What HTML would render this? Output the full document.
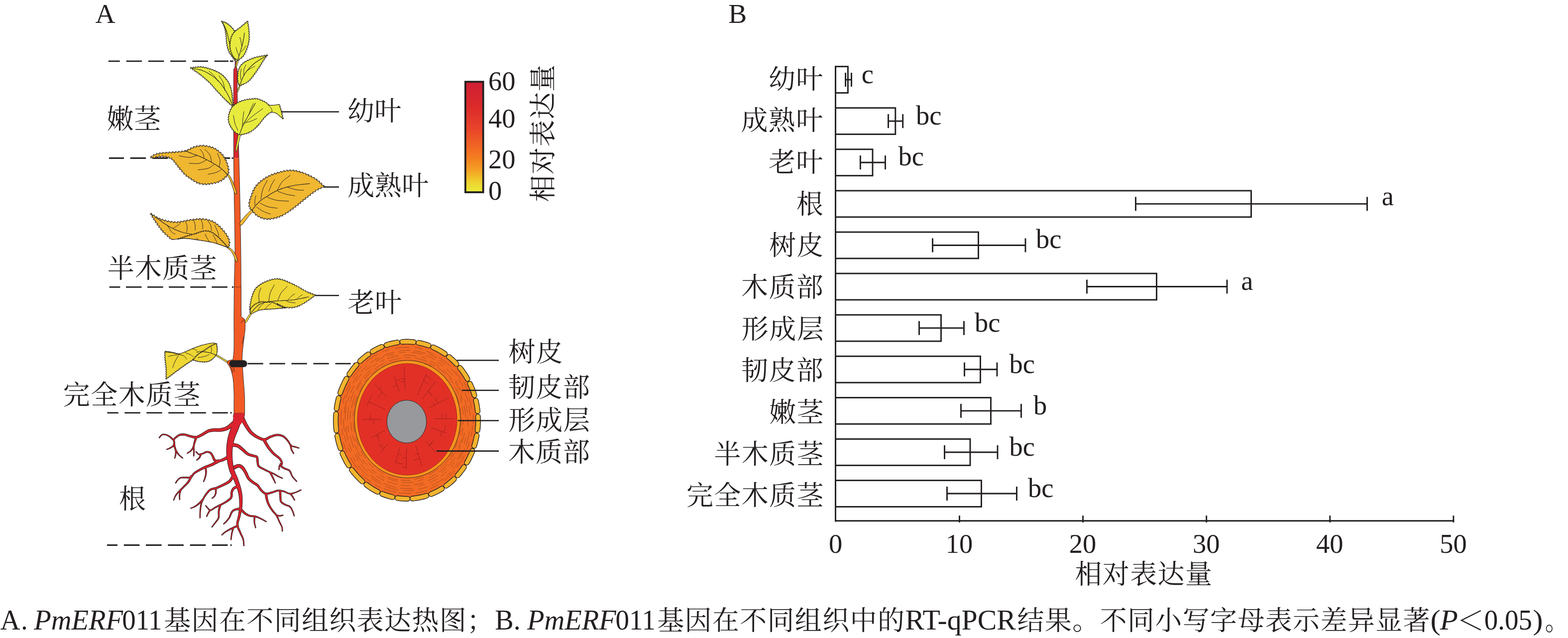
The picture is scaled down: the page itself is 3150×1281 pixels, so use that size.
<!DOCTYPE html>
<html lang="zh-CN">
<head>
<meta charset="utf-8">
<title>PmERF011 基因组织表达</title>
<style>
html,body{margin:0;padding:0;background:#fff;}
body{width:3150px;height:1281px;overflow:hidden;}
svg{display:block;}
svg text{font-family:"Liberation Serif","Noto Serif CJK SC",serif;fill:#231f20;}
</style>
</head>
<body>
<svg width="3150" height="1281" viewBox="0 0 3150 1281">
<rect width="3150" height="1281" fill="#fff"/>
<g id="chart">
<rect x="1678.5" y="133.60" width="24.9" height="52.9" fill="#fff" stroke="#231f20" stroke-width="2.9"/>
<line x1="1698.6" y1="160.05" x2="1710.5" y2="160.05" stroke="#231f20" stroke-width="2.9"/>
<line x1="1698.6" y1="146.05" x2="1698.6" y2="174.05" stroke="#231f20" stroke-width="2.9"/>
<line x1="1710.5" y1="146.05" x2="1710.5" y2="174.05" stroke="#231f20" stroke-width="2.9"/>
<text x="1730.82" y="167.4" font-size="54.5">c</text>
<text x="1543.88" y="177.7" font-size="54" letter-spacing="1.4">幼叶</text>
<rect x="1678.5" y="216.70" width="120.3" height="52.9" fill="#fff" stroke="#231f20" stroke-width="2.9"/>
<line x1="1784.5" y1="243.15" x2="1813.7" y2="243.15" stroke="#231f20" stroke-width="2.9"/>
<line x1="1784.5" y1="229.15" x2="1784.5" y2="257.15" stroke="#231f20" stroke-width="2.9"/>
<line x1="1813.7" y1="229.15" x2="1813.7" y2="257.15" stroke="#231f20" stroke-width="2.9"/>
<text x="1840.00" y="250" font-size="54.5">bc</text>
<text x="1488.48" y="261.4" font-size="54" letter-spacing="1.4">成熟叶</text>
<rect x="1678.5" y="299.80" width="74.5" height="52.9" fill="#fff" stroke="#231f20" stroke-width="2.9"/>
<line x1="1728.4" y1="326.25" x2="1778.5" y2="326.25" stroke="#231f20" stroke-width="2.9"/>
<line x1="1728.4" y1="312.25" x2="1728.4" y2="340.25" stroke="#231f20" stroke-width="2.9"/>
<line x1="1778.5" y1="312.25" x2="1778.5" y2="340.25" stroke="#231f20" stroke-width="2.9"/>
<text x="1804.50" y="332" font-size="54.5">bc</text>
<text x="1543.88" y="345.0" font-size="54" letter-spacing="1.4">老叶</text>
<rect x="1678.5" y="382.90" width="835.0" height="52.9" fill="#fff" stroke="#231f20" stroke-width="2.9"/>
<line x1="2281.5" y1="409.35" x2="2746.5" y2="409.35" stroke="#231f20" stroke-width="2.9"/>
<line x1="2281.5" y1="395.35" x2="2281.5" y2="423.35" stroke="#231f20" stroke-width="2.9"/>
<line x1="2746.5" y1="395.35" x2="2746.5" y2="423.35" stroke="#231f20" stroke-width="2.9"/>
<text x="2775.79" y="412" font-size="54.5">a</text>
<text x="1599.82" y="428.6" font-size="54" letter-spacing="1.4">根</text>
<rect x="1678.5" y="466.00" width="287.0" height="52.9" fill="#fff" stroke="#231f20" stroke-width="2.9"/>
<line x1="1873.5" y1="492.45" x2="2060.0" y2="492.45" stroke="#231f20" stroke-width="2.9"/>
<line x1="1873.5" y1="478.45" x2="1873.5" y2="506.45" stroke="#231f20" stroke-width="2.9"/>
<line x1="2060.0" y1="478.45" x2="2060.0" y2="506.45" stroke="#231f20" stroke-width="2.9"/>
<text x="2081.00" y="497.5" font-size="54.5">bc</text>
<text x="1544.96" y="512.3" font-size="54" letter-spacing="1.4">树皮</text>
<rect x="1678.5" y="549.10" width="645.0" height="52.9" fill="#fff" stroke="#231f20" stroke-width="2.9"/>
<line x1="2183.5" y1="575.55" x2="2465.0" y2="575.55" stroke="#231f20" stroke-width="2.9"/>
<line x1="2183.5" y1="561.55" x2="2183.5" y2="589.55" stroke="#231f20" stroke-width="2.9"/>
<line x1="2465.0" y1="561.55" x2="2465.0" y2="589.55" stroke="#231f20" stroke-width="2.9"/>
<text x="2493.29" y="582" font-size="54.5">a</text>
<text x="1489.02" y="596.0" font-size="54" letter-spacing="1.4">木质部</text>
<rect x="1678.5" y="632.20" width="212.0" height="52.9" fill="#fff" stroke="#231f20" stroke-width="2.9"/>
<line x1="1846.5" y1="658.65" x2="1936.5" y2="658.65" stroke="#231f20" stroke-width="2.9"/>
<line x1="1846.5" y1="644.65" x2="1846.5" y2="672.65" stroke="#231f20" stroke-width="2.9"/>
<line x1="1936.5" y1="644.65" x2="1936.5" y2="672.65" stroke="#231f20" stroke-width="2.9"/>
<text x="1958.00" y="666" font-size="54.5">bc</text>
<text x="1489.83" y="679.6" font-size="54" letter-spacing="1.4">形成层</text>
<rect x="1678.5" y="715.30" width="291.0" height="52.9" fill="#fff" stroke="#231f20" stroke-width="2.9"/>
<line x1="1937.5" y1="741.75" x2="2003.0" y2="741.75" stroke="#231f20" stroke-width="2.9"/>
<line x1="1937.5" y1="727.75" x2="1937.5" y2="755.75" stroke="#231f20" stroke-width="2.9"/>
<line x1="2003.0" y1="727.75" x2="2003.0" y2="755.75" stroke="#231f20" stroke-width="2.9"/>
<text x="2027.50" y="749" font-size="54.5">bc</text>
<text x="1489.02" y="763.2" font-size="54" letter-spacing="1.4">韧皮部</text>
<rect x="1678.5" y="798.40" width="312.0" height="52.9" fill="#fff" stroke="#231f20" stroke-width="2.9"/>
<line x1="1930.5" y1="824.85" x2="2051.5" y2="824.85" stroke="#231f20" stroke-width="2.9"/>
<line x1="1930.5" y1="810.85" x2="1930.5" y2="838.85" stroke="#231f20" stroke-width="2.9"/>
<line x1="2051.5" y1="810.85" x2="2051.5" y2="838.85" stroke="#231f20" stroke-width="2.9"/>
<text x="2076.00" y="832" font-size="54.5">b</text>
<text x="1545.23" y="846.9" font-size="54" letter-spacing="1.4">嫩茎</text>
<rect x="1678.5" y="881.50" width="270.5" height="52.9" fill="#fff" stroke="#231f20" stroke-width="2.9"/>
<line x1="1897.5" y1="907.95" x2="2004.0" y2="907.95" stroke="#231f20" stroke-width="2.9"/>
<line x1="1897.5" y1="893.95" x2="1897.5" y2="921.95" stroke="#231f20" stroke-width="2.9"/>
<line x1="2004.0" y1="893.95" x2="2004.0" y2="921.95" stroke="#231f20" stroke-width="2.9"/>
<text x="2027.50" y="914.5" font-size="54.5">bc</text>
<text x="1434.43" y="930.5" font-size="54" letter-spacing="1.4">半木质茎</text>
<rect x="1678.5" y="964.60" width="293.0" height="52.9" fill="#fff" stroke="#231f20" stroke-width="2.9"/>
<line x1="1902.5" y1="991.05" x2="2042.5" y2="991.05" stroke="#231f20" stroke-width="2.9"/>
<line x1="1902.5" y1="977.05" x2="1902.5" y2="1005.05" stroke="#231f20" stroke-width="2.9"/>
<line x1="2042.5" y1="977.05" x2="2042.5" y2="1005.05" stroke="#231f20" stroke-width="2.9"/>
<text x="2065.00" y="998" font-size="54.5">bc</text>
<text x="1379.03" y="1014.2" font-size="54" letter-spacing="1.4">完全木质茎</text>
<line x1="1678.5" y1="132.15" x2="1678.5" y2="1047.45" stroke="#231f20" stroke-width="2.9"/>
<line x1="1677.05" y1="1045.7" x2="2921.3" y2="1045.7" stroke="#231f20" stroke-width="2.9"/>
<text x="1678.5" y="1110" font-size="54.5" text-anchor="middle">0</text>
<line x1="1927.5" y1="1035.2" x2="1927.5" y2="1049.0" stroke="#231f20" stroke-width="2.9"/>
<text x="1927.0" y="1110" font-size="54.5" text-anchor="middle">10</text>
<line x1="2175.6" y1="1035.2" x2="2175.6" y2="1049.0" stroke="#231f20" stroke-width="2.9"/>
<text x="2175.1" y="1110" font-size="54.5" text-anchor="middle">20</text>
<line x1="2423.7000000000003" y1="1035.2" x2="2423.7000000000003" y2="1049.0" stroke="#231f20" stroke-width="2.9"/>
<text x="2423.2000000000003" y="1110" font-size="54.5" text-anchor="middle">30</text>
<line x1="2671.8" y1="1035.2" x2="2671.8" y2="1049.0" stroke="#231f20" stroke-width="2.9"/>
<text x="2671.3" y="1110" font-size="54.5" text-anchor="middle">40</text>
<line x1="2919.9" y1="1035.2" x2="2919.9" y2="1049.0" stroke="#231f20" stroke-width="2.9"/>
<text x="2919.4" y="1110" font-size="54.5" text-anchor="middle">50</text>
<text x="2159.38" y="1171.5" font-size="54" letter-spacing="1.4">相对表达量</text>
</g>
<text x="191.54" y="46" font-size="55.5">A</text>
<text x="1463.13" y="46" font-size="55.5">B</text>
<g id="caption">
<text transform="translate(0.38,1264) scale(0.9809,1.0000)" font-size="56.5">A</text>
<text transform="translate(42.33,1264) scale(0.9440,1.0000)" font-size="56.5">.</text>
<text transform="translate(68.28,1264) scale(0.9996,1.0000)" font-size="56.5" font-style="italic">PmERF</text>
<text transform="translate(245.21,1264) scale(0.9708,1.0000)" font-size="56.5">011</text>
<text x="329.24" y="1265" font-size="54" letter-spacing="1.35">基因在不同组织表达热图；</text>
<text transform="translate(994.21,1264) scale(0.9950,1.0000)" font-size="56.5">B.</text>
<text transform="translate(1059.08,1264) scale(0.9996,1.0000)" font-size="56.5" font-style="italic">PmERF</text>
<text transform="translate(1236.40,1264) scale(0.9748,1.0000)" font-size="56.5">011</text>
<text x="1320.14" y="1265" font-size="54" letter-spacing="1.35">基因在不同组织中的</text>
<text transform="translate(1818.47,1264) scale(1.0226,1.0000)" font-size="56.5">RT-qPCR</text>
<text x="2043.61" y="1265" font-size="54" letter-spacing="1.35">结果。不同小写字母表示差异显著</text>
<text transform="translate(2873.43,1264) scale(1.0897,1.0000)" font-size="56.5">(</text>
<text transform="translate(2892.80,1264) scale(1.0469,1.0000)" font-size="56.5" font-style="italic">P</text>
<text transform="translate(2926.68,1265) scale(1.0210,1.0000)" font-size="54">＜</text>
<text transform="translate(2981.70,1264) scale(0.9750,1.0000)" font-size="56.5">0.05</text>
<text transform="translate(3079.39,1264) scale(1.0688,1.0000)" font-size="56.5">)</text>
<text transform="translate(3103.72,1265) scale(0.8707,1.0000)" font-size="54">。</text>
</g>
<g id="panelA">
<text x="214.44" y="258" font-size="54" letter-spacing="0.8">嫩茎</text>
<text x="215.64" y="558" font-size="54" letter-spacing="1.3">半木质茎</text>
<text x="126.84" y="812" font-size="54" letter-spacing="1.4">完全木质茎</text>
<text x="239.11" y="1020.5" font-size="54">根</text>
<text x="698.04" y="242.4" font-size="54" letter-spacing="0.3">幼叶</text>
<text x="698.31" y="391.6" font-size="54" letter-spacing="0.5">成熟叶</text>
<text x="698.58" y="626.5" font-size="54" letter-spacing="0.3">老叶</text>
<text x="1021.48" y="726" font-size="54" letter-spacing="1.0">树皮</text>
<text x="1020.94" y="797" font-size="54" letter-spacing="1.0">韧皮部</text>
<text x="1021.21" y="863" font-size="54" letter-spacing="1.0">形成层</text>
<text x="1020.94" y="927" font-size="54" letter-spacing="1.0">木质部</text>
<path d="M217.8,122.9H240.8 M253.6,122.9H285.1 M297.9,122.9H329.4 M342.2,122.9H373.7 M386.5,122.9H418.0 M430.8,122.9H459.0" fill="none" stroke="#231f20" stroke-width="2.8"/>
<path d="M462,122.9H468.6" fill="none" stroke="#231f20" stroke-width="2.8"/>
<path d="M218.9,317.5H248.9 M261.7,317.5H293.2 M306.0,317.5H337.5 M350.3,317.5H381.8 M394.6,317.5H426.1 M438.9,317.5H462.5" fill="none" stroke="#231f20" stroke-width="2.8"/>
<path d="M465.5,317.5H468.8" fill="none" stroke="#231f20" stroke-width="2.8"/>
<path d="M219.6,576.4H241.4 M253.0,576.4H284.5 M296.1,576.4H327.6 M339.2,576.4H370.7 M382.3,576.4H413.8 M425.4,576.4H456.9" fill="none" stroke="#231f20" stroke-width="2.8"/>
<path d="M466,576.4H469.2" fill="none" stroke="#231f20" stroke-width="2.8"/>
<path d="M215.3,828.8H237.8 M250.3,828.8H281.8 M294.3,828.8H325.8 M338.3,828.8H369.8 M382.3,828.8H413.8 M426.3,828.8H457.8" fill="none" stroke="#231f20" stroke-width="2.8"/>
<path d="M462.5,828.8H465.6" fill="none" stroke="#231f20" stroke-width="2.8"/>
<path d="M215.0,1094.5H236.0 M248.8,1094.5H280.3 M293.1,1094.5H324.6 M337.4,1094.5H368.9 M381.7,1094.5H413.2 M426.0,1094.5H457.5" fill="none" stroke="#231f20" stroke-width="2.8"/>
<path d="M462.5,1094.5H465.6" fill="none" stroke="#231f20" stroke-width="2.8"/>
<path d="M497.5,730.2H528.7 M541.5,730.2H572.7 M585.5,730.2H616.7 M629.5,730.2H660.7 M673.5,730.2H704.7" fill="none" stroke="#231f20" stroke-width="2.8"/>
<path d="M710,730.2H713.5" fill="none" stroke="#231f20" stroke-width="2.8"/>
<line x1="566" y1="224.5" x2="681" y2="224.5" stroke="#231f20" stroke-width="2.6"/>
<line x1="651" y1="375.5" x2="681" y2="375.5" stroke="#231f20" stroke-width="2.6"/>
<line x1="634" y1="593.2" x2="681" y2="593.2" stroke="#231f20" stroke-width="2.6"/>
<defs><linearGradient id="cb" x1="0" y1="0" x2="0" y2="1"><stop offset="0" stop-color="#cf1f33"/><stop offset="0.22" stop-color="#dc2a2b"/><stop offset="0.42" stop-color="#e8432a"/><stop offset="0.55" stop-color="#ef5e25"/><stop offset="0.68" stop-color="#f47b20"/><stop offset="0.80" stop-color="#f4a124"/><stop offset="0.90" stop-color="#f0cf2e"/><stop offset="1" stop-color="#eaed3a"/></linearGradient></defs>
<rect x="934.9" y="164.2" width="35.8" height="221.8" fill="url(#cb)" stroke="#231f20" stroke-width="3.8"/>
<text x="981" y="181" font-size="54.5">60</text>
<text x="981" y="256" font-size="54.5">40</text>
<text x="981" y="337.5" font-size="54.5">20</text>
<text x="981" y="400.5" font-size="54.5">0</text>
<text transform="translate(1109.5,405.5) rotate(-90)" font-size="54" letter-spacing="1.4">相对表达量</text>
<path d="M488.9,831.3 488.3,832.7 487.8,834.1 487.3,835.5 486.8,836.9 486.3,838.4 485.8,839.8 485.3,841.2 484.8,842.6 484.3,844.1 483.8,845.5 483.3,847.0 482.8,848.4 482.3,849.8 481.9,851.3 481.3,852.7 480.8,854.1 480.3,855.6 479.8,857.0 479.2,858.5 478.7,860.1 478.1,861.5 477.5,862.9 477.0,864.3 476.4,865.7 475.8,867.1 475.2,868.5 474.6,869.9 474.0,871.3 473.5,872.6 472.9,874.0 472.4,875.3 471.9,876.7 471.4,878.0 471.0,879.2 470.5,880.7 470.1,882.0 469.7,883.3 469.3,884.8 469.0,886.1 468.6,887.5 468.3,888.9 468.0,890.3 467.7,891.6 467.4,893.1 467.2,894.5 466.9,895.9 466.7,897.2 466.5,898.7 466.4,900.1 466.2,901.5 466.1,903.0 466.0,904.4 465.9,905.8 465.8,907.2 465.8,908.7 465.8,910.1 465.8,911.5 465.8,913.0 465.8,914.4 465.9,915.8 465.9,917.3 466.0,918.8 466.1,920.2 466.2,921.7 466.3,923.2 466.5,924.6 466.6,926.1 466.7,927.5 466.9,929.0 467.1,930.4 467.3,931.9 467.5,933.3 467.7,934.7 468.0,936.2 468.3,937.5 468.6,938.9 468.9,940.2 469.2,941.7 469.6,943.0 470.0,944.3 470.5,945.7 471.0,947.0 471.5,948.3 472.1,949.7 472.6,951.0 473.2,952.4 473.8,953.7 474.5,955.1 475.1,956.5 475.7,957.9 476.3,959.4 476.8,960.8 477.4,962.3 477.9,963.8 478.4,965.2 478.9,966.6 479.4,968.0 479.8,969.5 480.3,970.9 480.8,972.3 481.3,973.8 481.7,975.2 482.2,976.7 482.6,978.2 483.0,979.7 483.4,981.2 483.8,982.7 484.1,984.2 484.4,985.7 484.8,987.2 485.0,988.7 485.3,990.3 485.5,991.9 485.6,993.3 485.8,994.9 485.9,996.4 486.0,998.0 486.1,999.5 486.2,1001.0 486.2,1002.6 486.2,1004.1 486.2,1005.6 486.2,1007.2 486.2,1008.7 486.2,1010.2 486.1,1011.7 486.0,1013.2 485.9,1014.8 485.8,1016.4 485.6,1017.9 485.5,1019.4 485.2,1020.9 485.0,1022.4 484.7,1023.9 484.5,1025.4 484.2,1026.9 483.9,1028.4 483.6,1029.9 483.2,1031.4 482.9,1032.8 482.6,1034.3 482.3,1035.8 482.0,1037.3 481.6,1038.8 481.1,1040.2 480.7,1041.7 480.2,1043.1 479.8,1044.6 479.3,1046.0 478.9,1047.4 478.6,1048.8 478.3,1050.1 478.1,1051.6 478.0,1053.0 478.1,1054.4 478.3,1055.8 478.6,1057.2 479.0,1058.5 479.4,1059.9 480.0,1061.3 480.6,1062.6 481.2,1064.0 481.8,1065.4 482.4,1066.8 483.0,1068.2 483.5,1069.6 484.1,1070.9 484.7,1072.3 485.4,1073.7 486.0,1075.0 486.6,1076.4 487.2,1077.8 487.8,1079.2 488.3,1080.6 488.8,1082.1 489.2,1083.5 489.4,1085.0 489.6,1086.6 489.7,1088.1 489.8,1089.6 489.9,1091.1 489.9,1092.6 490.0,1094.1 490.1,1095.6 489.9,1095.6 489.7,1094.1 489.6,1092.6 489.4,1091.1 489.3,1089.6 489.2,1088.1 489.0,1086.6 488.7,1085.2 488.4,1083.7 488.0,1082.3 487.5,1080.9 486.9,1079.6 486.3,1078.2 485.6,1076.9 484.9,1075.5 484.2,1074.2 483.5,1072.9 482.8,1071.5 482.2,1070.2 481.6,1068.8 480.9,1067.4 480.3,1066.1 479.6,1064.8 478.9,1063.4 478.3,1062.1 477.6,1060.7 477.1,1059.2 476.6,1057.7 476.1,1056.2 475.9,1054.6 475.7,1053.0 475.7,1051.4 475.9,1049.9 476.1,1048.3 476.4,1046.8 476.8,1045.3 477.2,1043.8 477.5,1042.3 477.9,1040.9 478.3,1039.5 478.6,1038.0 479.0,1036.6 479.2,1035.2 479.5,1033.7 479.7,1032.2 479.9,1030.7 480.2,1029.3 480.4,1027.8 480.6,1026.3 480.8,1024.8 481.0,1023.4 481.2,1021.9 481.4,1020.4 481.5,1019.0 481.6,1017.5 481.7,1016.0 481.8,1014.6 481.8,1013.1 481.8,1011.6 481.8,1010.2 481.7,1008.7 481.7,1007.2 481.6,1005.7 481.6,1004.3 481.5,1002.8 481.3,1001.3 481.2,999.8 481.1,998.4 480.9,997.0 480.7,995.5 480.5,994.1 480.2,992.6 480.0,991.2 479.7,989.8 479.3,988.4 479.0,987.0 478.6,985.5 478.2,984.2 477.8,982.7 477.3,981.4 476.9,980.0 476.4,978.6 475.9,977.2 475.4,975.8 474.9,974.4 474.3,973.1 473.8,971.7 473.2,970.3 472.7,968.9 472.1,967.5 471.6,966.1 471.0,964.8 470.5,963.5 469.8,962.1 469.2,960.8 468.6,959.5 467.9,958.2 467.2,956.9 466.5,955.5 465.9,954.2 465.2,952.8 464.5,951.4 463.9,950.0 463.2,948.5 462.6,947.1 462.0,945.5 461.5,944.0 461.0,942.5 460.6,941.0 460.2,939.4 459.8,937.9 459.4,936.4 459.1,934.8 458.7,933.3 458.5,931.8 458.2,930.3 457.9,928.7 457.7,927.2 457.4,925.7 457.2,924.2 457.0,922.7 456.8,921.1 456.6,919.6 456.4,918.0 456.3,916.5 456.1,915.0 456.0,913.4 455.9,911.9 455.8,910.3 455.7,908.7 455.7,907.2 455.7,905.6 455.7,904.0 455.7,902.4 455.7,900.9 455.8,899.3 455.9,897.7 456.0,896.2 456.1,894.6 456.3,893.0 456.5,891.4 456.7,889.9 456.9,888.3 457.1,886.7 457.4,885.2 457.7,883.6 458.0,882.0 458.3,880.6 458.6,879.0 459.0,877.4 459.4,875.9 459.8,874.3 460.3,872.7 460.7,871.3 461.2,869.7 461.6,868.3 462.1,866.8 462.6,865.4 463.1,864.0 463.6,862.5 464.1,861.1 464.5,859.7 465.0,858.3 465.4,857.0 465.8,855.5 466.2,854.2 466.6,852.9 467.0,851.4 467.4,850.0 467.8,848.6 468.1,847.1 468.5,845.7 468.8,844.3 469.2,842.8 469.5,841.4 469.9,839.9 470.2,838.5 470.6,837.0 470.9,835.5 471.2,834.1 471.6,832.6 471.9,831.1 472.2,829.7 472.6,828.2 472.8,826.7Z" fill="#231f20" stroke="#231f20" stroke-width="2.3" stroke-linejoin="round"/>
<path d="M488.5,835.1 489.0,836.5 489.6,837.9 490.2,839.3 490.8,840.7 491.4,842.1 492.0,843.4 492.6,844.8 493.2,846.1 493.8,847.4 494.5,848.7 495.1,850.0 495.8,851.3 496.5,852.6 497.3,853.9 498.0,855.2 498.7,856.4 499.4,857.7 500.2,858.9 501.0,860.2 501.8,861.4 502.5,862.6 503.4,863.7 504.3,864.9 505.2,866.0 506.1,867.0 507.1,868.0 508.1,868.9 509.1,869.9 510.3,870.8 511.4,871.7 512.6,872.5 513.7,873.4 515.0,874.2 516.2,874.9 517.4,875.7 518.7,876.4 520.0,877.1 521.3,877.8 522.5,878.4 523.8,879.0 525.1,879.6 526.5,880.0 527.8,880.4 529.1,880.7 530.4,880.8 531.7,880.8 533.0,880.6 534.2,880.2 535.4,879.6 536.6,878.9 537.9,878.2 539.3,877.4 540.7,876.7 542.1,876.0 543.6,875.5 545.0,875.0 546.4,874.6 547.8,874.1 549.3,873.7 550.8,873.2 552.3,872.9 553.8,872.6 555.3,872.4 556.9,872.2 558.4,872.3 560.0,872.4 561.6,872.6 563.1,872.9 564.6,873.3 566.0,873.8 567.5,874.4 568.9,875.1 570.2,875.9 571.5,876.8 572.7,877.8 573.8,878.9 574.8,880.0 575.8,881.1 576.8,882.3 577.7,883.5 578.6,884.6 579.5,885.8 580.4,887.1 581.2,888.4 581.9,889.8 582.6,891.1 583.3,892.3 584.1,893.5 585.1,894.5 586.3,895.3 587.7,895.8 589.1,896.1 590.5,896.4 592.0,896.7 593.4,897.2 594.9,897.6 596.3,898.1 597.7,898.5 599.1,899.0 600.6,899.4 600.5,899.7 599.1,899.3 597.6,898.9 596.2,898.5 594.7,898.1 593.3,897.7 591.9,897.3 590.4,897.0 589.0,896.7 587.5,896.4 586.0,896.0 584.6,895.1 583.5,894.1 582.6,892.8 581.7,891.5 581.0,890.2 580.2,889.0 579.5,887.7 578.6,886.5 577.7,885.4 576.7,884.3 575.8,883.1 574.8,882.0 573.8,881.0 572.7,879.9 571.7,879.0 570.5,878.1 569.3,877.3 568.1,876.6 566.8,876.0 565.5,875.5 564.1,875.1 562.7,874.8 561.2,874.5 559.8,874.4 558.4,874.3 557.0,874.3 555.6,874.5 554.2,874.7 552.8,875.1 551.4,875.5 550.0,875.9 548.6,876.4 547.2,876.9 545.8,877.4 544.4,878.0 543.1,878.5 541.9,879.1 540.6,879.8 539.4,880.6 538.1,881.4 536.8,882.2 535.3,883.0 533.8,883.5 532.1,883.9 530.4,884.0 528.7,883.9 527.1,883.7 525.6,883.3 524.0,882.8 522.6,882.3 521.1,881.7 519.7,881.0 518.3,880.4 517.0,879.7 515.6,879.0 514.2,878.3 512.9,877.5 511.6,876.7 510.3,875.9 509.0,875.0 507.7,874.1 506.5,873.2 505.3,872.2 504.1,871.2 502.9,870.1 501.8,869.0 500.7,867.8 499.7,866.7 498.7,865.4 497.8,864.2 496.9,862.9 496.0,861.7 495.2,860.4 494.3,859.1 493.5,857.8 492.7,856.6 491.9,855.3 491.1,854.0 490.3,852.7 489.5,851.4 488.8,850.0 488.0,848.7 487.3,847.4 486.6,846.0 485.9,844.7 485.2,843.3 484.5,842.0 483.8,840.7 483.1,839.4 482.4,838.1Z" fill="#231f20" stroke="#231f20" stroke-width="2.3" stroke-linejoin="round"/>
<path d="M584.6,893.0 584.8,894.5 584.9,896.1 585.1,897.6 585.3,899.2 585.6,900.6 586.0,902.1 586.5,903.6 587.1,905.0 587.8,906.3 588.5,907.7 589.3,909.1 590.0,910.5 589.7,910.6 589.0,909.3 588.1,907.9 587.3,906.6 586.5,905.3 585.8,903.9 585.1,902.4 584.6,900.9 584.2,899.4 583.9,897.8 583.6,896.3 583.2,894.8 582.9,893.3Z" fill="#231f20" stroke="#231f20" stroke-width="2.3" stroke-linejoin="round"/>
<path d="M531.7,880.7 532.3,882.1 533.0,883.4 533.7,884.7 534.4,886.1 535.0,887.4 535.7,888.7 536.4,890.0 537.1,891.3 537.8,892.6 538.5,893.9 539.3,895.2 540.0,896.4 540.8,897.6 541.7,898.8 542.5,900.0 543.4,901.2 544.3,902.3 545.2,903.5 546.1,904.6 547.0,905.7 548.0,906.8 549.0,907.9 550.0,909.0 551.0,910.0 552.0,911.0 553.1,912.0 554.3,912.9 555.4,913.8 556.6,914.7 557.8,915.6 559.0,916.5 560.1,917.5 561.3,918.6 562.4,919.7 563.4,920.9 564.3,922.2 565.1,923.6 565.8,924.9 566.4,926.4 566.8,927.9 567.2,929.4 567.2,931.2 566.5,932.9 565.8,934.1 565.4,935.2 565.8,935.9 566.8,936.9 568.0,937.7 569.2,938.5 570.5,939.2 571.8,939.9 573.1,940.6 574.4,941.2 575.8,941.6 577.2,942.0 578.7,942.5 580.0,943.2 581.4,944.1 582.4,945.3 583.3,946.6 584.0,947.9 584.6,949.3 585.1,950.7 585.6,952.1 586.2,953.5 586.8,954.9 587.4,956.2 588.2,957.4 589.1,958.6 590.0,959.8 590.9,960.9 592.0,962.0 593.0,963.1 594.0,964.1 595.0,965.2 596.0,966.3 595.9,966.5 594.8,965.4 593.8,964.4 592.7,963.3 591.7,962.3 590.6,961.2 589.6,960.1 588.6,959.0 587.7,957.8 586.9,956.5 586.2,955.2 585.5,953.8 584.9,952.4 584.4,951.0 583.8,949.7 583.2,948.4 582.5,947.1 581.7,945.9 580.7,944.9 579.6,944.2 578.2,943.6 576.9,943.2 575.4,942.8 574.0,942.4 572.5,941.8 571.1,941.1 569.8,940.5 568.5,939.8 567.2,939.0 565.8,938.1 564.7,937.0 563.8,935.2 564.2,933.4 565.0,932.1 565.4,930.9 565.4,929.8 565.0,928.4 564.6,927.1 564.0,925.8 563.3,924.6 562.5,923.4 561.7,922.3 560.8,921.2 559.8,920.2 558.7,919.3 557.5,918.4 556.4,917.5 555.1,916.7 553.9,915.8 552.7,914.9 551.5,914.0 550.3,913.0 549.1,912.0 548.0,911.0 546.9,909.9 545.9,908.8 544.8,907.7 543.8,906.6 542.8,905.4 541.8,904.3 540.9,903.1 539.9,901.9 539.0,900.7 538.1,899.5 537.2,898.3 536.3,897.0 535.5,895.8 534.7,894.5 533.9,893.2 533.1,891.9 532.3,890.6 531.6,889.3 530.8,888.0 530.1,886.7 529.3,885.5 528.5,884.2 527.7,882.9Z" fill="#231f20" stroke="#231f20" stroke-width="2.3" stroke-linejoin="round"/>
<path d="M564.6,931.7 563.7,933.0 562.9,934.3 562.1,935.6 561.5,936.9 561.2,938.3 561.0,939.8 560.8,941.4 560.7,942.9 560.4,942.9 560.4,941.4 560.5,939.8 560.5,938.3 560.8,936.7 561.3,935.2 561.9,933.7 562.6,932.3 563.2,930.9Z" fill="#231f20" stroke="#231f20" stroke-width="2.3" stroke-linejoin="round"/>
<path d="M470.7,853.1 469.5,853.9 468.3,854.8 467.2,855.6 466.0,856.6 464.8,857.5 463.5,858.4 462.2,859.4 460.9,860.3 459.5,861.1 458.0,861.9 456.5,862.6 454.9,863.2 453.4,863.7 451.8,864.1 450.2,864.5 448.6,864.8 447.1,865.1 445.6,865.3 444.1,865.5 442.5,865.7 440.9,865.8 439.3,865.9 437.7,865.9 436.1,865.8 434.6,865.7 433.1,865.7 431.7,865.6 430.2,865.6 428.9,865.7 427.4,865.8 425.9,866.0 424.5,866.1 423.1,866.3 421.8,866.6 420.4,867.0 419.1,867.4 417.9,867.9 416.6,868.6 415.4,869.2 414.1,870.0 412.8,870.8 411.5,871.5 410.2,872.3 408.9,873.1 407.5,873.8 406.1,874.5 404.8,875.2 403.5,875.9 402.1,876.5 400.7,877.2 399.3,877.9 397.8,878.4 396.2,878.9 394.6,879.2 393.0,879.4 391.4,879.3 389.7,879.1 388.1,878.8 386.6,878.4 385.2,878.0 383.7,877.6 382.3,877.2 380.8,876.8 379.3,876.4 377.9,875.9 376.5,875.4 375.1,874.9 373.7,874.4 372.3,874.0 370.9,873.7 369.5,873.6 368.0,873.5 366.6,873.4 365.1,873.5 363.7,873.6 362.3,873.8 361.0,874.2 359.7,874.7 358.4,875.4 357.2,876.2 356.0,877.1 354.8,878.0 353.6,878.9 352.5,879.8 351.5,880.8 350.5,882.0 349.0,883.0 347.0,882.8 345.7,881.8 344.6,880.7 343.6,879.6 342.5,878.6 341.4,877.7 340.2,876.8 339.0,876.0 337.7,875.3 336.4,874.5 335.1,873.9 333.7,873.3 332.3,872.9 330.9,872.7 329.4,872.6 327.9,872.7 326.5,873.0 325.1,873.5 323.9,874.3 322.9,875.4 321.9,876.5 321.0,877.7 320.0,878.9 319.8,878.7 320.8,877.5 321.7,876.3 322.6,875.1 323.6,874.0 324.9,873.1 326.3,872.5 327.8,872.2 329.4,872.0 330.9,872.1 332.4,872.3 333.9,872.6 335.4,873.2 336.8,873.8 338.1,874.5 339.4,875.2 340.7,876.0 342.0,876.8 343.3,877.8 344.4,878.9 345.4,879.9 346.5,880.9 347.7,881.7 348.6,881.8 349.5,881.1 350.4,879.9 351.5,878.8 352.7,877.7 353.9,876.8 355.0,875.9 356.3,874.9 357.5,874.0 358.9,873.2 360.3,872.5 361.9,872.0 363.4,871.7 365.0,871.5 366.5,871.4 368.1,871.4 369.6,871.5 371.2,871.6 372.8,871.9 374.3,872.3 375.8,872.7 377.2,873.2 378.6,873.6 380.0,874.0 381.4,874.4 382.9,874.7 384.4,875.1 385.8,875.5 387.3,875.8 388.7,876.1 390.1,876.4 391.4,876.5 392.8,876.5 394.1,876.3 395.5,876.0 396.8,875.5 398.1,875.0 399.3,874.4 400.6,873.7 401.9,873.0 403.3,872.2 404.6,871.5 405.9,870.8 407.1,870.1 408.4,869.3 409.6,868.5 410.9,867.7 412.1,866.8 413.4,866.0 414.8,865.2 416.1,864.5 417.7,863.7 419.2,863.2 420.7,862.7 422.3,862.3 423.9,862.0 425.5,861.7 427.0,861.5 428.5,861.4 430.1,861.2 431.7,861.1 433.2,861.1 434.8,861.1 436.2,861.1 437.7,861.1 439.1,861.1 440.5,861.0 441.9,860.8 443.3,860.6 444.8,860.3 446.2,860.0 447.6,859.7 449.0,859.3 450.3,859.0 451.6,858.5 452.9,858.1 454.1,857.5 455.3,856.9 456.4,856.2 457.5,855.5 458.7,854.6 459.8,853.7 460.9,852.8 462.0,851.8 463.1,850.8 464.2,849.7 465.4,848.7 466.6,847.7Z" fill="#231f20" stroke="#231f20" stroke-width="2.3" stroke-linejoin="round"/>
<path d="M349.6,881.6 349.8,883.1 350.1,884.6 350.4,886.1 350.7,887.6 350.8,889.2 350.7,890.9 350.4,892.4 349.7,893.9 348.7,895.2 347.6,896.4 346.3,897.3 345.0,898.2 343.7,898.9 342.4,899.6 341.0,900.3 339.5,900.9 338.1,901.4 336.7,901.9 335.2,902.4 335.1,902.2 336.6,901.6 338.0,901.0 339.4,900.5 340.7,899.8 342.1,899.1 343.4,898.3 344.6,897.5 345.8,896.6 346.9,895.7 347.9,894.6 348.7,893.4 349.2,892.1 349.5,890.7 349.5,889.3 349.2,887.9 348.9,886.4 348.5,885.0 348.0,883.5 347.6,882.0Z" fill="#231f20" stroke="#231f20" stroke-width="2.3" stroke-linejoin="round"/>
<path d="M350.5,891.3 350.8,892.8 351.1,894.3 351.4,895.7 351.7,897.1 352.1,898.6 352.4,900.0 352.9,901.3 353.4,902.7 354.0,904.0 354.7,905.3 355.4,906.6 356.1,907.9 356.9,909.1 357.7,910.3 358.5,911.5 359.4,912.7 360.4,913.8 361.4,914.8 362.5,915.8 363.7,916.7 364.8,917.7 365.9,918.6 367.0,919.6 366.9,919.8 365.7,918.9 364.6,917.9 363.4,917.0 362.2,916.1 361.1,915.2 360.0,914.2 358.9,913.1 357.9,912.0 357.0,910.8 356.1,909.6 355.3,908.4 354.5,907.1 353.7,905.8 353.0,904.5 352.3,903.2 351.7,901.8 351.1,900.4 350.6,899.0 350.2,897.5 349.8,896.1 349.4,894.7 349.0,893.3 348.6,891.9Z" fill="#231f20" stroke="#231f20" stroke-width="2.3" stroke-linejoin="round"/>
<path d="M353.9,903.8 353.8,905.3 353.7,906.8 353.6,908.2 353.5,909.7 353.4,911.2 353.2,912.6 352.9,914.1 352.5,915.5 352.1,916.9 351.6,918.3 351.2,919.7 350.9,919.7 351.3,918.2 351.7,916.8 352.0,915.4 352.3,914.0 352.5,912.5 352.7,911.1 352.7,909.7 352.7,908.2 352.6,906.7 352.6,905.3 352.5,903.8Z" fill="#231f20" stroke="#231f20" stroke-width="2.3" stroke-linejoin="round"/>
<path d="M395.7,878.0 395.1,879.4 394.6,880.7 394.1,882.1 393.5,883.5 393.0,884.9 392.5,886.3 392.0,887.7 391.5,889.0 391.1,890.4 390.7,891.8 390.4,893.3 390.0,894.7 389.6,896.2 389.0,897.6 388.3,899.0 387.6,900.3 386.7,901.5 385.8,902.8 384.9,903.9 383.9,905.0 382.8,906.1 381.6,907.0 380.3,907.8 379.0,908.5 377.7,909.3 376.5,910.0 376.3,909.8 377.6,909.0 378.8,908.2 380.1,907.4 381.3,906.6 382.4,905.6 383.4,904.6 384.3,903.4 385.2,902.3 386.0,901.0 386.7,899.8 387.3,898.5 387.9,897.2 388.4,895.8 388.7,894.4 389.0,893.0 389.2,891.5 389.5,890.0 389.9,888.6 390.3,887.1 390.7,885.7 391.1,884.3 391.5,882.8 391.9,881.4 392.4,880.0 392.8,878.6 393.1,877.1Z" fill="#231f20" stroke="#231f20" stroke-width="2.3" stroke-linejoin="round"/>
<path d="M389.6,897.1 389.6,898.6 389.7,900.1 389.7,901.6 389.8,903.2 389.9,904.7 389.9,906.2 389.9,907.8 389.8,909.3 389.7,910.8 389.6,912.4 389.5,913.9 389.4,915.4 389.1,915.4 389.1,913.9 389.2,912.4 389.2,910.8 389.3,909.3 389.2,907.8 389.2,906.3 389.1,904.7 388.9,903.2 388.8,901.7 388.6,900.2 388.4,898.7 388.3,897.1Z" fill="#231f20" stroke="#231f20" stroke-width="2.3" stroke-linejoin="round"/>
<path d="M467.6,890.5 469.0,890.8 470.4,891.0 471.9,891.3 473.4,891.5 475.0,891.9 476.7,892.3 478.2,892.9 479.7,893.7 481.2,894.7 482.5,895.7 483.7,896.7 484.9,897.7 486.0,898.7 487.1,899.7 488.2,900.7 489.4,901.7 490.5,902.8 491.6,903.9 492.6,904.9 493.7,905.9 494.7,906.9 495.8,907.9 496.9,908.8 498.0,909.6 499.2,910.4 500.4,911.0 501.6,911.5 503.0,912.0 504.4,912.4 505.8,912.8 507.2,913.2 508.7,913.7 510.0,914.1 511.4,914.3 512.9,914.6 514.5,915.0 516.2,915.9 517.6,917.7 518.0,919.3 518.3,921.0 518.3,922.5 518.4,924.0 518.5,925.5 518.7,926.9 518.9,928.4 519.0,930.0 519.1,931.4 519.3,932.8 519.7,934.0 520.3,935.2 521.1,936.1 522.2,937.0 523.4,937.8 524.7,938.5 526.0,939.2 527.3,939.8 528.7,940.5 530.0,941.3 531.3,942.0 532.6,942.7 533.9,943.4 535.3,944.0 536.6,944.7 537.9,945.3 539.3,946.0 540.6,946.6 542.0,947.3 543.3,947.9 544.7,948.5 546.1,949.1 547.5,949.7 548.8,950.3 550.2,951.0 551.5,951.7 552.8,952.5 554.1,953.3 555.4,954.1 556.6,954.8 557.9,955.6 559.2,956.3 560.5,957.0 561.9,957.6 563.2,958.3 564.6,958.9 566.0,959.5 567.3,960.2 567.2,960.4 565.8,959.8 564.5,959.2 563.1,958.6 561.7,958.0 560.3,957.4 559.0,956.8 557.6,956.1 556.3,955.4 555.0,954.6 553.7,953.9 552.4,953.1 551.1,952.4 549.8,951.8 548.5,951.1 547.1,950.5 545.7,950.0 544.3,949.4 542.9,948.9 541.5,948.3 540.1,947.7 538.8,947.1 537.4,946.5 536.0,945.9 534.7,945.3 533.3,944.6 531.9,944.0 530.6,943.3 529.3,942.6 527.9,942.0 526.6,941.3 525.2,940.7 523.9,940.0 522.5,939.3 521.2,938.5 519.9,937.5 518.7,936.3 517.8,934.9 517.3,933.2 517.0,931.7 516.8,930.1 516.6,928.7 516.4,927.3 516.1,925.7 516.0,924.2 515.9,922.7 515.8,921.2 515.6,919.9 515.1,918.7 514.7,918.2 513.7,917.7 512.4,917.4 511.0,917.2 509.4,916.9 507.8,916.5 506.4,916.1 505.0,915.8 503.5,915.4 502.0,915.0 500.6,914.6 499.0,914.0 497.5,913.3 496.1,912.5 494.8,911.6 493.5,910.6 492.3,909.7 491.2,908.7 490.0,907.6 488.9,906.6 487.8,905.6 486.7,904.7 485.6,903.8 484.4,902.8 483.2,901.9 482.1,900.9 481.0,900.0 479.9,899.2 478.7,898.4 477.7,897.8 476.5,897.2 475.2,896.8 474.0,896.6 472.7,896.4 471.2,896.2 469.7,896.1 468.2,896.0 466.6,895.8Z" fill="#231f20" stroke="#231f20" stroke-width="2.3" stroke-linejoin="round"/>
<path d="M543.7,947.9 544.3,949.3 544.9,950.7 545.5,952.0 546.1,953.4 546.7,954.7 547.4,956.1 548.0,957.5 548.6,958.8 549.2,960.2 549.8,961.5 550.4,962.9 551.0,964.3 551.5,965.6 552.1,967.0 552.7,968.4 553.3,969.7 553.1,969.8 552.4,968.5 551.8,967.2 551.1,965.8 550.4,964.5 549.7,963.2 549.1,961.9 548.4,960.6 547.7,959.2 547.0,957.9 546.3,956.6 545.6,955.3 544.9,954.0 544.1,952.7 543.4,951.4 542.7,950.1 541.9,948.9Z" fill="#231f20" stroke="#231f20" stroke-width="2.3" stroke-linejoin="round"/>
<path d="M462.2,918.2 460.9,918.8 459.6,919.5 458.2,920.2 456.9,920.9 455.6,921.6 454.2,922.3 452.9,923.0 451.5,923.6 450.0,924.2 448.6,924.8 447.2,925.3 445.7,925.8 444.2,926.2 442.7,926.6 441.1,927.0 439.6,927.2 437.9,927.3 436.3,927.3 434.7,927.0 433.0,926.5 431.4,925.6 430.0,924.5 429.0,923.0 428.3,921.6 427.8,920.1 427.3,918.7 426.8,917.3 426.2,916.1 425.5,914.8 424.9,913.5 424.2,912.2 423.4,911.1 422.5,910.1 421.4,909.4 420.1,908.9 418.8,908.5 417.4,908.2 416.0,908.1 414.6,908.2 413.3,908.6 412.0,909.1 410.6,909.8 409.3,910.4 407.8,911.0 406.4,911.4 405.0,911.9 403.6,912.4 402.1,912.8 400.5,912.8 399.0,912.3 397.7,911.4 396.7,910.3 395.7,909.2 394.7,908.0 393.7,907.0 393.9,906.8 395.0,907.8 396.0,908.9 397.0,910.0 398.1,911.0 399.3,911.8 400.6,912.2 402.0,912.1 403.4,911.7 404.7,911.1 406.1,910.6 407.5,910.0 408.8,909.5 410.1,908.8 411.5,908.1 412.9,907.4 414.4,906.9 416.0,906.7 417.5,906.8 419.1,907.0 420.6,907.4 422.1,907.9 423.6,908.8 424.8,909.9 425.8,911.2 426.6,912.5 427.4,913.8 428.1,915.1 428.9,916.5 429.5,917.9 430.0,919.3 430.6,920.6 431.2,921.8 432.0,922.7 432.9,923.4 433.9,923.9 435.2,924.2 436.5,924.3 437.8,924.3 439.1,924.1 440.5,923.8 441.8,923.5 443.2,923.0 444.6,922.5 445.9,922.0 447.2,921.4 448.5,920.8 449.8,920.2 451.0,919.5 452.3,918.7 453.5,917.9 454.7,917.1 456.0,916.3 457.2,915.5 458.5,914.7 459.8,913.9Z" fill="#231f20" stroke="#231f20" stroke-width="2.3" stroke-linejoin="round"/>
<path d="M404.4,912.1 403.8,913.4 403.2,914.8 402.6,916.2 402.0,917.6 401.2,918.9 400.2,920.1 399.1,921.1 397.8,922.0 396.6,922.9 395.4,923.8 395.3,923.6 396.4,922.6 397.5,921.6 398.7,920.7 399.6,919.6 400.4,918.4 401.0,917.1 401.5,915.8 401.9,914.3 402.3,912.9 402.7,911.4Z" fill="#231f20" stroke="#231f20" stroke-width="2.3" stroke-linejoin="round"/>
<path d="M440.7,927.2 439.4,927.8 438.1,928.5 436.8,929.2 435.5,929.9 434.1,930.6 432.8,931.3 431.5,932.0 430.1,932.7 428.8,933.4 427.4,934.1 425.9,934.7 424.5,935.2 423.1,935.8 421.6,936.3 420.2,936.7 418.8,937.2 417.4,937.6 416.0,938.1 414.6,938.6 413.2,939.1 411.9,939.6 410.5,940.2 409.2,940.8 407.8,941.4 406.5,942.1 405.1,942.7 403.8,943.4 402.5,944.0 401.2,944.7 399.9,945.4 398.5,946.1 397.2,946.8 395.9,947.5 394.7,948.3 393.4,949.0 392.2,949.8 391.0,950.7 390.0,951.6 389.1,952.6 388.2,953.8 387.3,955.0 386.4,956.2 385.4,957.4 384.1,958.4 382.6,959.1 381.0,959.5 379.4,959.6 377.9,959.5 376.4,959.5 374.9,959.4 373.5,959.3 372.0,959.3 370.5,959.3 369.0,959.3 367.5,959.3 366.0,959.3 364.6,959.4 363.2,959.6 361.8,960.1 360.6,960.9 359.4,961.7 358.3,962.8 357.3,963.8 356.3,964.9 355.4,966.1 354.6,967.3 353.8,968.6 353.0,969.8 352.8,969.7 353.6,968.4 354.3,967.1 355.1,965.8 356.0,964.6 357.0,963.5 358.0,962.4 359.0,961.3 360.2,960.3 361.5,959.5 363.0,958.9 364.5,958.6 366.0,958.4 367.5,958.4 369.0,958.4 370.5,958.3 371.9,958.3 373.4,958.2 375.0,958.2 376.5,958.3 378.0,958.3 379.4,958.3 380.8,958.1 382.1,957.8 383.3,957.2 384.3,956.4 385.2,955.3 386.0,954.1 386.9,952.8 387.7,951.6 388.8,950.3 389.9,949.3 391.1,948.3 392.4,947.4 393.6,946.6 394.9,945.8 396.2,945.0 397.5,944.2 398.8,943.5 400.1,942.7 401.4,942.0 402.7,941.3 404.0,940.5 405.4,939.8 406.7,939.1 408.0,938.4 409.4,937.8 410.7,937.1 412.1,936.5 413.5,935.9 415.0,935.3 416.4,934.8 417.8,934.3 419.2,933.8 420.5,933.2 421.9,932.7 423.2,932.1 424.6,931.5 425.8,930.9 427.1,930.2 428.4,929.5 429.7,928.8 430.9,928.0 432.2,927.2 433.4,926.4 434.7,925.6 436.0,924.8 437.3,924.0 438.5,923.2Z" fill="#231f20" stroke="#231f20" stroke-width="2.3" stroke-linejoin="round"/>
<path d="M385.9,956.3 385.1,957.6 384.5,958.9 383.8,960.2 383.1,961.6 382.4,962.9 381.7,964.2 380.9,965.5 380.1,966.8 379.2,968.1 378.2,969.3 377.2,970.4 376.2,971.5 375.1,972.6 374.1,973.6 373.0,974.6 371.9,975.6 370.8,976.7 369.8,977.7 368.7,978.7 367.7,979.8 366.6,980.8 365.5,981.8 364.4,982.8 363.3,983.8 362.3,984.8 361.2,985.9 360.2,986.9 359.1,988.0 358.1,989.0 357.1,990.1 356.1,991.2 355.2,992.3 354.3,993.5 353.4,994.7 352.6,995.9 351.9,997.2 351.3,998.5 350.7,999.9 350.2,1001.3 349.6,1002.6 349.0,1004.0 348.8,1003.9 349.4,1002.5 349.9,1001.2 350.4,999.8 350.9,998.4 351.5,997.0 352.2,995.7 352.9,994.4 353.8,993.1 354.6,991.9 355.6,990.8 356.5,989.6 357.5,988.5 358.5,987.4 359.5,986.3 360.5,985.2 361.6,984.1 362.6,983.1 363.6,982.0 364.7,981.0 365.7,979.9 366.8,978.8 367.8,977.8 368.8,976.7 369.8,975.6 370.9,974.6 371.9,973.5 372.9,972.5 373.9,971.4 374.9,970.3 375.9,969.2 376.8,968.1 377.7,966.9 378.4,965.7 379.1,964.5 379.8,963.2 380.5,961.9 381.1,960.6 381.6,959.2 382.2,957.9 382.8,956.5 383.4,955.1Z" fill="#231f20" stroke="#231f20" stroke-width="2.3" stroke-linejoin="round"/>
<path d="M363.9,983.4 363.4,984.9 362.9,986.3 362.4,987.8 361.9,989.3 361.5,990.7 361.2,992.2 361.1,993.8 361.0,995.3 360.9,996.8 360.9,998.4 361.0,999.9 361.0,1001.5 361.0,1003.1 360.7,1003.1 360.7,1001.5 360.6,1000.0 360.5,998.4 360.4,996.8 360.4,995.3 360.4,993.7 360.5,992.1 360.7,990.6 361.1,989.0 361.4,987.5 361.9,986.0 362.3,984.5 362.6,983.0Z" fill="#231f20" stroke="#231f20" stroke-width="2.3" stroke-linejoin="round"/>
<path d="M413.8,937.9 413.9,939.3 414.0,940.8 414.2,942.3 414.4,943.7 414.6,945.3 414.6,946.8 414.6,948.3 414.4,949.8 414.2,951.3 414.0,952.8 413.7,954.2 413.3,955.7 412.9,957.1 412.5,958.5 412.1,960.0 411.6,961.3 411.0,962.7 410.4,964.1 409.8,965.4 409.2,966.8 409.0,966.7 409.5,965.3 410.0,963.9 410.6,962.5 411.1,961.2 411.5,959.8 411.9,958.4 412.2,956.9 412.5,955.5 412.8,954.0 413.0,952.6 413.2,951.1 413.3,949.7 413.4,948.2 413.3,946.8 413.2,945.4 412.9,944.0 412.7,942.5 412.4,941.1 412.0,939.6 411.7,938.2Z" fill="#231f20" stroke="#231f20" stroke-width="2.3" stroke-linejoin="round"/>
<path d="M469.1,936.4 470.4,935.9 471.7,935.3 473.0,934.7 474.5,934.1 476.1,933.4 477.8,933.0 479.9,932.9 481.9,933.2 483.7,933.8 485.3,934.7 486.6,935.7 488.0,936.8 489.1,938.0 490.2,939.4 491.1,940.7 491.9,942.0 492.7,943.3 493.5,944.6 494.2,946.0 494.9,947.3 495.6,948.6 496.4,950.1 497.0,951.5 497.6,952.9 498.1,954.3 498.6,955.6 499.2,956.9 499.9,958.1 500.6,959.3 501.4,960.3 502.3,961.3 503.3,962.3 504.4,963.3 505.5,964.3 506.6,965.2 507.8,966.1 508.9,967.0 510.1,967.9 511.2,968.7 512.5,969.5 513.8,970.2 515.1,971.0 516.4,971.9 517.7,972.9 518.8,974.1 519.9,975.3 520.8,976.5 521.6,977.8 522.5,979.1 523.3,980.3 524.1,981.5 524.9,982.7 525.9,983.7 526.9,984.8 527.9,985.8 529.0,986.8 530.1,987.8 531.1,988.6 532.3,989.3 533.6,989.9 534.8,990.1 536.1,990.2 537.5,990.1 538.9,989.9 540.3,989.5 541.7,989.1 543.1,988.7 544.6,988.3 546.1,987.9 547.5,987.5 548.9,987.1 550.3,986.6 551.7,986.1 553.1,985.6 554.5,985.1 556.0,984.7 557.6,984.4 559.1,984.3 560.7,984.3 562.2,984.4 563.7,984.6 565.2,984.9 566.7,985.2 568.2,985.5 569.6,985.9 571.1,986.3 572.5,986.8 573.9,987.5 575.3,988.2 576.6,988.9 577.9,989.6 579.2,990.1 580.6,990.6 582.0,990.7 583.5,990.8 584.9,990.6 586.4,990.4 587.8,990.1 589.3,989.8 590.7,989.4 592.1,988.9 593.6,988.5 595.0,988.0 596.3,987.5 597.7,986.9 599.1,986.3 600.4,985.6 601.7,985.0 603.1,984.3 604.5,983.7 604.6,983.9 603.2,984.6 601.9,985.3 600.6,986.0 599.2,986.6 597.9,987.3 596.5,987.9 595.1,988.5 593.7,989.0 592.3,989.5 590.9,989.9 589.4,990.4 588.0,990.8 586.5,991.1 585.0,991.4 583.5,991.5 582.0,991.6 580.4,991.4 578.9,991.0 577.5,990.4 576.1,989.8 574.8,989.1 573.5,988.4 572.1,987.8 570.8,987.4 569.3,987.1 567.9,986.7 566.4,986.4 565.0,986.1 563.5,985.9 562.1,985.8 560.6,985.7 559.2,985.7 557.8,985.9 556.4,986.2 555.0,986.6 553.6,987.1 552.2,987.6 550.8,988.1 549.4,988.7 548.0,989.2 546.5,989.6 545.1,990.0 543.7,990.5 542.3,990.9 540.8,991.4 539.3,991.8 537.8,992.1 536.2,992.3 534.5,992.2 532.8,991.9 531.3,991.3 529.9,990.5 528.6,989.5 527.4,988.5 526.3,987.5 525.2,986.5 524.1,985.4 523.0,984.2 522.0,983.0 521.2,981.8 520.3,980.5 519.5,979.3 518.6,978.1 517.7,977.0 516.8,976.0 515.8,975.0 514.7,974.3 513.5,973.5 512.3,972.8 511.0,972.1 509.6,971.3 508.3,970.4 507.0,969.5 505.8,968.6 504.6,967.7 503.4,966.8 502.2,965.8 501.0,964.8 499.9,963.7 498.8,962.6 497.7,961.3 496.8,959.9 496.0,958.5 495.3,957.1 494.7,955.7 494.1,954.3 493.5,953.0 492.9,951.7 492.2,950.5 491.5,949.2 490.7,948.0 489.9,946.7 489.2,945.5 488.4,944.2 487.6,943.1 486.7,941.9 485.9,941.0 484.9,940.1 483.9,939.3 482.8,938.6 481.8,938.1 480.8,937.8 479.7,937.7 478.9,937.7 477.7,938.1 476.6,938.6 475.3,939.2 474.0,940.0 472.7,940.7 471.2,941.4Z" fill="#231f20" stroke="#231f20" stroke-width="2.3" stroke-linejoin="round"/>
<path d="M535.8,991.5 536.0,993.0 536.2,994.5 536.4,996.0 536.6,997.5 536.9,999.0 537.1,1000.4 537.4,1001.9 537.7,1003.3 538.0,1004.7 538.4,1006.2 538.9,1007.6 539.3,1009.0 539.9,1010.3 540.4,1011.7 541.0,1013.1 541.7,1014.4 542.4,1015.7 543.1,1017.0 543.8,1018.3 544.6,1019.5 545.4,1020.8 546.2,1022.1 547.1,1023.3 548.0,1024.5 548.8,1025.7 549.7,1026.9 550.7,1028.0 551.7,1029.1 552.7,1030.3 553.7,1031.4 554.7,1032.6 555.6,1033.9 556.4,1035.2 557.1,1036.6 557.8,1037.9 558.4,1039.3 558.9,1040.7 559.5,1042.1 560.0,1043.6 560.6,1045.0 561.2,1046.3 561.8,1047.7 562.4,1049.1 563.1,1050.4 563.8,1051.7 564.5,1053.1 565.1,1054.4 565.8,1055.8 566.3,1057.2 566.8,1058.7 567.1,1060.2 567.2,1061.7 567.3,1063.2 567.3,1064.7 567.4,1066.2 567.1,1066.3 567.0,1064.8 566.9,1063.3 566.8,1061.8 566.7,1060.3 566.3,1058.8 565.9,1057.4 565.3,1056.0 564.6,1054.7 563.9,1053.4 563.2,1052.1 562.5,1050.7 561.7,1049.4 561.1,1048.0 560.4,1046.7 559.8,1045.3 559.2,1043.9 558.6,1042.5 558.0,1041.1 557.4,1039.8 556.8,1038.4 556.1,1037.1 555.4,1035.8 554.6,1034.6 553.7,1033.4 552.7,1032.3 551.7,1031.2 550.7,1030.1 549.6,1029.0 548.6,1027.9 547.6,1026.7 546.7,1025.5 545.8,1024.2 544.9,1023.0 544.0,1021.8 543.1,1020.5 542.3,1019.3 541.4,1018.0 540.6,1016.7 539.9,1015.3 539.2,1014.0 538.5,1012.6 537.9,1011.2 537.3,1009.8 536.7,1008.3 536.2,1006.9 535.7,1005.4 535.3,1003.9 534.9,1002.4 534.5,1000.9 534.2,999.4 533.9,997.9 533.6,996.4 533.4,995.0 533.1,993.5 532.7,992.0Z" fill="#231f20" stroke="#231f20" stroke-width="2.3" stroke-linejoin="round"/>
<path d="M555.2,1033.8 556.7,1034.3 558.1,1034.7 559.6,1035.1 561.0,1035.3 562.5,1035.4 564.0,1035.2 565.5,1035.0 566.9,1034.7 568.4,1034.4 568.5,1034.6 567.0,1035.0 565.6,1035.4 564.1,1035.8 562.5,1036.0 561.0,1036.1 559.4,1035.9 557.9,1035.7 556.4,1035.4 554.9,1035.2Z" fill="#231f20" stroke="#231f20" stroke-width="2.3" stroke-linejoin="round"/>
<path d="M564.0,985.6 564.0,987.1 564.0,988.6 564.1,990.1 564.1,991.6 564.1,993.1 564.2,994.6 564.2,996.1 564.3,997.6 564.4,999.1 564.4,1000.6 564.4,1002.1 564.5,1003.6 564.7,1004.9 565.0,1006.3 565.6,1007.4 566.5,1008.5 567.6,1009.4 568.8,1010.2 570.0,1010.9 571.3,1011.7 572.7,1012.4 574.0,1013.1 575.3,1013.7 576.6,1014.3 578.1,1014.7 579.5,1015.2 580.9,1015.8 582.3,1016.7 583.4,1017.7 584.4,1018.9 585.3,1020.2 586.0,1021.6 586.6,1022.9 587.3,1024.3 587.9,1025.7 588.5,1027.1 589.0,1028.5 589.5,1029.9 589.9,1031.4 590.3,1032.8 590.7,1034.3 591.2,1035.7 591.0,1035.8 590.5,1034.3 590.0,1032.9 589.5,1031.5 589.1,1030.1 588.5,1028.7 588.0,1027.3 587.4,1025.9 586.7,1024.6 586.1,1023.2 585.4,1021.9 584.6,1020.6 583.8,1019.4 582.8,1018.3 581.7,1017.4 580.5,1016.7 579.2,1016.2 577.8,1015.7 576.3,1015.3 574.8,1014.8 573.4,1014.1 572.1,1013.5 570.7,1012.8 569.4,1012.1 568.0,1011.4 566.7,1010.6 565.5,1009.5 564.4,1008.4 563.5,1006.8 563.0,1005.3 562.7,1003.7 562.6,1002.2 562.5,1000.7 562.4,999.2 562.3,997.7 562.2,996.2 562.0,994.7 561.9,993.2 561.8,991.7 561.7,990.2 561.6,988.7 561.5,987.2 561.3,985.7Z" fill="#231f20" stroke="#231f20" stroke-width="2.3" stroke-linejoin="round"/>
<path d="M584.3,991.3 585.1,992.5 586.0,993.7 586.8,994.9 587.7,996.1 588.4,997.4 589.1,998.7 589.8,1000.0 590.5,1001.3 591.1,1002.6 591.8,1003.9 591.6,1004.0 590.8,1002.8 590.1,1001.5 589.4,1000.2 588.6,999.0 587.8,997.8 587.0,996.6 586.1,995.5 585.2,994.4 584.2,993.3 583.2,992.2Z" fill="#231f20" stroke="#231f20" stroke-width="2.3" stroke-linejoin="round"/>
<path d="M470.3,956.9 469.4,958.0 468.6,959.2 467.8,960.5 467.0,961.7 466.1,963.0 465.2,964.3 464.2,965.5 463.1,966.8 461.9,967.9 460.6,968.8 459.3,969.7 457.9,970.5 456.6,971.2 455.2,971.9 453.9,972.6 452.5,973.2 451.1,973.9 449.8,974.5 448.5,975.1 447.1,975.8 445.7,976.4 444.4,977.0 443.0,977.6 441.6,978.2 440.2,978.8 438.8,979.3 437.4,979.9 436.0,980.4 434.5,980.9 433.0,981.3 431.6,981.7 430.1,982.0 428.6,982.3 427.2,982.7 425.8,983.0 424.5,983.5 423.3,984.1 422.1,984.8 420.9,985.7 419.9,986.6 418.9,987.7 417.9,988.8 417.0,989.9 416.0,991.1 415.1,992.2 414.2,993.4 413.3,994.6 412.5,995.8 411.6,997.0 410.9,998.2 410.1,999.5 409.4,1000.8 408.7,1002.1 408.0,1003.4 407.3,1004.7 406.7,1006.1 406.1,1007.4 405.6,1008.8 405.2,1010.2 404.8,1011.6 404.4,1013.1 404.1,1014.5 403.8,1016.0 403.6,1017.4 403.4,1018.9 403.2,1020.4 403.0,1021.9 402.8,1023.3 402.6,1024.8 402.5,1026.3 402.4,1027.8 402.3,1029.3 402.2,1030.8 402.2,1032.2 402.1,1033.7 402.1,1035.2 402.0,1036.7 402.0,1038.2 401.9,1039.7 401.6,1039.7 401.7,1038.2 401.7,1036.7 401.7,1035.2 401.7,1033.7 401.7,1032.2 401.8,1030.7 401.8,1029.2 401.9,1027.7 401.9,1026.3 402.0,1024.8 402.1,1023.3 402.3,1021.8 402.4,1020.3 402.6,1018.8 402.8,1017.3 403.0,1015.8 403.2,1014.3 403.5,1012.9 403.8,1011.4 404.2,1009.9 404.6,1008.5 405.1,1007.1 405.7,1005.6 406.3,1004.3 406.9,1002.9 407.6,1001.5 408.3,1000.2 409.0,998.9 409.7,997.5 410.5,996.3 411.3,995.0 412.1,993.7 413.0,992.5 413.9,991.3 414.8,990.1 415.7,988.9 416.6,987.7 417.6,986.5 418.6,985.4 419.8,984.3 421.0,983.3 422.3,982.4 423.7,981.7 425.2,981.1 426.7,980.7 428.1,980.3 429.6,980.0 431.0,979.6 432.4,979.2 433.8,978.8 435.2,978.3 436.5,977.7 437.9,977.1 439.2,976.5 440.6,975.9 441.9,975.3 443.3,974.7 444.6,974.0 445.9,973.3 447.2,972.7 448.6,972.0 449.9,971.3 451.2,970.6 452.5,969.9 453.8,969.2 455.1,968.5 456.3,967.8 457.5,967.0 458.7,966.2 459.7,965.3 460.7,964.3 461.5,963.4 462.3,962.2 463.1,961.0 463.9,959.8 464.6,958.5 465.4,957.2 466.1,955.9 466.9,954.6Z" fill="#231f20" stroke="#231f20" stroke-width="2.3" stroke-linejoin="round"/>
<path d="M408.2,1003.7 407.1,1004.7 406.0,1005.7 404.9,1006.8 403.8,1007.9 402.8,1008.9 401.7,1010.0 400.6,1011.0 399.4,1012.0 398.2,1013.0 397.0,1013.9 395.8,1014.8 394.5,1015.6 393.2,1016.4 391.9,1017.1 390.5,1017.8 389.1,1018.5 387.7,1019.0 386.3,1019.5 384.9,1020.0 383.5,1020.6 383.4,1020.3 384.8,1019.8 386.2,1019.2 387.6,1018.6 388.9,1018.0 390.3,1017.3 391.6,1016.6 392.8,1015.8 394.1,1015.0 395.3,1014.1 396.5,1013.2 397.6,1012.2 398.7,1011.2 399.8,1010.2 400.8,1009.1 401.9,1008.0 402.9,1006.9 403.9,1005.8 404.9,1004.7 405.9,1003.6 406.9,1002.4Z" fill="#231f20" stroke="#231f20" stroke-width="2.3" stroke-linejoin="round"/>
<path d="M434.4,980.1 434.3,981.7 434.3,983.2 434.3,984.7 434.3,986.3 434.2,987.8 434.0,989.4 433.7,990.9 433.2,992.4 432.6,993.9 431.9,995.2 431.1,996.5 430.0,997.7 428.7,998.6 427.5,999.5 426.3,1000.4 426.1,1000.2 427.3,999.2 428.5,998.3 429.6,997.3 430.6,996.2 431.4,994.9 432.0,993.6 432.4,992.2 432.8,990.7 433.0,989.2 433.1,987.7 433.1,986.3 433.0,984.8 432.9,983.2 432.7,981.7 432.6,980.2Z" fill="#231f20" stroke="#231f20" stroke-width="2.3" stroke-linejoin="round"/>
<path d="M480.5,978.2 479.0,978.6 477.5,979.0 476.1,979.4 474.6,979.8 473.3,980.2 472.1,980.7 471.1,981.3 470.0,982.2 469.2,983.2 468.4,984.3 467.8,985.6 467.3,986.9 466.8,988.2 466.6,989.5 466.5,990.8 466.5,992.3 466.5,993.9 466.5,995.5 466.2,997.1 465.7,998.7 464.8,1000.3 463.8,1001.5 462.6,1002.6 461.4,1003.6 460.2,1004.6 458.9,1005.5 457.7,1006.3 456.4,1007.2 455.1,1008.0 453.8,1008.8 452.5,1009.5 451.2,1010.3 449.8,1011.0 448.5,1011.7 447.1,1012.4 445.8,1013.1 444.4,1013.8 443.1,1014.4 441.7,1015.1 440.3,1015.7 438.9,1016.3 437.5,1017.0 436.2,1017.6 434.8,1018.2 433.5,1018.9 432.2,1019.6 430.9,1020.4 429.7,1021.2 428.4,1022.0 427.1,1022.9 425.8,1023.6 424.4,1024.3 422.8,1024.7 421.2,1024.5 419.9,1023.6 418.9,1022.4 418.0,1021.2 417.0,1020.1 416.0,1019.0 415.1,1017.8 414.2,1016.5 413.3,1015.3 413.5,1015.2 414.4,1016.4 415.3,1017.5 416.3,1018.7 417.3,1019.8 418.4,1020.9 419.3,1022.1 420.3,1023.2 421.5,1024.0 422.8,1024.1 424.1,1023.7 425.4,1023.0 426.7,1022.2 427.9,1021.4 429.2,1020.5 430.4,1019.7 431.7,1018.8 433.0,1018.0 434.4,1017.3 435.7,1016.6 437.1,1016.0 438.4,1015.3 439.8,1014.6 441.2,1014.0 442.5,1013.3 443.8,1012.6 445.1,1011.9 446.5,1011.1 447.8,1010.4 449.1,1009.7 450.4,1008.9 451.7,1008.2 452.9,1007.4 454.2,1006.6 455.4,1005.7 456.6,1004.8 457.8,1003.9 459.0,1003.0 460.2,1002.1 461.3,1001.1 462.2,1000.1 463.1,999.0 463.7,997.9 464.1,996.7 464.2,995.3 464.2,993.9 464.1,992.4 464.0,990.9 464.1,989.3 464.3,987.6 464.8,986.0 465.3,984.5 466.0,983.0 466.9,981.6 467.9,980.2 469.1,979.1 470.6,978.1 472.2,977.3 473.7,976.7 475.1,976.2 476.6,975.8 478.0,975.3 479.3,974.8Z" fill="#231f20" stroke="#231f20" stroke-width="2.3" stroke-linejoin="round"/>
<path d="M422.5,1024.8 421.6,1026.1 420.7,1027.4 419.8,1028.7 419.0,1030.0 418.2,1031.4 417.4,1032.8 416.7,1034.2 416.0,1035.6 415.3,1037.0 415.1,1036.9 415.7,1035.4 416.3,1034.0 416.9,1032.5 417.6,1031.1 418.3,1029.6 419.1,1028.2 419.8,1026.9 420.6,1025.5 421.3,1024.1Z" fill="#231f20" stroke="#231f20" stroke-width="2.3" stroke-linejoin="round"/>
<path d="M443.8,1014.0 443.3,1015.5 442.9,1016.9 442.4,1018.3 442.0,1019.7 441.5,1021.1 441.1,1022.5 440.8,1023.9 440.5,1025.4 440.3,1026.8 440.2,1028.2 440.1,1029.7 440.1,1031.2 440.1,1032.6 440.1,1034.1 440.1,1035.6 440.0,1037.1 439.8,1038.7 439.4,1040.2 438.8,1041.6 438.0,1042.9 437.1,1044.2 436.2,1045.4 435.2,1046.5 434.3,1047.6 433.4,1048.8 432.5,1050.0 431.6,1051.1 430.6,1052.3 429.7,1053.5 428.8,1054.6 427.8,1055.8 426.9,1056.9 426.0,1058.1 425.8,1057.9 426.7,1056.7 427.6,1055.6 428.5,1054.4 429.4,1053.2 430.2,1052.0 431.1,1050.8 432.0,1049.6 432.9,1048.4 433.8,1047.2 434.7,1046.0 435.6,1044.9 436.5,1043.7 437.3,1042.5 437.9,1041.2 438.4,1039.9 438.8,1038.5 438.9,1037.1 438.9,1035.6 438.9,1034.2 438.9,1032.7 438.8,1031.2 438.7,1029.7 438.7,1028.2 438.8,1026.6 439.0,1025.1 439.2,1023.6 439.5,1022.1 439.8,1020.7 440.2,1019.2 440.6,1017.8 440.9,1016.3 441.3,1014.9 441.6,1013.5Z" fill="#231f20" stroke="#231f20" stroke-width="2.3" stroke-linejoin="round"/>
<path d="M482.0,1022.7 480.5,1022.9 478.9,1023.1 477.4,1023.3 475.9,1023.5 474.5,1023.7 473.1,1024.1 471.8,1024.5 470.4,1025.1 469.2,1025.8 468.1,1026.7 467.1,1027.7 466.2,1028.8 465.4,1030.1 464.8,1031.4 464.2,1032.8 463.6,1034.2 463.1,1035.6 462.5,1037.0 461.8,1038.4 461.0,1039.7 460.1,1041.0 459.1,1042.2 458.2,1043.4 457.2,1044.6 456.2,1045.7 455.1,1046.9 454.1,1048.0 452.9,1049.0 451.8,1050.0 450.6,1051.0 449.5,1052.0 449.3,1051.8 450.4,1050.8 451.5,1049.7 452.6,1048.7 453.7,1047.6 454.7,1046.5 455.7,1045.3 456.7,1044.2 457.6,1043.0 458.5,1041.8 459.4,1040.5 460.2,1039.3 460.9,1037.9 461.5,1036.6 462.0,1035.2 462.5,1033.7 463.0,1032.3 463.5,1030.8 464.2,1029.4 464.9,1028.0 465.9,1026.7 467.0,1025.5 468.2,1024.4 469.6,1023.5 471.0,1022.8 472.5,1022.2 474.0,1021.7 475.6,1021.3 477.1,1021.0 478.6,1020.7 480.0,1020.4 481.5,1020.0Z" fill="#231f20" stroke="#231f20" stroke-width="2.3" stroke-linejoin="round"/>
<path d="M486.5,1023.3 487.5,1024.4 488.6,1025.5 489.6,1026.6 490.6,1027.7 491.6,1028.7 492.7,1029.7 493.8,1030.6 495.0,1031.4 496.3,1032.1 497.5,1032.8 498.8,1033.5 500.2,1034.1 501.5,1034.6 502.9,1035.0 504.3,1035.3 505.8,1035.4 507.2,1035.6 508.8,1035.7 510.3,1035.8 511.8,1036.0 513.3,1036.4 514.8,1036.9 516.2,1037.4 517.7,1038.0 519.0,1038.6 520.4,1039.2 521.8,1039.9 523.1,1040.6 524.5,1041.2 525.8,1041.9 527.1,1042.7 528.4,1043.4 529.7,1044.2 531.0,1044.9 532.3,1045.7 533.6,1046.5 534.9,1047.2 534.8,1047.4 533.5,1046.7 532.2,1046.0 530.8,1045.3 529.5,1044.6 528.2,1043.9 526.8,1043.2 525.5,1042.5 524.1,1041.9 522.8,1041.3 521.4,1040.7 520.0,1040.1 518.6,1039.5 517.3,1039.0 515.9,1038.5 514.4,1038.0 513.0,1037.6 511.6,1037.4 510.2,1037.2 508.7,1037.1 507.2,1037.1 505.7,1037.0 504.1,1036.9 502.5,1036.7 501.0,1036.3 499.5,1035.9 498.1,1035.3 496.6,1034.7 495.2,1034.0 493.9,1033.3 492.5,1032.5 491.2,1031.6 490.0,1030.6 488.8,1029.6 487.7,1028.6 486.6,1027.5 485.5,1026.5 484.3,1025.6Z" fill="#231f20" stroke="#231f20" stroke-width="2.3" stroke-linejoin="round"/>
<path d="M512.2,1037.6 512.0,1039.1 511.9,1040.6 511.7,1042.0 511.6,1043.5 511.5,1045.0 511.4,1046.5 511.4,1047.9 511.5,1049.4 511.7,1050.8 511.9,1052.3 512.3,1053.7 512.6,1055.2 513.0,1056.6 513.3,1058.1 513.6,1059.5 513.4,1059.6 513.0,1058.1 512.6,1056.7 512.2,1055.3 511.8,1053.9 511.4,1052.4 511.0,1050.9 510.8,1049.5 510.6,1048.0 510.5,1046.5 510.5,1045.0 510.5,1043.5 510.5,1042.0 510.6,1040.5 510.6,1039.0 510.6,1037.5Z" fill="#231f20" stroke="#231f20" stroke-width="2.3" stroke-linejoin="round"/>
<path d="M477.3,1056.9 475.9,1057.4 474.5,1058.0 473.1,1058.5 471.7,1059.1 470.3,1059.7 468.9,1060.3 467.6,1060.9 466.2,1061.5 464.8,1062.1 463.4,1062.7 462.1,1063.4 460.7,1064.0 459.4,1064.7 458.1,1065.4 456.7,1066.1 455.4,1066.8 454.1,1067.6 452.9,1068.4 451.6,1069.2 450.4,1070.1 449.3,1071.1 448.1,1072.0 447.0,1073.0 445.8,1074.0 445.6,1073.8 446.8,1072.8 447.9,1071.8 449.0,1070.7 450.1,1069.7 451.3,1068.8 452.5,1067.9 453.8,1067.0 455.0,1066.2 456.3,1065.4 457.6,1064.6 458.9,1063.9 460.2,1063.1 461.6,1062.4 462.9,1061.6 464.2,1060.9 465.6,1060.2 466.9,1059.5 468.3,1058.9 469.6,1058.2 471.0,1057.5 472.4,1056.8 473.7,1056.2 475.1,1055.5 476.4,1054.8Z" fill="#231f20" stroke="#231f20" stroke-width="2.3" stroke-linejoin="round"/>
<path d="M469.3,1059.7 468.8,1061.2 468.4,1062.6 468.0,1064.1 467.5,1065.5 467.1,1067.0 466.7,1068.5 466.3,1069.9 466.0,1071.4 465.7,1072.9 465.4,1074.4 465.2,1075.9 465.0,1077.4 464.8,1078.9 464.6,1080.4 464.4,1081.9 464.2,1083.4 463.9,1083.3 464.1,1081.8 464.2,1080.3 464.4,1078.8 464.5,1077.3 464.7,1075.8 464.9,1074.3 465.1,1072.8 465.3,1071.3 465.6,1069.8 465.9,1068.3 466.3,1066.8 466.6,1065.3 467.0,1063.8 467.3,1062.3 467.7,1060.9 468.0,1059.4Z" fill="#231f20" stroke="#231f20" stroke-width="2.3" stroke-linejoin="round"/>
<path d="M488.9,831.3 488.3,832.7 487.8,834.1 487.3,835.5 486.8,836.9 486.3,838.4 485.8,839.8 485.3,841.2 484.8,842.6 484.3,844.1 483.8,845.5 483.3,847.0 482.8,848.4 482.3,849.8 481.9,851.3 481.3,852.7 480.8,854.1 480.3,855.6 479.8,857.0 479.2,858.5 478.7,860.1 478.1,861.5 477.5,862.9 477.0,864.3 476.4,865.7 475.8,867.1 475.2,868.5 474.6,869.9 474.0,871.3 473.5,872.6 472.9,874.0 472.4,875.3 471.9,876.7 471.4,878.0 471.0,879.2 470.5,880.7 470.1,882.0 469.7,883.3 469.3,884.8 469.0,886.1 468.6,887.5 468.3,888.9 468.0,890.3 467.7,891.6 467.4,893.1 467.2,894.5 466.9,895.9 466.7,897.2 466.5,898.7 466.4,900.1 466.2,901.5 466.1,903.0 466.0,904.4 465.9,905.8 465.8,907.2 465.8,908.7 465.8,910.1 465.8,911.5 465.8,913.0 465.8,914.4 465.9,915.8 465.9,917.3 466.0,918.8 466.1,920.2 466.2,921.7 466.3,923.2 466.5,924.6 466.6,926.1 466.7,927.5 466.9,929.0 467.1,930.4 467.3,931.9 467.5,933.3 467.7,934.7 468.0,936.2 468.3,937.5 468.6,938.9 468.9,940.2 469.2,941.7 469.6,943.0 470.0,944.3 470.5,945.7 471.0,947.0 471.5,948.3 472.1,949.7 472.6,951.0 473.2,952.4 473.8,953.7 474.5,955.1 475.1,956.5 475.7,957.9 476.3,959.4 476.8,960.8 477.4,962.3 477.9,963.8 478.4,965.2 478.9,966.6 479.4,968.0 479.8,969.5 480.3,970.9 480.8,972.3 481.3,973.8 481.7,975.2 482.2,976.7 482.6,978.2 483.0,979.7 483.4,981.2 483.8,982.7 484.1,984.2 484.4,985.7 484.8,987.2 485.0,988.7 485.3,990.3 485.5,991.9 485.6,993.3 485.8,994.9 485.9,996.4 486.0,998.0 486.1,999.5 486.2,1001.0 486.2,1002.6 486.2,1004.1 486.2,1005.6 486.2,1007.2 486.2,1008.7 486.2,1010.2 486.1,1011.7 486.0,1013.2 485.9,1014.8 485.8,1016.4 485.6,1017.9 485.5,1019.4 485.2,1020.9 485.0,1022.4 484.7,1023.9 484.5,1025.4 484.2,1026.9 483.9,1028.4 483.6,1029.9 483.2,1031.4 482.9,1032.8 482.6,1034.3 482.3,1035.8 482.0,1037.3 481.6,1038.8 481.1,1040.2 480.7,1041.7 480.2,1043.1 479.8,1044.6 479.3,1046.0 478.9,1047.4 478.6,1048.8 478.3,1050.1 478.1,1051.6 478.0,1053.0 478.1,1054.4 478.3,1055.8 478.6,1057.2 479.0,1058.5 479.4,1059.9 480.0,1061.3 480.6,1062.6 481.2,1064.0 481.8,1065.4 482.4,1066.8 483.0,1068.2 483.5,1069.6 484.1,1070.9 484.7,1072.3 485.4,1073.7 486.0,1075.0 486.6,1076.4 487.2,1077.8 487.8,1079.2 488.3,1080.6 488.8,1082.1 489.2,1083.5 489.4,1085.0 489.6,1086.6 489.7,1088.1 489.8,1089.6 489.9,1091.1 489.9,1092.6 490.0,1094.1 490.1,1095.6 489.9,1095.6 489.7,1094.1 489.6,1092.6 489.4,1091.1 489.3,1089.6 489.2,1088.1 489.0,1086.6 488.7,1085.2 488.4,1083.7 488.0,1082.3 487.5,1080.9 486.9,1079.6 486.3,1078.2 485.6,1076.9 484.9,1075.5 484.2,1074.2 483.5,1072.9 482.8,1071.5 482.2,1070.2 481.6,1068.8 480.9,1067.4 480.3,1066.1 479.6,1064.8 478.9,1063.4 478.3,1062.1 477.6,1060.7 477.1,1059.2 476.6,1057.7 476.1,1056.2 475.9,1054.6 475.7,1053.0 475.7,1051.4 475.9,1049.9 476.1,1048.3 476.4,1046.8 476.8,1045.3 477.2,1043.8 477.5,1042.3 477.9,1040.9 478.3,1039.5 478.6,1038.0 479.0,1036.6 479.2,1035.2 479.5,1033.7 479.7,1032.2 479.9,1030.7 480.2,1029.3 480.4,1027.8 480.6,1026.3 480.8,1024.8 481.0,1023.4 481.2,1021.9 481.4,1020.4 481.5,1019.0 481.6,1017.5 481.7,1016.0 481.8,1014.6 481.8,1013.1 481.8,1011.6 481.8,1010.2 481.7,1008.7 481.7,1007.2 481.6,1005.7 481.6,1004.3 481.5,1002.8 481.3,1001.3 481.2,999.8 481.1,998.4 480.9,997.0 480.7,995.5 480.5,994.1 480.2,992.6 480.0,991.2 479.7,989.8 479.3,988.4 479.0,987.0 478.6,985.5 478.2,984.2 477.8,982.7 477.3,981.4 476.9,980.0 476.4,978.6 475.9,977.2 475.4,975.8 474.9,974.4 474.3,973.1 473.8,971.7 473.2,970.3 472.7,968.9 472.1,967.5 471.6,966.1 471.0,964.8 470.5,963.5 469.8,962.1 469.2,960.8 468.6,959.5 467.9,958.2 467.2,956.9 466.5,955.5 465.9,954.2 465.2,952.8 464.5,951.4 463.9,950.0 463.2,948.5 462.6,947.1 462.0,945.5 461.5,944.0 461.0,942.5 460.6,941.0 460.2,939.4 459.8,937.9 459.4,936.4 459.1,934.8 458.7,933.3 458.5,931.8 458.2,930.3 457.9,928.7 457.7,927.2 457.4,925.7 457.2,924.2 457.0,922.7 456.8,921.1 456.6,919.6 456.4,918.0 456.3,916.5 456.1,915.0 456.0,913.4 455.9,911.9 455.8,910.3 455.7,908.7 455.7,907.2 455.7,905.6 455.7,904.0 455.7,902.4 455.7,900.9 455.8,899.3 455.9,897.7 456.0,896.2 456.1,894.6 456.3,893.0 456.5,891.4 456.7,889.9 456.9,888.3 457.1,886.7 457.4,885.2 457.7,883.6 458.0,882.0 458.3,880.6 458.6,879.0 459.0,877.4 459.4,875.9 459.8,874.3 460.3,872.7 460.7,871.3 461.2,869.7 461.6,868.3 462.1,866.8 462.6,865.4 463.1,864.0 463.6,862.5 464.1,861.1 464.5,859.7 465.0,858.3 465.4,857.0 465.8,855.5 466.2,854.2 466.6,852.9 467.0,851.4 467.4,850.0 467.8,848.6 468.1,847.1 468.5,845.7 468.8,844.3 469.2,842.8 469.5,841.4 469.9,839.9 470.2,838.5 470.6,837.0 470.9,835.5 471.2,834.1 471.6,832.6 471.9,831.1 472.2,829.7 472.6,828.2 472.8,826.7Z" fill="#da232e" stroke="#da232e" stroke-width="0.5" stroke-linejoin="round"/>
<path d="M488.5,835.1 489.0,836.5 489.6,837.9 490.2,839.3 490.8,840.7 491.4,842.1 492.0,843.4 492.6,844.8 493.2,846.1 493.8,847.4 494.5,848.7 495.1,850.0 495.8,851.3 496.5,852.6 497.3,853.9 498.0,855.2 498.7,856.4 499.4,857.7 500.2,858.9 501.0,860.2 501.8,861.4 502.5,862.6 503.4,863.7 504.3,864.9 505.2,866.0 506.1,867.0 507.1,868.0 508.1,868.9 509.1,869.9 510.3,870.8 511.4,871.7 512.6,872.5 513.7,873.4 515.0,874.2 516.2,874.9 517.4,875.7 518.7,876.4 520.0,877.1 521.3,877.8 522.5,878.4 523.8,879.0 525.1,879.6 526.5,880.0 527.8,880.4 529.1,880.7 530.4,880.8 531.7,880.8 533.0,880.6 534.2,880.2 535.4,879.6 536.6,878.9 537.9,878.2 539.3,877.4 540.7,876.7 542.1,876.0 543.6,875.5 545.0,875.0 546.4,874.6 547.8,874.1 549.3,873.7 550.8,873.2 552.3,872.9 553.8,872.6 555.3,872.4 556.9,872.2 558.4,872.3 560.0,872.4 561.6,872.6 563.1,872.9 564.6,873.3 566.0,873.8 567.5,874.4 568.9,875.1 570.2,875.9 571.5,876.8 572.7,877.8 573.8,878.9 574.8,880.0 575.8,881.1 576.8,882.3 577.7,883.5 578.6,884.6 579.5,885.8 580.4,887.1 581.2,888.4 581.9,889.8 582.6,891.1 583.3,892.3 584.1,893.5 585.1,894.5 586.3,895.3 587.7,895.8 589.1,896.1 590.5,896.4 592.0,896.7 593.4,897.2 594.9,897.6 596.3,898.1 597.7,898.5 599.1,899.0 600.6,899.4 600.5,899.7 599.1,899.3 597.6,898.9 596.2,898.5 594.7,898.1 593.3,897.7 591.9,897.3 590.4,897.0 589.0,896.7 587.5,896.4 586.0,896.0 584.6,895.1 583.5,894.1 582.6,892.8 581.7,891.5 581.0,890.2 580.2,889.0 579.5,887.7 578.6,886.5 577.7,885.4 576.7,884.3 575.8,883.1 574.8,882.0 573.8,881.0 572.7,879.9 571.7,879.0 570.5,878.1 569.3,877.3 568.1,876.6 566.8,876.0 565.5,875.5 564.1,875.1 562.7,874.8 561.2,874.5 559.8,874.4 558.4,874.3 557.0,874.3 555.6,874.5 554.2,874.7 552.8,875.1 551.4,875.5 550.0,875.9 548.6,876.4 547.2,876.9 545.8,877.4 544.4,878.0 543.1,878.5 541.9,879.1 540.6,879.8 539.4,880.6 538.1,881.4 536.8,882.2 535.3,883.0 533.8,883.5 532.1,883.9 530.4,884.0 528.7,883.9 527.1,883.7 525.6,883.3 524.0,882.8 522.6,882.3 521.1,881.7 519.7,881.0 518.3,880.4 517.0,879.7 515.6,879.0 514.2,878.3 512.9,877.5 511.6,876.7 510.3,875.9 509.0,875.0 507.7,874.1 506.5,873.2 505.3,872.2 504.1,871.2 502.9,870.1 501.8,869.0 500.7,867.8 499.7,866.7 498.7,865.4 497.8,864.2 496.9,862.9 496.0,861.7 495.2,860.4 494.3,859.1 493.5,857.8 492.7,856.6 491.9,855.3 491.1,854.0 490.3,852.7 489.5,851.4 488.8,850.0 488.0,848.7 487.3,847.4 486.6,846.0 485.9,844.7 485.2,843.3 484.5,842.0 483.8,840.7 483.1,839.4 482.4,838.1Z" fill="#da232e" stroke="#da232e" stroke-width="0.5" stroke-linejoin="round"/>
<path d="M584.6,893.0 584.8,894.5 584.9,896.1 585.1,897.6 585.3,899.2 585.6,900.6 586.0,902.1 586.5,903.6 587.1,905.0 587.8,906.3 588.5,907.7 589.3,909.1 590.0,910.5 589.7,910.6 589.0,909.3 588.1,907.9 587.3,906.6 586.5,905.3 585.8,903.9 585.1,902.4 584.6,900.9 584.2,899.4 583.9,897.8 583.6,896.3 583.2,894.8 582.9,893.3Z" fill="#da232e" stroke="#da232e" stroke-width="0.5" stroke-linejoin="round"/>
<path d="M531.7,880.7 532.3,882.1 533.0,883.4 533.7,884.7 534.4,886.1 535.0,887.4 535.7,888.7 536.4,890.0 537.1,891.3 537.8,892.6 538.5,893.9 539.3,895.2 540.0,896.4 540.8,897.6 541.7,898.8 542.5,900.0 543.4,901.2 544.3,902.3 545.2,903.5 546.1,904.6 547.0,905.7 548.0,906.8 549.0,907.9 550.0,909.0 551.0,910.0 552.0,911.0 553.1,912.0 554.3,912.9 555.4,913.8 556.6,914.7 557.8,915.6 559.0,916.5 560.1,917.5 561.3,918.6 562.4,919.7 563.4,920.9 564.3,922.2 565.1,923.6 565.8,924.9 566.4,926.4 566.8,927.9 567.2,929.4 567.2,931.2 566.5,932.9 565.8,934.1 565.4,935.2 565.8,935.9 566.8,936.9 568.0,937.7 569.2,938.5 570.5,939.2 571.8,939.9 573.1,940.6 574.4,941.2 575.8,941.6 577.2,942.0 578.7,942.5 580.0,943.2 581.4,944.1 582.4,945.3 583.3,946.6 584.0,947.9 584.6,949.3 585.1,950.7 585.6,952.1 586.2,953.5 586.8,954.9 587.4,956.2 588.2,957.4 589.1,958.6 590.0,959.8 590.9,960.9 592.0,962.0 593.0,963.1 594.0,964.1 595.0,965.2 596.0,966.3 595.9,966.5 594.8,965.4 593.8,964.4 592.7,963.3 591.7,962.3 590.6,961.2 589.6,960.1 588.6,959.0 587.7,957.8 586.9,956.5 586.2,955.2 585.5,953.8 584.9,952.4 584.4,951.0 583.8,949.7 583.2,948.4 582.5,947.1 581.7,945.9 580.7,944.9 579.6,944.2 578.2,943.6 576.9,943.2 575.4,942.8 574.0,942.4 572.5,941.8 571.1,941.1 569.8,940.5 568.5,939.8 567.2,939.0 565.8,938.1 564.7,937.0 563.8,935.2 564.2,933.4 565.0,932.1 565.4,930.9 565.4,929.8 565.0,928.4 564.6,927.1 564.0,925.8 563.3,924.6 562.5,923.4 561.7,922.3 560.8,921.2 559.8,920.2 558.7,919.3 557.5,918.4 556.4,917.5 555.1,916.7 553.9,915.8 552.7,914.9 551.5,914.0 550.3,913.0 549.1,912.0 548.0,911.0 546.9,909.9 545.9,908.8 544.8,907.7 543.8,906.6 542.8,905.4 541.8,904.3 540.9,903.1 539.9,901.9 539.0,900.7 538.1,899.5 537.2,898.3 536.3,897.0 535.5,895.8 534.7,894.5 533.9,893.2 533.1,891.9 532.3,890.6 531.6,889.3 530.8,888.0 530.1,886.7 529.3,885.5 528.5,884.2 527.7,882.9Z" fill="#da232e" stroke="#da232e" stroke-width="0.5" stroke-linejoin="round"/>
<path d="M564.6,931.7 563.7,933.0 562.9,934.3 562.1,935.6 561.5,936.9 561.2,938.3 561.0,939.8 560.8,941.4 560.7,942.9 560.4,942.9 560.4,941.4 560.5,939.8 560.5,938.3 560.8,936.7 561.3,935.2 561.9,933.7 562.6,932.3 563.2,930.9Z" fill="#da232e" stroke="#da232e" stroke-width="0.5" stroke-linejoin="round"/>
<path d="M470.7,853.1 469.5,853.9 468.3,854.8 467.2,855.6 466.0,856.6 464.8,857.5 463.5,858.4 462.2,859.4 460.9,860.3 459.5,861.1 458.0,861.9 456.5,862.6 454.9,863.2 453.4,863.7 451.8,864.1 450.2,864.5 448.6,864.8 447.1,865.1 445.6,865.3 444.1,865.5 442.5,865.7 440.9,865.8 439.3,865.9 437.7,865.9 436.1,865.8 434.6,865.7 433.1,865.7 431.7,865.6 430.2,865.6 428.9,865.7 427.4,865.8 425.9,866.0 424.5,866.1 423.1,866.3 421.8,866.6 420.4,867.0 419.1,867.4 417.9,867.9 416.6,868.6 415.4,869.2 414.1,870.0 412.8,870.8 411.5,871.5 410.2,872.3 408.9,873.1 407.5,873.8 406.1,874.5 404.8,875.2 403.5,875.9 402.1,876.5 400.7,877.2 399.3,877.9 397.8,878.4 396.2,878.9 394.6,879.2 393.0,879.4 391.4,879.3 389.7,879.1 388.1,878.8 386.6,878.4 385.2,878.0 383.7,877.6 382.3,877.2 380.8,876.8 379.3,876.4 377.9,875.9 376.5,875.4 375.1,874.9 373.7,874.4 372.3,874.0 370.9,873.7 369.5,873.6 368.0,873.5 366.6,873.4 365.1,873.5 363.7,873.6 362.3,873.8 361.0,874.2 359.7,874.7 358.4,875.4 357.2,876.2 356.0,877.1 354.8,878.0 353.6,878.9 352.5,879.8 351.5,880.8 350.5,882.0 349.0,883.0 347.0,882.8 345.7,881.8 344.6,880.7 343.6,879.6 342.5,878.6 341.4,877.7 340.2,876.8 339.0,876.0 337.7,875.3 336.4,874.5 335.1,873.9 333.7,873.3 332.3,872.9 330.9,872.7 329.4,872.6 327.9,872.7 326.5,873.0 325.1,873.5 323.9,874.3 322.9,875.4 321.9,876.5 321.0,877.7 320.0,878.9 319.8,878.7 320.8,877.5 321.7,876.3 322.6,875.1 323.6,874.0 324.9,873.1 326.3,872.5 327.8,872.2 329.4,872.0 330.9,872.1 332.4,872.3 333.9,872.6 335.4,873.2 336.8,873.8 338.1,874.5 339.4,875.2 340.7,876.0 342.0,876.8 343.3,877.8 344.4,878.9 345.4,879.9 346.5,880.9 347.7,881.7 348.6,881.8 349.5,881.1 350.4,879.9 351.5,878.8 352.7,877.7 353.9,876.8 355.0,875.9 356.3,874.9 357.5,874.0 358.9,873.2 360.3,872.5 361.9,872.0 363.4,871.7 365.0,871.5 366.5,871.4 368.1,871.4 369.6,871.5 371.2,871.6 372.8,871.9 374.3,872.3 375.8,872.7 377.2,873.2 378.6,873.6 380.0,874.0 381.4,874.4 382.9,874.7 384.4,875.1 385.8,875.5 387.3,875.8 388.7,876.1 390.1,876.4 391.4,876.5 392.8,876.5 394.1,876.3 395.5,876.0 396.8,875.5 398.1,875.0 399.3,874.4 400.6,873.7 401.9,873.0 403.3,872.2 404.6,871.5 405.9,870.8 407.1,870.1 408.4,869.3 409.6,868.5 410.9,867.7 412.1,866.8 413.4,866.0 414.8,865.2 416.1,864.5 417.7,863.7 419.2,863.2 420.7,862.7 422.3,862.3 423.9,862.0 425.5,861.7 427.0,861.5 428.5,861.4 430.1,861.2 431.7,861.1 433.2,861.1 434.8,861.1 436.2,861.1 437.7,861.1 439.1,861.1 440.5,861.0 441.9,860.8 443.3,860.6 444.8,860.3 446.2,860.0 447.6,859.7 449.0,859.3 450.3,859.0 451.6,858.5 452.9,858.1 454.1,857.5 455.3,856.9 456.4,856.2 457.5,855.5 458.7,854.6 459.8,853.7 460.9,852.8 462.0,851.8 463.1,850.8 464.2,849.7 465.4,848.7 466.6,847.7Z" fill="#da232e" stroke="#da232e" stroke-width="0.5" stroke-linejoin="round"/>
<path d="M349.6,881.6 349.8,883.1 350.1,884.6 350.4,886.1 350.7,887.6 350.8,889.2 350.7,890.9 350.4,892.4 349.7,893.9 348.7,895.2 347.6,896.4 346.3,897.3 345.0,898.2 343.7,898.9 342.4,899.6 341.0,900.3 339.5,900.9 338.1,901.4 336.7,901.9 335.2,902.4 335.1,902.2 336.6,901.6 338.0,901.0 339.4,900.5 340.7,899.8 342.1,899.1 343.4,898.3 344.6,897.5 345.8,896.6 346.9,895.7 347.9,894.6 348.7,893.4 349.2,892.1 349.5,890.7 349.5,889.3 349.2,887.9 348.9,886.4 348.5,885.0 348.0,883.5 347.6,882.0Z" fill="#da232e" stroke="#da232e" stroke-width="0.5" stroke-linejoin="round"/>
<path d="M350.5,891.3 350.8,892.8 351.1,894.3 351.4,895.7 351.7,897.1 352.1,898.6 352.4,900.0 352.9,901.3 353.4,902.7 354.0,904.0 354.7,905.3 355.4,906.6 356.1,907.9 356.9,909.1 357.7,910.3 358.5,911.5 359.4,912.7 360.4,913.8 361.4,914.8 362.5,915.8 363.7,916.7 364.8,917.7 365.9,918.6 367.0,919.6 366.9,919.8 365.7,918.9 364.6,917.9 363.4,917.0 362.2,916.1 361.1,915.2 360.0,914.2 358.9,913.1 357.9,912.0 357.0,910.8 356.1,909.6 355.3,908.4 354.5,907.1 353.7,905.8 353.0,904.5 352.3,903.2 351.7,901.8 351.1,900.4 350.6,899.0 350.2,897.5 349.8,896.1 349.4,894.7 349.0,893.3 348.6,891.9Z" fill="#da232e" stroke="#da232e" stroke-width="0.5" stroke-linejoin="round"/>
<path d="M353.9,903.8 353.8,905.3 353.7,906.8 353.6,908.2 353.5,909.7 353.4,911.2 353.2,912.6 352.9,914.1 352.5,915.5 352.1,916.9 351.6,918.3 351.2,919.7 350.9,919.7 351.3,918.2 351.7,916.8 352.0,915.4 352.3,914.0 352.5,912.5 352.7,911.1 352.7,909.7 352.7,908.2 352.6,906.7 352.6,905.3 352.5,903.8Z" fill="#da232e" stroke="#da232e" stroke-width="0.5" stroke-linejoin="round"/>
<path d="M395.7,878.0 395.1,879.4 394.6,880.7 394.1,882.1 393.5,883.5 393.0,884.9 392.5,886.3 392.0,887.7 391.5,889.0 391.1,890.4 390.7,891.8 390.4,893.3 390.0,894.7 389.6,896.2 389.0,897.6 388.3,899.0 387.6,900.3 386.7,901.5 385.8,902.8 384.9,903.9 383.9,905.0 382.8,906.1 381.6,907.0 380.3,907.8 379.0,908.5 377.7,909.3 376.5,910.0 376.3,909.8 377.6,909.0 378.8,908.2 380.1,907.4 381.3,906.6 382.4,905.6 383.4,904.6 384.3,903.4 385.2,902.3 386.0,901.0 386.7,899.8 387.3,898.5 387.9,897.2 388.4,895.8 388.7,894.4 389.0,893.0 389.2,891.5 389.5,890.0 389.9,888.6 390.3,887.1 390.7,885.7 391.1,884.3 391.5,882.8 391.9,881.4 392.4,880.0 392.8,878.6 393.1,877.1Z" fill="#da232e" stroke="#da232e" stroke-width="0.5" stroke-linejoin="round"/>
<path d="M389.6,897.1 389.6,898.6 389.7,900.1 389.7,901.6 389.8,903.2 389.9,904.7 389.9,906.2 389.9,907.8 389.8,909.3 389.7,910.8 389.6,912.4 389.5,913.9 389.4,915.4 389.1,915.4 389.1,913.9 389.2,912.4 389.2,910.8 389.3,909.3 389.2,907.8 389.2,906.3 389.1,904.7 388.9,903.2 388.8,901.7 388.6,900.2 388.4,898.7 388.3,897.1Z" fill="#da232e" stroke="#da232e" stroke-width="0.5" stroke-linejoin="round"/>
<path d="M467.6,890.5 469.0,890.8 470.4,891.0 471.9,891.3 473.4,891.5 475.0,891.9 476.7,892.3 478.2,892.9 479.7,893.7 481.2,894.7 482.5,895.7 483.7,896.7 484.9,897.7 486.0,898.7 487.1,899.7 488.2,900.7 489.4,901.7 490.5,902.8 491.6,903.9 492.6,904.9 493.7,905.9 494.7,906.9 495.8,907.9 496.9,908.8 498.0,909.6 499.2,910.4 500.4,911.0 501.6,911.5 503.0,912.0 504.4,912.4 505.8,912.8 507.2,913.2 508.7,913.7 510.0,914.1 511.4,914.3 512.9,914.6 514.5,915.0 516.2,915.9 517.6,917.7 518.0,919.3 518.3,921.0 518.3,922.5 518.4,924.0 518.5,925.5 518.7,926.9 518.9,928.4 519.0,930.0 519.1,931.4 519.3,932.8 519.7,934.0 520.3,935.2 521.1,936.1 522.2,937.0 523.4,937.8 524.7,938.5 526.0,939.2 527.3,939.8 528.7,940.5 530.0,941.3 531.3,942.0 532.6,942.7 533.9,943.4 535.3,944.0 536.6,944.7 537.9,945.3 539.3,946.0 540.6,946.6 542.0,947.3 543.3,947.9 544.7,948.5 546.1,949.1 547.5,949.7 548.8,950.3 550.2,951.0 551.5,951.7 552.8,952.5 554.1,953.3 555.4,954.1 556.6,954.8 557.9,955.6 559.2,956.3 560.5,957.0 561.9,957.6 563.2,958.3 564.6,958.9 566.0,959.5 567.3,960.2 567.2,960.4 565.8,959.8 564.5,959.2 563.1,958.6 561.7,958.0 560.3,957.4 559.0,956.8 557.6,956.1 556.3,955.4 555.0,954.6 553.7,953.9 552.4,953.1 551.1,952.4 549.8,951.8 548.5,951.1 547.1,950.5 545.7,950.0 544.3,949.4 542.9,948.9 541.5,948.3 540.1,947.7 538.8,947.1 537.4,946.5 536.0,945.9 534.7,945.3 533.3,944.6 531.9,944.0 530.6,943.3 529.3,942.6 527.9,942.0 526.6,941.3 525.2,940.7 523.9,940.0 522.5,939.3 521.2,938.5 519.9,937.5 518.7,936.3 517.8,934.9 517.3,933.2 517.0,931.7 516.8,930.1 516.6,928.7 516.4,927.3 516.1,925.7 516.0,924.2 515.9,922.7 515.8,921.2 515.6,919.9 515.1,918.7 514.7,918.2 513.7,917.7 512.4,917.4 511.0,917.2 509.4,916.9 507.8,916.5 506.4,916.1 505.0,915.8 503.5,915.4 502.0,915.0 500.6,914.6 499.0,914.0 497.5,913.3 496.1,912.5 494.8,911.6 493.5,910.6 492.3,909.7 491.2,908.7 490.0,907.6 488.9,906.6 487.8,905.6 486.7,904.7 485.6,903.8 484.4,902.8 483.2,901.9 482.1,900.9 481.0,900.0 479.9,899.2 478.7,898.4 477.7,897.8 476.5,897.2 475.2,896.8 474.0,896.6 472.7,896.4 471.2,896.2 469.7,896.1 468.2,896.0 466.6,895.8Z" fill="#da232e" stroke="#da232e" stroke-width="0.5" stroke-linejoin="round"/>
<path d="M543.7,947.9 544.3,949.3 544.9,950.7 545.5,952.0 546.1,953.4 546.7,954.7 547.4,956.1 548.0,957.5 548.6,958.8 549.2,960.2 549.8,961.5 550.4,962.9 551.0,964.3 551.5,965.6 552.1,967.0 552.7,968.4 553.3,969.7 553.1,969.8 552.4,968.5 551.8,967.2 551.1,965.8 550.4,964.5 549.7,963.2 549.1,961.9 548.4,960.6 547.7,959.2 547.0,957.9 546.3,956.6 545.6,955.3 544.9,954.0 544.1,952.7 543.4,951.4 542.7,950.1 541.9,948.9Z" fill="#da232e" stroke="#da232e" stroke-width="0.5" stroke-linejoin="round"/>
<path d="M462.2,918.2 460.9,918.8 459.6,919.5 458.2,920.2 456.9,920.9 455.6,921.6 454.2,922.3 452.9,923.0 451.5,923.6 450.0,924.2 448.6,924.8 447.2,925.3 445.7,925.8 444.2,926.2 442.7,926.6 441.1,927.0 439.6,927.2 437.9,927.3 436.3,927.3 434.7,927.0 433.0,926.5 431.4,925.6 430.0,924.5 429.0,923.0 428.3,921.6 427.8,920.1 427.3,918.7 426.8,917.3 426.2,916.1 425.5,914.8 424.9,913.5 424.2,912.2 423.4,911.1 422.5,910.1 421.4,909.4 420.1,908.9 418.8,908.5 417.4,908.2 416.0,908.1 414.6,908.2 413.3,908.6 412.0,909.1 410.6,909.8 409.3,910.4 407.8,911.0 406.4,911.4 405.0,911.9 403.6,912.4 402.1,912.8 400.5,912.8 399.0,912.3 397.7,911.4 396.7,910.3 395.7,909.2 394.7,908.0 393.7,907.0 393.9,906.8 395.0,907.8 396.0,908.9 397.0,910.0 398.1,911.0 399.3,911.8 400.6,912.2 402.0,912.1 403.4,911.7 404.7,911.1 406.1,910.6 407.5,910.0 408.8,909.5 410.1,908.8 411.5,908.1 412.9,907.4 414.4,906.9 416.0,906.7 417.5,906.8 419.1,907.0 420.6,907.4 422.1,907.9 423.6,908.8 424.8,909.9 425.8,911.2 426.6,912.5 427.4,913.8 428.1,915.1 428.9,916.5 429.5,917.9 430.0,919.3 430.6,920.6 431.2,921.8 432.0,922.7 432.9,923.4 433.9,923.9 435.2,924.2 436.5,924.3 437.8,924.3 439.1,924.1 440.5,923.8 441.8,923.5 443.2,923.0 444.6,922.5 445.9,922.0 447.2,921.4 448.5,920.8 449.8,920.2 451.0,919.5 452.3,918.7 453.5,917.9 454.7,917.1 456.0,916.3 457.2,915.5 458.5,914.7 459.8,913.9Z" fill="#da232e" stroke="#da232e" stroke-width="0.5" stroke-linejoin="round"/>
<path d="M404.4,912.1 403.8,913.4 403.2,914.8 402.6,916.2 402.0,917.6 401.2,918.9 400.2,920.1 399.1,921.1 397.8,922.0 396.6,922.9 395.4,923.8 395.3,923.6 396.4,922.6 397.5,921.6 398.7,920.7 399.6,919.6 400.4,918.4 401.0,917.1 401.5,915.8 401.9,914.3 402.3,912.9 402.7,911.4Z" fill="#da232e" stroke="#da232e" stroke-width="0.5" stroke-linejoin="round"/>
<path d="M440.7,927.2 439.4,927.8 438.1,928.5 436.8,929.2 435.5,929.9 434.1,930.6 432.8,931.3 431.5,932.0 430.1,932.7 428.8,933.4 427.4,934.1 425.9,934.7 424.5,935.2 423.1,935.8 421.6,936.3 420.2,936.7 418.8,937.2 417.4,937.6 416.0,938.1 414.6,938.6 413.2,939.1 411.9,939.6 410.5,940.2 409.2,940.8 407.8,941.4 406.5,942.1 405.1,942.7 403.8,943.4 402.5,944.0 401.2,944.7 399.9,945.4 398.5,946.1 397.2,946.8 395.9,947.5 394.7,948.3 393.4,949.0 392.2,949.8 391.0,950.7 390.0,951.6 389.1,952.6 388.2,953.8 387.3,955.0 386.4,956.2 385.4,957.4 384.1,958.4 382.6,959.1 381.0,959.5 379.4,959.6 377.9,959.5 376.4,959.5 374.9,959.4 373.5,959.3 372.0,959.3 370.5,959.3 369.0,959.3 367.5,959.3 366.0,959.3 364.6,959.4 363.2,959.6 361.8,960.1 360.6,960.9 359.4,961.7 358.3,962.8 357.3,963.8 356.3,964.9 355.4,966.1 354.6,967.3 353.8,968.6 353.0,969.8 352.8,969.7 353.6,968.4 354.3,967.1 355.1,965.8 356.0,964.6 357.0,963.5 358.0,962.4 359.0,961.3 360.2,960.3 361.5,959.5 363.0,958.9 364.5,958.6 366.0,958.4 367.5,958.4 369.0,958.4 370.5,958.3 371.9,958.3 373.4,958.2 375.0,958.2 376.5,958.3 378.0,958.3 379.4,958.3 380.8,958.1 382.1,957.8 383.3,957.2 384.3,956.4 385.2,955.3 386.0,954.1 386.9,952.8 387.7,951.6 388.8,950.3 389.9,949.3 391.1,948.3 392.4,947.4 393.6,946.6 394.9,945.8 396.2,945.0 397.5,944.2 398.8,943.5 400.1,942.7 401.4,942.0 402.7,941.3 404.0,940.5 405.4,939.8 406.7,939.1 408.0,938.4 409.4,937.8 410.7,937.1 412.1,936.5 413.5,935.9 415.0,935.3 416.4,934.8 417.8,934.3 419.2,933.8 420.5,933.2 421.9,932.7 423.2,932.1 424.6,931.5 425.8,930.9 427.1,930.2 428.4,929.5 429.7,928.8 430.9,928.0 432.2,927.2 433.4,926.4 434.7,925.6 436.0,924.8 437.3,924.0 438.5,923.2Z" fill="#da232e" stroke="#da232e" stroke-width="0.5" stroke-linejoin="round"/>
<path d="M385.9,956.3 385.1,957.6 384.5,958.9 383.8,960.2 383.1,961.6 382.4,962.9 381.7,964.2 380.9,965.5 380.1,966.8 379.2,968.1 378.2,969.3 377.2,970.4 376.2,971.5 375.1,972.6 374.1,973.6 373.0,974.6 371.9,975.6 370.8,976.7 369.8,977.7 368.7,978.7 367.7,979.8 366.6,980.8 365.5,981.8 364.4,982.8 363.3,983.8 362.3,984.8 361.2,985.9 360.2,986.9 359.1,988.0 358.1,989.0 357.1,990.1 356.1,991.2 355.2,992.3 354.3,993.5 353.4,994.7 352.6,995.9 351.9,997.2 351.3,998.5 350.7,999.9 350.2,1001.3 349.6,1002.6 349.0,1004.0 348.8,1003.9 349.4,1002.5 349.9,1001.2 350.4,999.8 350.9,998.4 351.5,997.0 352.2,995.7 352.9,994.4 353.8,993.1 354.6,991.9 355.6,990.8 356.5,989.6 357.5,988.5 358.5,987.4 359.5,986.3 360.5,985.2 361.6,984.1 362.6,983.1 363.6,982.0 364.7,981.0 365.7,979.9 366.8,978.8 367.8,977.8 368.8,976.7 369.8,975.6 370.9,974.6 371.9,973.5 372.9,972.5 373.9,971.4 374.9,970.3 375.9,969.2 376.8,968.1 377.7,966.9 378.4,965.7 379.1,964.5 379.8,963.2 380.5,961.9 381.1,960.6 381.6,959.2 382.2,957.9 382.8,956.5 383.4,955.1Z" fill="#da232e" stroke="#da232e" stroke-width="0.5" stroke-linejoin="round"/>
<path d="M363.9,983.4 363.4,984.9 362.9,986.3 362.4,987.8 361.9,989.3 361.5,990.7 361.2,992.2 361.1,993.8 361.0,995.3 360.9,996.8 360.9,998.4 361.0,999.9 361.0,1001.5 361.0,1003.1 360.7,1003.1 360.7,1001.5 360.6,1000.0 360.5,998.4 360.4,996.8 360.4,995.3 360.4,993.7 360.5,992.1 360.7,990.6 361.1,989.0 361.4,987.5 361.9,986.0 362.3,984.5 362.6,983.0Z" fill="#da232e" stroke="#da232e" stroke-width="0.5" stroke-linejoin="round"/>
<path d="M413.8,937.9 413.9,939.3 414.0,940.8 414.2,942.3 414.4,943.7 414.6,945.3 414.6,946.8 414.6,948.3 414.4,949.8 414.2,951.3 414.0,952.8 413.7,954.2 413.3,955.7 412.9,957.1 412.5,958.5 412.1,960.0 411.6,961.3 411.0,962.7 410.4,964.1 409.8,965.4 409.2,966.8 409.0,966.7 409.5,965.3 410.0,963.9 410.6,962.5 411.1,961.2 411.5,959.8 411.9,958.4 412.2,956.9 412.5,955.5 412.8,954.0 413.0,952.6 413.2,951.1 413.3,949.7 413.4,948.2 413.3,946.8 413.2,945.4 412.9,944.0 412.7,942.5 412.4,941.1 412.0,939.6 411.7,938.2Z" fill="#da232e" stroke="#da232e" stroke-width="0.5" stroke-linejoin="round"/>
<path d="M469.1,936.4 470.4,935.9 471.7,935.3 473.0,934.7 474.5,934.1 476.1,933.4 477.8,933.0 479.9,932.9 481.9,933.2 483.7,933.8 485.3,934.7 486.6,935.7 488.0,936.8 489.1,938.0 490.2,939.4 491.1,940.7 491.9,942.0 492.7,943.3 493.5,944.6 494.2,946.0 494.9,947.3 495.6,948.6 496.4,950.1 497.0,951.5 497.6,952.9 498.1,954.3 498.6,955.6 499.2,956.9 499.9,958.1 500.6,959.3 501.4,960.3 502.3,961.3 503.3,962.3 504.4,963.3 505.5,964.3 506.6,965.2 507.8,966.1 508.9,967.0 510.1,967.9 511.2,968.7 512.5,969.5 513.8,970.2 515.1,971.0 516.4,971.9 517.7,972.9 518.8,974.1 519.9,975.3 520.8,976.5 521.6,977.8 522.5,979.1 523.3,980.3 524.1,981.5 524.9,982.7 525.9,983.7 526.9,984.8 527.9,985.8 529.0,986.8 530.1,987.8 531.1,988.6 532.3,989.3 533.6,989.9 534.8,990.1 536.1,990.2 537.5,990.1 538.9,989.9 540.3,989.5 541.7,989.1 543.1,988.7 544.6,988.3 546.1,987.9 547.5,987.5 548.9,987.1 550.3,986.6 551.7,986.1 553.1,985.6 554.5,985.1 556.0,984.7 557.6,984.4 559.1,984.3 560.7,984.3 562.2,984.4 563.7,984.6 565.2,984.9 566.7,985.2 568.2,985.5 569.6,985.9 571.1,986.3 572.5,986.8 573.9,987.5 575.3,988.2 576.6,988.9 577.9,989.6 579.2,990.1 580.6,990.6 582.0,990.7 583.5,990.8 584.9,990.6 586.4,990.4 587.8,990.1 589.3,989.8 590.7,989.4 592.1,988.9 593.6,988.5 595.0,988.0 596.3,987.5 597.7,986.9 599.1,986.3 600.4,985.6 601.7,985.0 603.1,984.3 604.5,983.7 604.6,983.9 603.2,984.6 601.9,985.3 600.6,986.0 599.2,986.6 597.9,987.3 596.5,987.9 595.1,988.5 593.7,989.0 592.3,989.5 590.9,989.9 589.4,990.4 588.0,990.8 586.5,991.1 585.0,991.4 583.5,991.5 582.0,991.6 580.4,991.4 578.9,991.0 577.5,990.4 576.1,989.8 574.8,989.1 573.5,988.4 572.1,987.8 570.8,987.4 569.3,987.1 567.9,986.7 566.4,986.4 565.0,986.1 563.5,985.9 562.1,985.8 560.6,985.7 559.2,985.7 557.8,985.9 556.4,986.2 555.0,986.6 553.6,987.1 552.2,987.6 550.8,988.1 549.4,988.7 548.0,989.2 546.5,989.6 545.1,990.0 543.7,990.5 542.3,990.9 540.8,991.4 539.3,991.8 537.8,992.1 536.2,992.3 534.5,992.2 532.8,991.9 531.3,991.3 529.9,990.5 528.6,989.5 527.4,988.5 526.3,987.5 525.2,986.5 524.1,985.4 523.0,984.2 522.0,983.0 521.2,981.8 520.3,980.5 519.5,979.3 518.6,978.1 517.7,977.0 516.8,976.0 515.8,975.0 514.7,974.3 513.5,973.5 512.3,972.8 511.0,972.1 509.6,971.3 508.3,970.4 507.0,969.5 505.8,968.6 504.6,967.7 503.4,966.8 502.2,965.8 501.0,964.8 499.9,963.7 498.8,962.6 497.7,961.3 496.8,959.9 496.0,958.5 495.3,957.1 494.7,955.7 494.1,954.3 493.5,953.0 492.9,951.7 492.2,950.5 491.5,949.2 490.7,948.0 489.9,946.7 489.2,945.5 488.4,944.2 487.6,943.1 486.7,941.9 485.9,941.0 484.9,940.1 483.9,939.3 482.8,938.6 481.8,938.1 480.8,937.8 479.7,937.7 478.9,937.7 477.7,938.1 476.6,938.6 475.3,939.2 474.0,940.0 472.7,940.7 471.2,941.4Z" fill="#da232e" stroke="#da232e" stroke-width="0.5" stroke-linejoin="round"/>
<path d="M535.8,991.5 536.0,993.0 536.2,994.5 536.4,996.0 536.6,997.5 536.9,999.0 537.1,1000.4 537.4,1001.9 537.7,1003.3 538.0,1004.7 538.4,1006.2 538.9,1007.6 539.3,1009.0 539.9,1010.3 540.4,1011.7 541.0,1013.1 541.7,1014.4 542.4,1015.7 543.1,1017.0 543.8,1018.3 544.6,1019.5 545.4,1020.8 546.2,1022.1 547.1,1023.3 548.0,1024.5 548.8,1025.7 549.7,1026.9 550.7,1028.0 551.7,1029.1 552.7,1030.3 553.7,1031.4 554.7,1032.6 555.6,1033.9 556.4,1035.2 557.1,1036.6 557.8,1037.9 558.4,1039.3 558.9,1040.7 559.5,1042.1 560.0,1043.6 560.6,1045.0 561.2,1046.3 561.8,1047.7 562.4,1049.1 563.1,1050.4 563.8,1051.7 564.5,1053.1 565.1,1054.4 565.8,1055.8 566.3,1057.2 566.8,1058.7 567.1,1060.2 567.2,1061.7 567.3,1063.2 567.3,1064.7 567.4,1066.2 567.1,1066.3 567.0,1064.8 566.9,1063.3 566.8,1061.8 566.7,1060.3 566.3,1058.8 565.9,1057.4 565.3,1056.0 564.6,1054.7 563.9,1053.4 563.2,1052.1 562.5,1050.7 561.7,1049.4 561.1,1048.0 560.4,1046.7 559.8,1045.3 559.2,1043.9 558.6,1042.5 558.0,1041.1 557.4,1039.8 556.8,1038.4 556.1,1037.1 555.4,1035.8 554.6,1034.6 553.7,1033.4 552.7,1032.3 551.7,1031.2 550.7,1030.1 549.6,1029.0 548.6,1027.9 547.6,1026.7 546.7,1025.5 545.8,1024.2 544.9,1023.0 544.0,1021.8 543.1,1020.5 542.3,1019.3 541.4,1018.0 540.6,1016.7 539.9,1015.3 539.2,1014.0 538.5,1012.6 537.9,1011.2 537.3,1009.8 536.7,1008.3 536.2,1006.9 535.7,1005.4 535.3,1003.9 534.9,1002.4 534.5,1000.9 534.2,999.4 533.9,997.9 533.6,996.4 533.4,995.0 533.1,993.5 532.7,992.0Z" fill="#da232e" stroke="#da232e" stroke-width="0.5" stroke-linejoin="round"/>
<path d="M555.2,1033.8 556.7,1034.3 558.1,1034.7 559.6,1035.1 561.0,1035.3 562.5,1035.4 564.0,1035.2 565.5,1035.0 566.9,1034.7 568.4,1034.4 568.5,1034.6 567.0,1035.0 565.6,1035.4 564.1,1035.8 562.5,1036.0 561.0,1036.1 559.4,1035.9 557.9,1035.7 556.4,1035.4 554.9,1035.2Z" fill="#da232e" stroke="#da232e" stroke-width="0.5" stroke-linejoin="round"/>
<path d="M564.0,985.6 564.0,987.1 564.0,988.6 564.1,990.1 564.1,991.6 564.1,993.1 564.2,994.6 564.2,996.1 564.3,997.6 564.4,999.1 564.4,1000.6 564.4,1002.1 564.5,1003.6 564.7,1004.9 565.0,1006.3 565.6,1007.4 566.5,1008.5 567.6,1009.4 568.8,1010.2 570.0,1010.9 571.3,1011.7 572.7,1012.4 574.0,1013.1 575.3,1013.7 576.6,1014.3 578.1,1014.7 579.5,1015.2 580.9,1015.8 582.3,1016.7 583.4,1017.7 584.4,1018.9 585.3,1020.2 586.0,1021.6 586.6,1022.9 587.3,1024.3 587.9,1025.7 588.5,1027.1 589.0,1028.5 589.5,1029.9 589.9,1031.4 590.3,1032.8 590.7,1034.3 591.2,1035.7 591.0,1035.8 590.5,1034.3 590.0,1032.9 589.5,1031.5 589.1,1030.1 588.5,1028.7 588.0,1027.3 587.4,1025.9 586.7,1024.6 586.1,1023.2 585.4,1021.9 584.6,1020.6 583.8,1019.4 582.8,1018.3 581.7,1017.4 580.5,1016.7 579.2,1016.2 577.8,1015.7 576.3,1015.3 574.8,1014.8 573.4,1014.1 572.1,1013.5 570.7,1012.8 569.4,1012.1 568.0,1011.4 566.7,1010.6 565.5,1009.5 564.4,1008.4 563.5,1006.8 563.0,1005.3 562.7,1003.7 562.6,1002.2 562.5,1000.7 562.4,999.2 562.3,997.7 562.2,996.2 562.0,994.7 561.9,993.2 561.8,991.7 561.7,990.2 561.6,988.7 561.5,987.2 561.3,985.7Z" fill="#da232e" stroke="#da232e" stroke-width="0.5" stroke-linejoin="round"/>
<path d="M584.3,991.3 585.1,992.5 586.0,993.7 586.8,994.9 587.7,996.1 588.4,997.4 589.1,998.7 589.8,1000.0 590.5,1001.3 591.1,1002.6 591.8,1003.9 591.6,1004.0 590.8,1002.8 590.1,1001.5 589.4,1000.2 588.6,999.0 587.8,997.8 587.0,996.6 586.1,995.5 585.2,994.4 584.2,993.3 583.2,992.2Z" fill="#da232e" stroke="#da232e" stroke-width="0.5" stroke-linejoin="round"/>
<path d="M470.3,956.9 469.4,958.0 468.6,959.2 467.8,960.5 467.0,961.7 466.1,963.0 465.2,964.3 464.2,965.5 463.1,966.8 461.9,967.9 460.6,968.8 459.3,969.7 457.9,970.5 456.6,971.2 455.2,971.9 453.9,972.6 452.5,973.2 451.1,973.9 449.8,974.5 448.5,975.1 447.1,975.8 445.7,976.4 444.4,977.0 443.0,977.6 441.6,978.2 440.2,978.8 438.8,979.3 437.4,979.9 436.0,980.4 434.5,980.9 433.0,981.3 431.6,981.7 430.1,982.0 428.6,982.3 427.2,982.7 425.8,983.0 424.5,983.5 423.3,984.1 422.1,984.8 420.9,985.7 419.9,986.6 418.9,987.7 417.9,988.8 417.0,989.9 416.0,991.1 415.1,992.2 414.2,993.4 413.3,994.6 412.5,995.8 411.6,997.0 410.9,998.2 410.1,999.5 409.4,1000.8 408.7,1002.1 408.0,1003.4 407.3,1004.7 406.7,1006.1 406.1,1007.4 405.6,1008.8 405.2,1010.2 404.8,1011.6 404.4,1013.1 404.1,1014.5 403.8,1016.0 403.6,1017.4 403.4,1018.9 403.2,1020.4 403.0,1021.9 402.8,1023.3 402.6,1024.8 402.5,1026.3 402.4,1027.8 402.3,1029.3 402.2,1030.8 402.2,1032.2 402.1,1033.7 402.1,1035.2 402.0,1036.7 402.0,1038.2 401.9,1039.7 401.6,1039.7 401.7,1038.2 401.7,1036.7 401.7,1035.2 401.7,1033.7 401.7,1032.2 401.8,1030.7 401.8,1029.2 401.9,1027.7 401.9,1026.3 402.0,1024.8 402.1,1023.3 402.3,1021.8 402.4,1020.3 402.6,1018.8 402.8,1017.3 403.0,1015.8 403.2,1014.3 403.5,1012.9 403.8,1011.4 404.2,1009.9 404.6,1008.5 405.1,1007.1 405.7,1005.6 406.3,1004.3 406.9,1002.9 407.6,1001.5 408.3,1000.2 409.0,998.9 409.7,997.5 410.5,996.3 411.3,995.0 412.1,993.7 413.0,992.5 413.9,991.3 414.8,990.1 415.7,988.9 416.6,987.7 417.6,986.5 418.6,985.4 419.8,984.3 421.0,983.3 422.3,982.4 423.7,981.7 425.2,981.1 426.7,980.7 428.1,980.3 429.6,980.0 431.0,979.6 432.4,979.2 433.8,978.8 435.2,978.3 436.5,977.7 437.9,977.1 439.2,976.5 440.6,975.9 441.9,975.3 443.3,974.7 444.6,974.0 445.9,973.3 447.2,972.7 448.6,972.0 449.9,971.3 451.2,970.6 452.5,969.9 453.8,969.2 455.1,968.5 456.3,967.8 457.5,967.0 458.7,966.2 459.7,965.3 460.7,964.3 461.5,963.4 462.3,962.2 463.1,961.0 463.9,959.8 464.6,958.5 465.4,957.2 466.1,955.9 466.9,954.6Z" fill="#da232e" stroke="#da232e" stroke-width="0.5" stroke-linejoin="round"/>
<path d="M408.2,1003.7 407.1,1004.7 406.0,1005.7 404.9,1006.8 403.8,1007.9 402.8,1008.9 401.7,1010.0 400.6,1011.0 399.4,1012.0 398.2,1013.0 397.0,1013.9 395.8,1014.8 394.5,1015.6 393.2,1016.4 391.9,1017.1 390.5,1017.8 389.1,1018.5 387.7,1019.0 386.3,1019.5 384.9,1020.0 383.5,1020.6 383.4,1020.3 384.8,1019.8 386.2,1019.2 387.6,1018.6 388.9,1018.0 390.3,1017.3 391.6,1016.6 392.8,1015.8 394.1,1015.0 395.3,1014.1 396.5,1013.2 397.6,1012.2 398.7,1011.2 399.8,1010.2 400.8,1009.1 401.9,1008.0 402.9,1006.9 403.9,1005.8 404.9,1004.7 405.9,1003.6 406.9,1002.4Z" fill="#da232e" stroke="#da232e" stroke-width="0.5" stroke-linejoin="round"/>
<path d="M434.4,980.1 434.3,981.7 434.3,983.2 434.3,984.7 434.3,986.3 434.2,987.8 434.0,989.4 433.7,990.9 433.2,992.4 432.6,993.9 431.9,995.2 431.1,996.5 430.0,997.7 428.7,998.6 427.5,999.5 426.3,1000.4 426.1,1000.2 427.3,999.2 428.5,998.3 429.6,997.3 430.6,996.2 431.4,994.9 432.0,993.6 432.4,992.2 432.8,990.7 433.0,989.2 433.1,987.7 433.1,986.3 433.0,984.8 432.9,983.2 432.7,981.7 432.6,980.2Z" fill="#da232e" stroke="#da232e" stroke-width="0.5" stroke-linejoin="round"/>
<path d="M480.5,978.2 479.0,978.6 477.5,979.0 476.1,979.4 474.6,979.8 473.3,980.2 472.1,980.7 471.1,981.3 470.0,982.2 469.2,983.2 468.4,984.3 467.8,985.6 467.3,986.9 466.8,988.2 466.6,989.5 466.5,990.8 466.5,992.3 466.5,993.9 466.5,995.5 466.2,997.1 465.7,998.7 464.8,1000.3 463.8,1001.5 462.6,1002.6 461.4,1003.6 460.2,1004.6 458.9,1005.5 457.7,1006.3 456.4,1007.2 455.1,1008.0 453.8,1008.8 452.5,1009.5 451.2,1010.3 449.8,1011.0 448.5,1011.7 447.1,1012.4 445.8,1013.1 444.4,1013.8 443.1,1014.4 441.7,1015.1 440.3,1015.7 438.9,1016.3 437.5,1017.0 436.2,1017.6 434.8,1018.2 433.5,1018.9 432.2,1019.6 430.9,1020.4 429.7,1021.2 428.4,1022.0 427.1,1022.9 425.8,1023.6 424.4,1024.3 422.8,1024.7 421.2,1024.5 419.9,1023.6 418.9,1022.4 418.0,1021.2 417.0,1020.1 416.0,1019.0 415.1,1017.8 414.2,1016.5 413.3,1015.3 413.5,1015.2 414.4,1016.4 415.3,1017.5 416.3,1018.7 417.3,1019.8 418.4,1020.9 419.3,1022.1 420.3,1023.2 421.5,1024.0 422.8,1024.1 424.1,1023.7 425.4,1023.0 426.7,1022.2 427.9,1021.4 429.2,1020.5 430.4,1019.7 431.7,1018.8 433.0,1018.0 434.4,1017.3 435.7,1016.6 437.1,1016.0 438.4,1015.3 439.8,1014.6 441.2,1014.0 442.5,1013.3 443.8,1012.6 445.1,1011.9 446.5,1011.1 447.8,1010.4 449.1,1009.7 450.4,1008.9 451.7,1008.2 452.9,1007.4 454.2,1006.6 455.4,1005.7 456.6,1004.8 457.8,1003.9 459.0,1003.0 460.2,1002.1 461.3,1001.1 462.2,1000.1 463.1,999.0 463.7,997.9 464.1,996.7 464.2,995.3 464.2,993.9 464.1,992.4 464.0,990.9 464.1,989.3 464.3,987.6 464.8,986.0 465.3,984.5 466.0,983.0 466.9,981.6 467.9,980.2 469.1,979.1 470.6,978.1 472.2,977.3 473.7,976.7 475.1,976.2 476.6,975.8 478.0,975.3 479.3,974.8Z" fill="#da232e" stroke="#da232e" stroke-width="0.5" stroke-linejoin="round"/>
<path d="M422.5,1024.8 421.6,1026.1 420.7,1027.4 419.8,1028.7 419.0,1030.0 418.2,1031.4 417.4,1032.8 416.7,1034.2 416.0,1035.6 415.3,1037.0 415.1,1036.9 415.7,1035.4 416.3,1034.0 416.9,1032.5 417.6,1031.1 418.3,1029.6 419.1,1028.2 419.8,1026.9 420.6,1025.5 421.3,1024.1Z" fill="#da232e" stroke="#da232e" stroke-width="0.5" stroke-linejoin="round"/>
<path d="M443.8,1014.0 443.3,1015.5 442.9,1016.9 442.4,1018.3 442.0,1019.7 441.5,1021.1 441.1,1022.5 440.8,1023.9 440.5,1025.4 440.3,1026.8 440.2,1028.2 440.1,1029.7 440.1,1031.2 440.1,1032.6 440.1,1034.1 440.1,1035.6 440.0,1037.1 439.8,1038.7 439.4,1040.2 438.8,1041.6 438.0,1042.9 437.1,1044.2 436.2,1045.4 435.2,1046.5 434.3,1047.6 433.4,1048.8 432.5,1050.0 431.6,1051.1 430.6,1052.3 429.7,1053.5 428.8,1054.6 427.8,1055.8 426.9,1056.9 426.0,1058.1 425.8,1057.9 426.7,1056.7 427.6,1055.6 428.5,1054.4 429.4,1053.2 430.2,1052.0 431.1,1050.8 432.0,1049.6 432.9,1048.4 433.8,1047.2 434.7,1046.0 435.6,1044.9 436.5,1043.7 437.3,1042.5 437.9,1041.2 438.4,1039.9 438.8,1038.5 438.9,1037.1 438.9,1035.6 438.9,1034.2 438.9,1032.7 438.8,1031.2 438.7,1029.7 438.7,1028.2 438.8,1026.6 439.0,1025.1 439.2,1023.6 439.5,1022.1 439.8,1020.7 440.2,1019.2 440.6,1017.8 440.9,1016.3 441.3,1014.9 441.6,1013.5Z" fill="#da232e" stroke="#da232e" stroke-width="0.5" stroke-linejoin="round"/>
<path d="M482.0,1022.7 480.5,1022.9 478.9,1023.1 477.4,1023.3 475.9,1023.5 474.5,1023.7 473.1,1024.1 471.8,1024.5 470.4,1025.1 469.2,1025.8 468.1,1026.7 467.1,1027.7 466.2,1028.8 465.4,1030.1 464.8,1031.4 464.2,1032.8 463.6,1034.2 463.1,1035.6 462.5,1037.0 461.8,1038.4 461.0,1039.7 460.1,1041.0 459.1,1042.2 458.2,1043.4 457.2,1044.6 456.2,1045.7 455.1,1046.9 454.1,1048.0 452.9,1049.0 451.8,1050.0 450.6,1051.0 449.5,1052.0 449.3,1051.8 450.4,1050.8 451.5,1049.7 452.6,1048.7 453.7,1047.6 454.7,1046.5 455.7,1045.3 456.7,1044.2 457.6,1043.0 458.5,1041.8 459.4,1040.5 460.2,1039.3 460.9,1037.9 461.5,1036.6 462.0,1035.2 462.5,1033.7 463.0,1032.3 463.5,1030.8 464.2,1029.4 464.9,1028.0 465.9,1026.7 467.0,1025.5 468.2,1024.4 469.6,1023.5 471.0,1022.8 472.5,1022.2 474.0,1021.7 475.6,1021.3 477.1,1021.0 478.6,1020.7 480.0,1020.4 481.5,1020.0Z" fill="#da232e" stroke="#da232e" stroke-width="0.5" stroke-linejoin="round"/>
<path d="M486.5,1023.3 487.5,1024.4 488.6,1025.5 489.6,1026.6 490.6,1027.7 491.6,1028.7 492.7,1029.7 493.8,1030.6 495.0,1031.4 496.3,1032.1 497.5,1032.8 498.8,1033.5 500.2,1034.1 501.5,1034.6 502.9,1035.0 504.3,1035.3 505.8,1035.4 507.2,1035.6 508.8,1035.7 510.3,1035.8 511.8,1036.0 513.3,1036.4 514.8,1036.9 516.2,1037.4 517.7,1038.0 519.0,1038.6 520.4,1039.2 521.8,1039.9 523.1,1040.6 524.5,1041.2 525.8,1041.9 527.1,1042.7 528.4,1043.4 529.7,1044.2 531.0,1044.9 532.3,1045.7 533.6,1046.5 534.9,1047.2 534.8,1047.4 533.5,1046.7 532.2,1046.0 530.8,1045.3 529.5,1044.6 528.2,1043.9 526.8,1043.2 525.5,1042.5 524.1,1041.9 522.8,1041.3 521.4,1040.7 520.0,1040.1 518.6,1039.5 517.3,1039.0 515.9,1038.5 514.4,1038.0 513.0,1037.6 511.6,1037.4 510.2,1037.2 508.7,1037.1 507.2,1037.1 505.7,1037.0 504.1,1036.9 502.5,1036.7 501.0,1036.3 499.5,1035.9 498.1,1035.3 496.6,1034.7 495.2,1034.0 493.9,1033.3 492.5,1032.5 491.2,1031.6 490.0,1030.6 488.8,1029.6 487.7,1028.6 486.6,1027.5 485.5,1026.5 484.3,1025.6Z" fill="#da232e" stroke="#da232e" stroke-width="0.5" stroke-linejoin="round"/>
<path d="M512.2,1037.6 512.0,1039.1 511.9,1040.6 511.7,1042.0 511.6,1043.5 511.5,1045.0 511.4,1046.5 511.4,1047.9 511.5,1049.4 511.7,1050.8 511.9,1052.3 512.3,1053.7 512.6,1055.2 513.0,1056.6 513.3,1058.1 513.6,1059.5 513.4,1059.6 513.0,1058.1 512.6,1056.7 512.2,1055.3 511.8,1053.9 511.4,1052.4 511.0,1050.9 510.8,1049.5 510.6,1048.0 510.5,1046.5 510.5,1045.0 510.5,1043.5 510.5,1042.0 510.6,1040.5 510.6,1039.0 510.6,1037.5Z" fill="#da232e" stroke="#da232e" stroke-width="0.5" stroke-linejoin="round"/>
<path d="M477.3,1056.9 475.9,1057.4 474.5,1058.0 473.1,1058.5 471.7,1059.1 470.3,1059.7 468.9,1060.3 467.6,1060.9 466.2,1061.5 464.8,1062.1 463.4,1062.7 462.1,1063.4 460.7,1064.0 459.4,1064.7 458.1,1065.4 456.7,1066.1 455.4,1066.8 454.1,1067.6 452.9,1068.4 451.6,1069.2 450.4,1070.1 449.3,1071.1 448.1,1072.0 447.0,1073.0 445.8,1074.0 445.6,1073.8 446.8,1072.8 447.9,1071.8 449.0,1070.7 450.1,1069.7 451.3,1068.8 452.5,1067.9 453.8,1067.0 455.0,1066.2 456.3,1065.4 457.6,1064.6 458.9,1063.9 460.2,1063.1 461.6,1062.4 462.9,1061.6 464.2,1060.9 465.6,1060.2 466.9,1059.5 468.3,1058.9 469.6,1058.2 471.0,1057.5 472.4,1056.8 473.7,1056.2 475.1,1055.5 476.4,1054.8Z" fill="#da232e" stroke="#da232e" stroke-width="0.5" stroke-linejoin="round"/>
<path d="M469.3,1059.7 468.8,1061.2 468.4,1062.6 468.0,1064.1 467.5,1065.5 467.1,1067.0 466.7,1068.5 466.3,1069.9 466.0,1071.4 465.7,1072.9 465.4,1074.4 465.2,1075.9 465.0,1077.4 464.8,1078.9 464.6,1080.4 464.4,1081.9 464.2,1083.4 463.9,1083.3 464.1,1081.8 464.2,1080.3 464.4,1078.8 464.5,1077.3 464.7,1075.8 464.9,1074.3 465.1,1072.8 465.3,1071.3 465.6,1069.8 465.9,1068.3 466.3,1066.8 466.6,1065.3 467.0,1063.8 467.3,1062.3 467.7,1060.9 468.0,1059.4Z" fill="#da232e" stroke="#da232e" stroke-width="0.5" stroke-linejoin="round"/>
<path d="M470,829.2 L491.6,829.2 L491.3,833 Q490.4,839 488.6,844 L484,852 L472,854 Q468,845 468.8,836 Z" fill="#da232e"/>
<path d="M491.6,829.2 L491.3,833 Q490.6,838 489.4,842" fill="none" stroke="#231f20" stroke-width="0.8"/>
<path d="M470,829.2 Q468.6,834 468.2,838" fill="none" stroke="#231f20" stroke-width="0.8"/>
<line x1="470" y1="829.2" x2="491.6" y2="829.2" stroke="#231f20" stroke-width="0.7"/>
<clipPath id="c100"><rect x="400" y="100" width="200" height="217.5"/></clipPath>
<path d="M472.3,123.0 472.3,124.9 472.3,126.9 472.2,128.9 472.2,130.8 472.1,132.5 472.0,134.0 471.8,135.1 471.5,135.9 471.1,136.5 470.8,137.1 470.5,137.7 470.2,138.5 470.0,138.9 469.8,138.7 469.7,138.6 469.6,139.2 469.5,141.1 469.4,145.0 469.3,150.6 469.3,157.4 469.3,165.5 469.3,175.2 469.3,186.6 469.3,200.0 469.3,216.4 469.3,236.0 469.3,257.3 469.4,279.0 469.4,299.7 469.5,318.0 469.6,333.5 469.8,347.3 469.9,360.1 470.1,372.7 470.3,385.7 470.5,400.0 470.8,415.9 471.1,432.9 471.4,450.4 471.7,467.8 471.9,484.5 472.0,500.0 471.9,514.2 471.7,527.6 471.4,540.2 471.0,552.4 470.7,564.3 470.5,576.0 470.4,587.4 470.2,598.4 470.2,609.0 470.1,619.4 470.0,629.7 470.0,640.0 470.0,650.7 470.0,661.7 470.1,672.6 470.1,683.0 470.1,692.2 470.0,700.0 469.8,705.9 469.5,710.1 469.1,713.4 468.7,716.1 468.4,718.8 468.0,722.0 468.0,722.0 465.8,722.6 463.3,723.0 460.9,723.5 458.7,724.1 457.0,724.9 456.0,726.0 456.0,727.5 456.7,729.4 458.0,731.5 459.5,733.7 460.9,735.9 462.0,738.0 462.8,740.0 463.5,741.9 464.2,743.8 464.8,745.8 465.4,747.8 466.0,750.0 466.5,752.2 467.0,754.4 467.5,756.7 468.0,759.1 468.3,761.9 468.7,765.0 469.0,768.6 469.3,772.6 469.5,776.9 469.7,781.3 469.9,785.7 470.0,790.0 470.1,794.2 470.1,798.6 470.1,802.9 470.0,807.1 470.0,811.2 470.0,815.0 470.0,818.5 470.0,821.8 470.0,824.9 470.0,827.9 470.0,830.9 470.0,834.0 491.6,834.0 491.6,830.0 491.6,825.9 491.6,821.8 491.6,817.7 491.6,813.8 491.6,810.0 491.6,806.6 491.5,803.5 491.4,800.6 491.4,797.5 491.2,794.0 491.0,790.0 490.7,785.1 490.3,779.4 489.8,773.3 489.4,767.3 488.9,761.7 488.6,757.0 488.3,753.3 488.1,750.4 488.0,748.0 487.8,745.7 487.7,743.1 487.5,740.0 487.3,736.4 487.0,732.4 486.7,728.3 486.5,724.0 486.4,719.5 486.5,715.0 486.8,710.2 487.2,705.2 487.8,700.0 488.4,694.8 489.0,689.8 489.5,685.0 490.0,680.5 490.6,676.0 491.2,671.8 491.8,667.6 492.2,663.7 492.5,660.0 492.6,656.5 492.7,653.0 492.6,649.8 492.4,646.9 492.1,644.2 491.5,642.0 490.7,640.3 489.6,639.1 488.4,638.2 487.1,637.6 485.7,636.9 484.5,636.0 484.5,636.0 484.5,626.2 484.4,616.6 484.4,607.0 484.4,597.2 484.4,586.9 484.3,576.0 484.2,564.5 484.2,552.7 484.1,540.5 484.0,527.7 483.9,514.2 483.7,500.0 483.5,484.5 483.2,467.8 482.9,450.4 482.6,432.9 482.3,415.9 482.0,400.0 481.7,385.7 481.4,372.7 481.1,360.1 480.8,347.3 480.4,333.5 480.0,318.0 479.5,299.7 478.9,279.0 478.3,257.3 477.8,236.0 477.3,216.4 476.9,200.0 476.7,186.6 476.6,175.2 476.6,165.5 476.6,157.4 476.6,150.6 476.6,145.0 476.6,141.1 476.5,139.2 476.5,138.6 476.4,138.7 476.3,138.9 476.2,138.5 476.0,137.7 475.8,137.1 475.5,136.5 475.2,135.9 475.0,135.1 474.8,134.0 474.7,132.5 474.6,130.8 474.6,128.9 474.6,126.9 474.6,124.9 474.6,123.0Z" fill="#d9272d" stroke="#231f20" stroke-width="0.9" clip-path="url(#c100)"/>
<clipPath id="c317"><rect x="400" y="317.5" width="200" height="511.70000000000005"/></clipPath>
<path d="M472.3,123.0 472.3,124.9 472.3,126.9 472.2,128.9 472.2,130.8 472.1,132.5 472.0,134.0 471.8,135.1 471.5,135.9 471.1,136.5 470.8,137.1 470.5,137.7 470.2,138.5 470.0,138.9 469.8,138.7 469.7,138.6 469.6,139.2 469.5,141.1 469.4,145.0 469.3,150.6 469.3,157.4 469.3,165.5 469.3,175.2 469.3,186.6 469.3,200.0 469.3,216.4 469.3,236.0 469.3,257.3 469.4,279.0 469.4,299.7 469.5,318.0 469.6,333.5 469.8,347.3 469.9,360.1 470.1,372.7 470.3,385.7 470.5,400.0 470.8,415.9 471.1,432.9 471.4,450.4 471.7,467.8 471.9,484.5 472.0,500.0 471.9,514.2 471.7,527.6 471.4,540.2 471.0,552.4 470.7,564.3 470.5,576.0 470.4,587.4 470.2,598.4 470.2,609.0 470.1,619.4 470.0,629.7 470.0,640.0 470.0,650.7 470.0,661.7 470.1,672.6 470.1,683.0 470.1,692.2 470.0,700.0 469.8,705.9 469.5,710.1 469.1,713.4 468.7,716.1 468.4,718.8 468.0,722.0 468.0,722.0 465.8,722.6 463.3,723.0 460.9,723.5 458.7,724.1 457.0,724.9 456.0,726.0 456.0,727.5 456.7,729.4 458.0,731.5 459.5,733.7 460.9,735.9 462.0,738.0 462.8,740.0 463.5,741.9 464.2,743.8 464.8,745.8 465.4,747.8 466.0,750.0 466.5,752.2 467.0,754.4 467.5,756.7 468.0,759.1 468.3,761.9 468.7,765.0 469.0,768.6 469.3,772.6 469.5,776.9 469.7,781.3 469.9,785.7 470.0,790.0 470.1,794.2 470.1,798.6 470.1,802.9 470.0,807.1 470.0,811.2 470.0,815.0 470.0,818.5 470.0,821.8 470.0,824.9 470.0,827.9 470.0,830.9 470.0,834.0 491.6,834.0 491.6,830.0 491.6,825.9 491.6,821.8 491.6,817.7 491.6,813.8 491.6,810.0 491.6,806.6 491.5,803.5 491.4,800.6 491.4,797.5 491.2,794.0 491.0,790.0 490.7,785.1 490.3,779.4 489.8,773.3 489.4,767.3 488.9,761.7 488.6,757.0 488.3,753.3 488.1,750.4 488.0,748.0 487.8,745.7 487.7,743.1 487.5,740.0 487.3,736.4 487.0,732.4 486.7,728.3 486.5,724.0 486.4,719.5 486.5,715.0 486.8,710.2 487.2,705.2 487.8,700.0 488.4,694.8 489.0,689.8 489.5,685.0 490.0,680.5 490.6,676.0 491.2,671.8 491.8,667.6 492.2,663.7 492.5,660.0 492.6,656.5 492.7,653.0 492.6,649.8 492.4,646.9 492.1,644.2 491.5,642.0 490.7,640.3 489.6,639.1 488.4,638.2 487.1,637.6 485.7,636.9 484.5,636.0 484.5,636.0 484.5,626.2 484.4,616.6 484.4,607.0 484.4,597.2 484.4,586.9 484.3,576.0 484.2,564.5 484.2,552.7 484.1,540.5 484.0,527.7 483.9,514.2 483.7,500.0 483.5,484.5 483.2,467.8 482.9,450.4 482.6,432.9 482.3,415.9 482.0,400.0 481.7,385.7 481.4,372.7 481.1,360.1 480.8,347.3 480.4,333.5 480.0,318.0 479.5,299.7 478.9,279.0 478.3,257.3 477.8,236.0 477.3,216.4 476.9,200.0 476.7,186.6 476.6,175.2 476.6,165.5 476.6,157.4 476.6,150.6 476.6,145.0 476.6,141.1 476.5,139.2 476.5,138.6 476.4,138.7 476.3,138.9 476.2,138.5 476.0,137.7 475.8,137.1 475.5,136.5 475.2,135.9 475.0,135.1 474.8,134.0 474.7,132.5 474.6,130.8 474.6,128.9 474.6,126.9 474.6,124.9 474.6,123.0Z" fill="#f15a24" stroke="#231f20" stroke-width="0.9" clip-path="url(#c317)"/>
<line x1="470.5" y1="576.2" x2="484.3" y2="576.2" stroke="#231f20" stroke-width="0.6"/>
<path d="M484.5,648.0 484.8,647.5 485.1,647.0 485.4,646.4 485.7,645.9 486.0,645.4 486.3,644.9 486.6,644.4 487.0,644.0 487.4,643.7 487.9,643.4 488.4,643.1 488.9,642.9 489.4,642.7 490.0,642.5 490.5,642.2 491.0,642.0" fill="none" stroke="#231f20" stroke-width="0.9" stroke-linecap="round"/>
<path d="M486.0,690.0 486.3,689.3 486.5,688.5 486.8,687.8 487.0,687.1 487.3,686.4 487.5,685.6 487.8,684.8 488.0,684.0 488.2,683.1 488.4,682.1 488.6,681.1 488.8,680.1 489.0,679.1 489.1,678.0 489.3,677.0 489.5,676.0" fill="none" stroke="#231f20" stroke-width="0.9" stroke-linecap="round"/>
<path d="M463.0,736.0 463.4,736.6 463.8,737.2 464.2,737.8 464.6,738.4 465.0,739.0 465.4,739.6 465.7,740.3 466.0,741.0 466.2,741.8 466.4,742.6 466.5,743.5 466.6,744.4 466.7,745.3 466.8,746.2 466.9,747.1 467.0,748.0" fill="none" stroke="#231f20" stroke-width="0.9" stroke-linecap="round"/>
<path d="M468.0,737.0 468.3,737.5 468.5,738.0 468.8,738.5 469.1,738.9 469.4,739.4 469.6,739.9 469.8,740.5 470.0,741.0 470.1,741.6 470.2,742.2 470.3,742.8 470.3,743.4 470.4,744.1 470.4,744.7 470.4,745.4 470.5,746.0" fill="none" stroke="#231f20" stroke-width="0.9" stroke-linecap="round"/>
<rect x="460.5" y="723.2" width="36" height="14" rx="7" ry="7" fill="#231f20"/>
<path d="M473.2,122.0 469.6,119.8 470.7,118.2 467.0,116.1 468.1,114.5 464.4,112.4 465.5,110.7 461.7,108.8 462.7,107.2 459.4,104.8 460.7,103.3 457.7,100.4 459.2,99.1 456.4,96.0 457.9,94.8 455.3,91.5 456.9,90.4 454.5,87.0 456.1,86.0 454.0,82.4 455.7,81.6 453.7,77.8 455.4,77.0 453.4,73.3 455.1,72.5 452.9,68.8 454.7,67.9 452.2,64.3 453.9,63.4 451.3,60.0 452.9,58.9 450.2,55.6 451.7,54.5 448.8,51.3 450.2,50.1 446.8,47.4 448.1,46.0 444.6,43.6 445.8,42.1 444.7,43.3 446.0,41.9 449.0,44.9 450.2,43.4 453.2,46.5 454.5,45.2 456.9,48.7 458.5,47.6 460.4,51.5 462.1,50.6 463.7,54.5 465.4,53.7 466.8,57.8 468.5,57.1 469.4,61.3 471.3,60.9 471.5,65.2 473.4,65.0 473.3,69.3 475.2,69.3 474.7,73.6 476.6,73.7 475.8,77.9 477.7,78.1 476.7,82.3 478.6,82.7 477.2,86.7 479.0,87.3 477.2,91.2 478.9,91.9 476.7,95.6 478.4,96.5 475.9,100.0 477.6,101.0 475.2,104.5 476.8,105.5 474.4,109.0 476.1,110.0 473.5,113.4 475.1,114.5 472.6,117.9 474.2,118.9 471.6,122.3Z" fill="#e8eb3e" stroke="#231f20" stroke-width="1.15" stroke-linejoin="round"/>
<path d="M471.0,118.0 469.9,114.5 468.7,111.0 467.5,107.5 466.4,104.0 465.2,100.5 464.1,97.0 463.0,93.5 462.0,90.0 461.0,86.4 460.1,82.7 459.3,79.0 458.4,75.3 457.6,71.7 456.8,68.2 455.9,65.0 455.0,62.0 454.0,59.3 453.1,57.0 452.1,54.8 451.1,52.8 450.0,50.9 449.0,49.0 448.0,47.0 447.0,45.0" fill="none" stroke="#231f20" stroke-width="1.15" stroke-linecap="round"/>
<path d="M467.7,215.1 469.3,210.7 467.2,210.2 468.8,205.8 466.8,205.3 468.3,200.9 466.3,200.4 467.8,196.0 465.8,195.4 467.4,191.1 465.4,190.5 466.8,186.2 464.8,185.7 465.8,181.3 463.7,181.0 464.6,176.4 462.5,176.2 463.1,171.7 461.0,171.6 461.2,167.1 459.1,167.2 458.6,162.7 456.5,163.2 455.6,158.6 453.6,159.3 452.4,154.9 450.4,155.6 448.9,151.3 446.9,152.2 445.0,148.1 443.2,149.2 440.8,145.4 439.1,146.7 436.3,143.0 434.8,144.4 431.8,141.0 430.3,142.5 427.1,139.1 425.7,140.7 422.4,137.5 421.1,139.1 417.7,136.1 416.4,137.8 412.9,134.8 411.7,136.6 408.0,133.8 406.9,135.7 403.0,133.3 402.1,135.3 397.9,133.4 397.3,135.5 392.9,134.0 392.4,136.0 388.0,134.6 387.5,136.7 383.1,135.1 382.6,137.2 383.1,135.4 382.6,137.5 387.3,138.2 386.8,140.3 391.5,141.0 391.0,143.1 395.8,143.9 395.3,146.0 399.9,146.8 399.4,148.9 404.0,149.9 403.4,152.0 408.0,153.2 407.3,155.2 411.9,156.5 411.2,158.5 415.8,159.8 415.0,161.9 419.6,163.3 418.8,165.3 423.3,166.8 422.4,168.8 426.8,170.7 425.7,172.5 430.0,174.5 429.0,176.4 433.4,178.3 432.5,180.2 436.9,182.1 435.9,184.0 440.3,185.8 439.4,187.7 443.8,189.5 442.9,191.5 447.3,193.2 446.4,195.2 450.8,196.9 449.9,198.8 454.4,200.5 453.6,202.4 458.1,203.9 457.3,205.9 461.9,207.4 461.1,209.4 465.6,210.8 464.8,212.8 469.4,214.3Z" fill="#e8eb3e" stroke="#231f20" stroke-width="1.15" stroke-linejoin="round"/>
<path d="M468.0,213.0 466.4,209.5 464.9,205.9 463.4,202.4 461.9,198.8 460.3,195.3 458.7,191.8 456.9,188.4 455.0,185.0 453.0,181.7 450.8,178.4 448.6,175.1 446.3,171.8 443.9,168.7 441.4,165.6 438.8,162.7 436.0,160.0 433.1,157.4 429.9,154.9 426.7,152.6 423.3,150.3 419.9,148.2 416.5,146.3 413.2,144.5 410.0,143.0 406.9,141.7 403.9,140.7 400.9,139.9 397.9,139.3 394.9,138.8 392.0,138.2 389.0,137.7 386.0,137.0" fill="none" stroke="#231f20" stroke-width="1.15" stroke-linecap="round"/>
<path d="M452.0,182.0 451.5,179.8 451.1,177.7 450.7,175.4 450.2,173.2 449.8,171.1 449.3,169.0 448.7,166.9 448.0,165.0 447.2,163.2 446.3,161.5 445.3,159.8 444.2,158.2 443.2,156.7 442.1,155.2 441.0,153.6 440.0,152.0" fill="none" stroke="#231f20" stroke-width="1.0" stroke-linecap="round"/>
<path d="M438.0,163.0 437.0,161.6 436.0,160.2 435.1,158.8 434.1,157.4 433.1,156.0 432.1,154.6 431.1,153.3 430.0,152.0 428.8,150.8 427.6,149.6 426.4,148.5 425.1,147.4 423.8,146.3 422.5,145.2 421.3,144.1 420.0,143.0" fill="none" stroke="#231f20" stroke-width="1.0" stroke-linecap="round"/>
<path d="M482.5,172.4 482.0,173.8 481.5,175.3 481.0,176.8 480.5,178.2 479.9,179.7 479.3,181.1 478.7,182.6 478.0,184.0 476.5,185.0 476.5,185.0 476.2,183.2 476.7,181.7 477.3,180.3 477.9,178.9 478.4,177.5 478.9,176.0 479.4,174.6 479.9,173.1 480.5,171.6Z" fill="#e8eb3e" stroke="#231f20" stroke-width="1.0" stroke-linejoin="round"/>
<path d="M482.1,172.1 478.4,169.0 479.9,167.5 476.9,164.2 478.6,162.9 476.3,158.8 478.3,157.9 476.3,153.6 478.3,152.9 476.7,148.5 478.7,147.9 477.5,143.4 479.6,143.0 479.0,138.4 481.1,138.3 481.2,133.7 483.3,133.8 484.2,129.4 486.3,130.0 488.1,125.8 490.0,126.8 492.5,122.9 494.2,124.2 497.1,120.4 498.7,121.9 501.8,118.3 503.3,119.8 506.6,116.4 508.0,118.0 511.4,114.7 512.8,116.4 516.4,113.4 517.7,115.2 521.5,112.4 522.6,114.2 526.5,111.5 527.6,113.3 531.6,110.6 532.7,112.4 536.6,109.7 537.7,111.5 536.7,109.9 537.8,111.7 533.5,113.7 534.6,115.6 530.4,117.7 531.6,119.5 527.5,122.0 528.8,123.7 524.9,126.3 526.2,128.0 522.3,130.7 523.6,132.3 519.7,134.9 521.0,136.6 516.9,139.1 518.1,140.8 514.0,143.2 515.3,145.0 511.2,147.3 512.4,149.1 508.2,151.4 509.4,153.2 505.2,155.4 506.3,157.2 502.0,159.1 502.9,161.0 498.4,162.5 499.1,164.5 494.4,165.3 494.7,167.3 490.0,167.5 490.1,169.6 485.4,169.4 485.5,171.6 480.8,171.6Z" fill="#e8eb3e" stroke="#231f20" stroke-width="1.15" stroke-linejoin="round"/>
<path d="M481.5,171.0 482.8,168.1 483.9,165.2 485.1,162.2 486.3,159.3 487.5,156.4 488.8,153.5 490.3,150.7 492.0,148.0 493.8,145.3 495.8,142.7 497.9,140.1 500.1,137.6 502.4,135.1 504.8,132.6 507.4,130.3 510.0,128.0 512.8,125.8 515.8,123.7 518.9,121.7 522.1,119.8 525.3,117.8 528.6,115.9 531.8,114.0 535.0,112.0" fill="none" stroke="#231f20" stroke-width="1.15" stroke-linecap="round"/>
<path d="M484.0,160.0 483.9,158.5 483.7,157.0 483.5,155.4 483.3,153.9 483.2,152.4 483.0,150.9 483.0,149.4 483.0,148.0 483.1,146.7 483.3,145.4 483.5,144.1 483.8,142.9 484.1,141.7 484.4,140.5 484.7,139.2 485.0,138.0" fill="none" stroke="#231f20" stroke-width="1.0" stroke-linecap="round"/>
<path d="M490.0,152.0 490.0,150.5 489.9,149.0 489.8,147.4 489.8,145.9 489.7,144.4 489.7,142.9 489.8,141.4 490.0,140.0 490.3,138.7 490.7,137.4 491.2,136.1 491.8,134.9 492.3,133.7 492.9,132.5 493.5,131.2 494.0,130.0" fill="none" stroke="#231f20" stroke-width="1.0" stroke-linecap="round"/>
<path d="M498.0,141.0 499.0,140.4 500.0,139.7 501.1,139.0 502.1,138.4 503.1,137.7 504.1,137.1 505.1,136.5 506.0,136.0 506.8,135.5 507.6,135.1 508.4,134.7 509.1,134.4 509.8,134.0 510.5,133.7 511.3,133.4 512.0,133.0" fill="none" stroke="#231f20" stroke-width="1.0" stroke-linecap="round"/>
<path d="M480.1,119.5 479.6,120.9 479.1,122.4 478.6,123.8 478.1,125.2 477.6,126.6 477.1,128.0 476.7,129.5 476.2,130.9 475.8,132.4 475.4,133.8 474.8,135.2 473.6,136.5 473.6,136.5 473.1,134.8 473.3,133.3 473.5,131.8 473.9,130.3 474.2,128.8 474.5,127.3 474.9,125.8 475.3,124.3 475.7,122.9 476.1,121.4 476.5,119.9 476.9,118.5Z" fill="#e8eb3e" stroke="#231f20" stroke-width="1.0" stroke-linejoin="round"/>
<path d="M478.1,120.7 473.4,119.9 473.9,117.9 469.6,116.9 470.4,114.9 466.6,112.6 467.9,110.8 464.4,107.9 465.9,106.4 462.7,103.1 464.3,101.8 461.4,98.3 463.2,97.1 460.8,93.2 462.7,92.2 460.9,88.1 463.0,87.4 461.5,83.0 463.6,82.6 462.6,78.1 464.7,77.8 464.0,73.3 466.2,73.2 466.2,68.7 468.4,68.9 469.2,64.5 471.3,65.1 472.9,60.9 474.8,61.9 477.0,57.9 478.8,59.0 481.0,54.9 482.8,56.0 484.9,51.8 486.7,52.8 488.7,48.6 490.5,49.6 492.5,45.4 494.3,46.5 496.3,42.2 498.1,43.3 496.5,42.6 498.6,43.1 497.3,47.7 499.4,48.2 498.1,52.8 500.2,53.2 498.8,57.8 500.8,58.4 499.2,62.9 501.3,63.5 499.6,68.0 501.6,68.6 499.8,73.1 501.7,73.8 499.7,78.1 501.6,79.0 499.1,83.1 500.9,84.2 498.1,88.0 499.8,89.2 496.7,92.9 498.4,94.2 495.1,97.7 496.7,99.1 493.2,102.4 494.7,103.9 491.1,107.0 492.4,108.6 488.5,111.3 489.6,113.0 485.3,114.9 485.9,116.9 481.2,117.8 481.6,119.9 476.9,120.7Z" fill="#e8eb3e" stroke="#231f20" stroke-width="1.15" stroke-linejoin="round"/>
<path d="M477.0,122.0 477.9,119.2 478.8,116.5 479.7,113.7 480.6,110.9 481.5,108.1 482.4,105.4 483.2,102.7 484.0,100.0 484.7,97.4 485.5,94.7 486.2,92.1 486.8,89.5 487.4,87.0 488.0,84.5 488.5,82.2 489.0,80.0 489.4,78.0 489.7,76.1 490.0,74.3 490.2,72.6 490.4,71.0 490.6,69.4 490.8,67.7 491.0,66.0" fill="none" stroke="#231f20" stroke-width="1.15" stroke-linecap="round"/>
<path d="M480.0,112.0 479.5,110.7 479.0,109.4 478.4,108.1 477.9,106.8 477.4,105.5 476.9,104.3 476.4,103.1 476.0,102.0 475.7,101.0 475.4,100.0 475.1,99.2 474.9,98.3 474.7,97.5 474.5,96.7 474.2,95.9 474.0,95.0" fill="none" stroke="#231f20" stroke-width="1.0" stroke-linecap="round"/>
<path d="M486.0,93.0 485.8,91.7 485.5,90.5 485.2,89.2 485.0,87.9 484.8,86.6 484.5,85.4 484.2,84.2 484.0,83.0 483.8,81.9 483.5,80.9 483.2,79.9 483.0,78.9 482.8,77.9 482.5,77.0 482.2,76.0 482.0,75.0" fill="none" stroke="#231f20" stroke-width="1.0" stroke-linecap="round"/>
<path d="M485.0,104.0 485.6,103.2 486.3,102.5 486.9,101.8 487.6,101.0 488.2,100.2 488.8,99.5 489.4,98.8 490.0,98.0 490.5,97.2 491.1,96.5 491.6,95.8 492.1,95.0 492.5,94.2 493.0,93.5 493.5,92.8 494.0,92.0" fill="none" stroke="#231f20" stroke-width="1.0" stroke-linecap="round"/>
<path d="M483.2,270.4 482.9,271.9 482.6,273.3 482.3,274.8 481.9,276.2 481.6,277.7 481.3,279.1 481.0,280.6 480.7,282.0 480.4,283.5 480.0,284.9 479.7,286.4 479.4,287.9 479.0,289.3 478.7,290.8 478.3,292.2 478.0,293.6 477.7,295.1 477.4,296.5 477.0,297.9 476.7,299.3 476.3,300.7 476.0,302.2 475.5,303.6 474.5,305.0 474.5,305.0 473.8,303.4 473.7,301.9 473.6,300.4 473.7,298.9 473.8,297.4 473.9,295.9 474.2,294.4 474.5,292.9 474.7,291.4 475.0,290.0 475.3,288.5 475.6,287.1 475.9,285.6 476.2,284.2 476.4,282.7 476.7,281.2 476.9,279.8 477.2,278.3 477.5,276.9 477.7,275.4 478.0,273.9 478.3,272.5 478.5,271.0 478.8,269.6Z" fill="#e8eb3e" stroke="#231f20" stroke-width="1.0" stroke-linejoin="round"/>
<path d="M481.8,270.3 476.9,269.9 477.3,267.7 472.6,267.2 473.1,265.0 468.7,263.7 469.6,261.6 465.4,259.5 466.6,257.6 462.6,255.0 464.0,253.3 460.3,250.3 461.8,248.8 458.6,245.4 460.4,244.0 457.8,240.1 459.8,239.1 457.9,234.9 460.0,234.2 458.8,229.6 461.0,229.3 460.3,224.6 462.5,224.5 462.2,219.8 464.4,219.9 464.8,215.2 467.0,215.7 468.4,211.3 470.5,212.2 472.6,208.0 474.5,209.2 476.9,205.1 478.7,206.5 481.7,202.9 483.3,204.5 486.7,201.2 488.1,202.9 491.7,199.8 493.0,201.6 496.7,198.6 497.9,200.5 501.9,198.0 502.9,199.9 507.1,197.4 508.1,199.4 512.1,196.9 513.0,198.9 517.4,197.5 517.8,199.7 522.5,199.1 522.5,201.3 527.3,201.1 527.2,203.3 532.0,203.3 531.8,205.5 536.4,206.1 535.8,208.2 540.2,209.9 539.2,211.9 540.0,211.2 541.0,211.2 542.0,211.2 543.0,211.3 543.9,211.3 544.9,211.3 545.9,211.3 546.9,211.3 547.9,211.3 549.0,211.3 550.0,211.2 551.1,211.1 552.2,211.0 553.3,210.8 554.4,210.6 555.5,210.5 556.7,210.3 557.8,210.1 558.9,209.9 560.1,209.7 561.2,209.5 560.2,209.8 563.4,213.3 561.6,214.6 564.9,218.1 563.1,219.4 566.2,223.0 564.4,224.2 567.4,227.9 565.5,229.1 568.5,232.8 566.6,234.0 569.6,237.7 567.7,238.9 568.7,238.7 568.1,238.2 567.5,237.7 566.9,237.2 566.3,236.8 565.7,236.3 565.1,235.8 564.5,235.3 563.8,234.8 563.2,234.2 562.5,233.7 561.8,233.1 561.1,232.5 560.4,231.8 559.7,231.1 559.0,230.4 558.2,229.8 557.5,229.1 556.7,228.5 555.9,228.0 555.0,227.5 554.1,227.1 553.2,226.8 552.2,226.5 551.2,226.2 550.2,226.0 549.1,225.8 548.1,225.6 547.0,225.4 546.0,225.2 545.0,225.0 544.4,224.1 544.9,226.3 540.1,226.8 540.7,229.0 536.0,229.9 536.8,232.0 532.2,233.5 533.2,235.5 528.8,237.3 529.9,239.3 525.6,241.3 526.8,243.2 522.5,245.3 523.7,247.2 519.3,249.2 520.4,251.1 515.9,252.9 516.9,254.9 512.4,256.5 513.3,258.5 508.7,259.7 509.3,261.8 504.6,262.5 505.0,264.7 500.2,264.9 500.5,267.1 495.7,266.8 495.6,269.0 490.9,268.0 490.6,270.2 485.9,269.1 485.6,271.3 481.0,270.2Z" fill="#e8eb3e" stroke="#231f20" stroke-width="1.15" stroke-linejoin="round"/>
<path d="M481.0,270.0 482.0,267.5 482.9,265.0 483.9,262.5 484.8,260.0 485.8,257.5 486.8,255.0 487.9,252.5 489.0,250.0 490.2,247.5 491.5,245.1 492.8,242.6 494.2,240.2 495.6,237.7 497.0,235.2 498.5,232.6 500.0,230.0 501.5,227.3 503.1,224.5 504.7,221.6 506.4,218.7 508.0,215.8 509.7,212.8 511.4,209.9 513.0,207.0" fill="none" stroke="#231f20" stroke-width="1.15" stroke-linecap="round"/>
<path d="M478.0,262.0 477.2,260.3 476.4,258.5 475.6,256.8 474.8,255.1 474.0,253.4 473.3,251.6 472.6,249.8 472.0,248.0 471.5,246.1 471.0,244.1 470.7,242.1 470.3,240.1 470.0,238.1 469.7,236.0 469.4,234.0 469.0,232.0" fill="none" stroke="#231f20" stroke-width="1.0" stroke-linecap="round"/>
<path d="M487.0,254.0 487.1,252.0 487.2,250.0 487.3,247.9 487.4,245.9 487.6,243.9 487.7,241.9 487.8,239.9 488.0,238.0 488.2,236.2 488.4,234.4 488.7,232.6 488.9,230.9 489.2,229.2 489.5,227.5 489.7,225.7 490.0,224.0" fill="none" stroke="#231f20" stroke-width="1.0" stroke-linecap="round"/>
<path d="M489.0,250.0 491.0,248.1 492.8,246.3 494.7,244.5 496.6,242.6 498.5,240.8 500.5,238.9 502.7,237.0 505.0,235.0 507.5,233.0 510.3,230.9 513.1,228.8 516.1,226.6 519.1,224.5 522.1,222.3 525.1,220.1 528.0,218.0" fill="none" stroke="#231f20" stroke-width="1.0" stroke-linecap="round"/>
<path d="M500.0,230.0 500.5,228.5 501.0,227.0 501.5,225.4 501.9,223.9 502.4,222.4 502.9,220.9 503.5,219.4 504.0,218.0 504.6,216.7 505.2,215.4 505.8,214.1 506.4,212.9 507.1,211.7 507.7,210.5 508.4,209.2 509.0,208.0" fill="none" stroke="#231f20" stroke-width="1.0" stroke-linecap="round"/>
<path d="M494.0,246.0 495.4,245.6 496.8,245.3 498.1,245.0 499.5,244.6 500.9,244.3 502.2,243.9 503.6,243.5 505.0,243.0 506.4,242.5 507.8,241.9 509.1,241.3 510.5,240.6 511.9,240.0 513.2,239.3 514.6,238.6 516.0,238.0" fill="none" stroke="#231f20" stroke-width="1.0" stroke-linecap="round"/>
<path d="M540.0,211.5 540.6,212.3 541.3,213.1 542.0,214.0 542.7,214.8 543.3,215.6 544.0,216.4 544.5,217.2 545.0,218.0 545.4,218.8 545.7,219.5 546.0,220.3 546.2,221.0 546.4,221.8 546.6,222.5 546.8,223.3 547.0,224.0" fill="none" stroke="#231f20" stroke-width="1.0" stroke-linecap="round"/>
<path d="M458.7,350.1 459.6,351.1 460.6,352.2 461.6,353.4 462.6,354.7 463.4,356.1 464.1,357.5 464.8,358.8 465.5,360.2 466.1,361.5 466.7,362.9 467.3,364.3 467.9,365.6 468.4,367.0 469.0,368.4 469.6,369.8 470.1,371.2 470.7,372.6 471.2,374.0 471.7,375.4 472.2,376.8 472.7,378.1 473.2,379.5 473.7,380.9 474.2,382.3 474.6,383.7 474.9,385.1 475.2,386.6 475.2,388.2 474.5,390.0 474.5,390.0 472.8,389.1 471.8,387.8 471.1,386.5 470.4,385.2 469.9,383.8 469.4,382.4 468.9,381.0 468.5,379.6 468.1,378.1 467.6,376.7 467.2,375.3 466.7,373.9 466.3,372.6 465.8,371.2 465.3,369.8 464.8,368.4 464.3,367.1 463.8,365.7 463.3,364.3 462.7,362.9 462.2,361.6 461.6,360.3 461.1,358.9 460.5,357.7 459.8,356.5 459.1,355.4 458.2,354.3 457.3,353.2 456.3,351.9Z" fill="#f0b730" stroke="#231f20" stroke-width="1.0" stroke-linejoin="round"/>
<path d="M456.2,350.6 460.5,346.7 458.1,345.2 460.4,339.9 457.6,339.1 459.3,333.4 456.4,333.0 457.5,327.2 454.5,327.1 454.9,321.1 452.0,321.4 451.8,315.4 448.9,315.9 448.1,310.1 445.3,311.0 443.5,305.3 440.9,306.7 438.4,301.2 435.9,302.8 433.0,297.6 430.7,299.4 427.1,294.8 425.1,297.0 420.8,293.0 419.1,295.4 414.3,291.8 412.9,294.4 407.9,291.1 406.7,293.8 401.4,291.3 400.6,294.1 394.9,292.5 394.5,295.4 388.6,294.4 388.5,297.3 382.7,296.9 382.9,299.8 376.8,299.8 377.1,302.8 370.9,301.9 370.8,304.8 364.9,302.9 364.4,305.8 358.7,303.5 358.0,306.3 352.3,304.0 351.6,306.9 346.0,304.4 345.2,307.3 339.6,304.8 338.9,307.7 333.3,305.2 332.5,308.0 326.9,305.7 326.2,308.6 320.5,306.5 320.0,309.4 314.2,307.8 313.9,310.8 308.0,310.0 308.1,313.0 302.7,313.7 303.4,316.5 303.1,314.2 302.8,317.1 308.0,316.0 309.5,318.4 313.8,313.9 315.6,316.4 320.3,312.7 321.5,315.5 326.8,312.6 327.6,315.5 333.2,313.2 333.7,316.2 339.5,314.8 339.5,317.9 345.6,317.5 344.7,320.5 350.3,322.3 348.7,324.7 354.1,327.3 352.5,329.8 358.0,332.2 356.4,334.7 361.9,337.1 360.4,339.6 366.0,342.0 364.4,344.5 370.0,346.7 368.6,349.3 374.4,351.0 373.3,353.7 379.3,354.6 378.5,357.5 384.6,358.1 383.8,360.9 389.8,361.5 389.1,364.4 395.1,364.8 394.6,367.6 400.6,367.1 400.7,370.0 406.5,368.3 407.2,371.2 412.6,368.6 413.6,371.4 418.8,368.2 420.0,370.8 424.9,367.3 426.3,369.9 431.0,366.1 432.6,368.6 437.0,364.6 438.8,366.9 442.6,362.2 444.7,364.2 447.6,358.8 450.0,360.4 452.2,354.8 454.8,356.1 456.5,350.2Z" fill="#f0b730" stroke="#231f20" stroke-width="1.15" stroke-linejoin="round"/>
<path d="M457.5,351.0 455.4,349.0 453.4,347.0 451.5,345.0 449.5,343.1 447.5,341.1 445.3,339.1 442.8,337.0 440.0,335.0 436.8,332.9 433.3,330.7 429.4,328.4 425.5,326.1 421.4,323.9 417.4,321.8 413.6,319.8 410.0,318.0 406.6,316.4 403.1,314.9 399.7,313.5 396.4,312.2 393.3,311.1 390.3,310.0 387.5,309.0 385.0,308.0 382.8,307.1 380.9,306.4 379.2,305.8 377.8,305.2 376.3,304.7 375.0,304.1 373.5,303.6 372.0,303.0" fill="none" stroke="#231f20" stroke-width="1.15" stroke-linecap="round"/>
<path d="M440.0,336.0 440.3,334.2 440.7,332.5 441.1,330.8 441.4,329.0 441.8,327.2 442.0,325.5 442.1,323.8 442.0,322.0 441.7,320.2 441.2,318.5 440.6,316.8 439.9,315.0 439.2,313.2 438.4,311.5 437.7,309.8 437.0,308.0" fill="none" stroke="#231f20" stroke-width="1.0" stroke-linecap="round"/>
<path d="M425.0,326.0 424.7,324.2 424.4,322.5 424.2,320.7 423.9,318.9 423.6,317.1 423.2,315.4 422.7,313.7 422.0,312.0 421.1,310.4 420.0,308.9 418.8,307.4 417.4,305.9 416.1,304.4 414.7,303.0 413.3,301.5 412.0,300.0" fill="none" stroke="#231f20" stroke-width="1.0" stroke-linecap="round"/>
<path d="M410.0,318.0 409.8,316.7 409.6,315.5 409.4,314.2 409.2,312.9 409.0,311.6 408.8,310.4 408.4,309.2 408.0,308.0 407.4,306.9 406.8,305.9 406.0,304.9 405.2,303.9 404.4,302.9 403.6,302.0 402.8,301.0 402.0,300.0" fill="none" stroke="#231f20" stroke-width="1.0" stroke-linecap="round"/>
<path d="M445.0,340.0 443.8,340.8 442.7,341.5 441.6,342.3 440.4,343.1 439.3,343.9 438.0,344.6 436.6,345.3 435.0,346.0 433.2,346.6 431.2,347.1 429.1,347.6 426.9,348.1 424.7,348.6 422.4,349.0 420.2,349.5 418.0,350.0" fill="none" stroke="#231f20" stroke-width="1.0" stroke-linecap="round"/>
<path d="M430.0,330.0 428.6,331.0 427.2,332.1 425.9,333.2 424.5,334.3 423.1,335.4 421.6,336.4 419.9,337.2 418.0,338.0 415.9,338.6 413.6,339.1 411.1,339.5 408.5,339.8 405.9,340.1 403.2,340.4 400.6,340.7 398.0,341.0" fill="none" stroke="#231f20" stroke-width="1.0" stroke-linecap="round"/>
<path d="M415.0,321.0 413.2,321.9 411.4,322.9 409.6,323.9 407.8,324.9 406.0,325.9 404.1,326.7 402.1,327.5 400.0,328.0 397.7,328.3 395.4,328.5 392.9,328.5 390.3,328.4 387.7,328.3 385.1,328.2 382.5,328.0 380.0,328.0" fill="none" stroke="#231f20" stroke-width="1.0" stroke-linecap="round"/>
<path d="M396.0,312.0 394.0,312.5 392.1,313.2 390.2,313.8 388.2,314.4 386.3,315.0 384.3,315.5 382.2,315.8 380.0,316.0 377.7,316.0 375.3,315.7 372.8,315.4 370.2,314.9 367.7,314.4 365.1,313.9 362.5,313.4 360.0,313.0" fill="none" stroke="#231f20" stroke-width="1.0" stroke-linecap="round"/>
<path d="M508.2,424.0 507.2,425.2 506.2,426.4 505.2,427.5 504.2,428.7 503.2,429.8 502.3,431.0 501.3,432.2 500.3,433.3 499.4,434.5 498.5,435.7 497.5,436.9 496.6,438.1 495.7,439.3 494.8,440.5 493.9,441.7 493.0,442.9 492.1,444.1 491.2,445.3 490.4,446.5 489.5,447.7 488.7,448.8 487.7,449.9 486.5,451.0 485.1,451.9 482.5,452.0 482.5,452.0 481.6,449.6 481.8,447.9 482.4,446.4 483.1,445.0 484.0,443.7 484.9,442.4 485.9,441.2 486.9,440.0 488.0,438.8 489.0,437.7 490.0,436.5 491.0,435.4 492.1,434.2 493.1,433.1 494.1,432.0 495.2,430.8 496.3,429.7 497.3,428.6 498.4,427.5 499.5,426.4 500.6,425.3 501.6,424.2 502.7,423.1 503.8,422.1 504.8,421.0Z" fill="#f0b730" stroke="#231f20" stroke-width="1.0" stroke-linejoin="round"/>
<path d="M507.3,421.7 501.5,419.2 503.2,416.8 499.2,413.6 501.4,411.9 499.3,406.5 502.2,405.9 500.9,400.1 503.9,399.9 503.0,394.0 505.9,394.0 505.2,388.0 508.2,388.1 507.6,382.1 510.6,382.4 510.6,376.4 513.5,377.0 514.4,371.1 517.2,372.1 518.9,366.4 521.6,367.7 523.8,362.2 526.4,363.7 529.0,358.4 531.4,360.1 534.5,354.9 536.7,356.8 540.2,352.0 542.3,354.0 546.1,349.4 548.0,351.6 552.1,347.2 554.0,349.5 558.2,345.3 560.0,347.7 564.4,343.6 566.0,346.0 570.6,342.1 572.1,344.6 576.9,341.1 578.3,343.7 583.4,340.7 584.5,343.4 589.8,341.0 590.6,343.9 596.3,342.0 596.7,345.0 602.5,343.6 602.7,346.6 608.7,345.6 608.7,348.5 614.6,347.8 614.5,350.8 620.5,350.4 620.2,353.4 626.2,353.3 625.8,356.2 631.8,356.4 631.3,359.3 637.2,359.9 636.4,362.7 642.2,363.9 641.2,366.7 646.9,368.4 645.6,371.1 651.5,372.9 650.3,375.5 650.6,373.2 650.9,376.2 644.9,375.8 645.2,378.8 639.1,378.6 639.6,381.5 633.5,381.8 634.3,384.7 628.3,385.5 629.2,388.3 623.2,389.3 624.2,392.1 618.2,393.2 619.2,396.0 613.3,397.1 614.2,399.9 608.3,401.1 609.4,403.8 603.4,405.1 604.5,407.9 598.6,409.1 599.6,411.9 593.6,413.0 594.6,415.8 588.6,416.8 589.5,419.6 583.5,420.5 584.4,423.3 578.4,424.2 579.3,427.0 573.2,427.7 573.9,430.5 567.9,430.8 568.3,433.6 562.2,433.3 562.4,436.2 556.4,435.4 556.3,438.3 550.4,436.9 550.1,439.8 544.3,438.1 543.7,440.9 538.2,438.6 537.3,441.3 532.2,438.1 530.7,440.5 526.4,436.4 524.5,438.6 520.7,433.9 518.6,435.8 515.6,430.7 513.2,432.2 511.4,426.4 508.7,427.5 507.2,421.5Z" fill="#f0b730" stroke="#231f20" stroke-width="1.15" stroke-linejoin="round"/>
<path d="M506.2,422.0 507.9,420.0 509.6,417.9 511.3,415.8 513.0,413.7 514.7,411.6 516.5,409.6 518.2,407.8 520.0,406.0 521.7,404.4 523.4,403.0 525.1,401.6 526.8,400.4 528.6,399.1 530.5,397.8 532.6,396.5 535.0,395.0 537.6,393.4 540.4,391.6 543.4,389.7 546.6,387.8 549.8,386.0 553.2,384.2 556.6,382.5 560.0,381.0 563.5,379.6 567.1,378.4 570.8,377.2 574.6,376.1 578.4,375.1 582.2,374.2 586.1,373.3 590.0,372.5 593.9,371.8 597.9,371.2 601.9,370.7 605.9,370.3 609.9,369.9 614.0,369.5 618.0,369.1 622.0,368.7" fill="none" stroke="#231f20" stroke-width="1.15" stroke-linecap="round"/>
<path d="M512.0,412.0 512.0,410.7 512.0,409.5 511.9,408.2 511.9,406.9 511.9,405.7 511.9,404.4 511.9,403.2 512.0,402.0 512.2,400.8 512.4,399.7 512.6,398.6 512.9,397.4 513.2,396.3 513.5,395.2 513.7,394.1 514.0,393.0" fill="none" stroke="#231f20" stroke-width="1.0" stroke-linecap="round"/>
<path d="M524.0,400.0 524.5,397.5 524.9,395.0 525.3,392.4 525.7,389.9 526.1,387.4 526.6,384.9 527.3,382.4 528.0,380.0 528.9,377.7 529.9,375.4 531.0,373.1 532.2,370.9 533.4,368.7 534.6,366.5 535.8,364.2 537.0,362.0" fill="none" stroke="#231f20" stroke-width="1.0" stroke-linecap="round"/>
<path d="M540.0,384.0 540.8,382.2 541.5,380.4 542.2,378.6 543.0,376.8 543.8,375.0 544.5,373.2 545.2,371.6 546.0,370.0 546.8,368.6 547.5,367.2 548.2,366.0 549.0,364.8 549.8,363.6 550.5,362.4 551.2,361.2 552.0,360.0" fill="none" stroke="#231f20" stroke-width="1.0" stroke-linecap="round"/>
<path d="M557.0,382.0 558.2,379.8 559.4,377.7 560.5,375.4 561.6,373.2 562.8,371.1 564.1,369.0 565.5,366.9 567.0,365.0 568.7,363.2 570.6,361.5 572.6,359.8 574.6,358.2 576.7,356.7 578.9,355.2 581.0,353.6 583.0,352.0" fill="none" stroke="#231f20" stroke-width="1.0" stroke-linecap="round"/>
<path d="M516.0,416.0 517.5,417.0 518.9,418.0 520.4,419.1 521.8,420.1 523.3,421.1 524.8,422.1 526.4,423.1 528.0,424.0 529.7,424.8 531.5,425.6 533.4,426.4 535.3,427.1 537.2,427.8 539.2,428.5 541.1,429.3 543.0,430.0" fill="none" stroke="#231f20" stroke-width="1.0" stroke-linecap="round"/>
<path d="M523.0,408.0 524.8,408.9 526.7,409.8 528.4,410.8 530.2,411.8 532.1,412.7 534.0,413.5 535.9,414.3 538.0,415.0 540.2,415.6 542.5,416.0 544.8,416.4 547.2,416.8 549.7,417.1 552.2,417.3 554.6,417.7 557.0,418.0" fill="none" stroke="#231f20" stroke-width="1.0" stroke-linecap="round"/>
<path d="M537.0,396.0 539.2,396.8 541.3,397.6 543.4,398.4 545.6,399.2 547.7,400.0 550.0,400.8 552.4,401.4 555.0,402.0 557.8,402.4 560.8,402.8 563.9,403.0 567.1,403.2 570.3,403.4 573.6,403.6 576.8,403.8 580.0,404.0" fill="none" stroke="#231f20" stroke-width="1.0" stroke-linecap="round"/>
<path d="M558.0,384.0 560.1,384.8 562.2,385.6 564.4,386.4 566.5,387.2 568.6,388.0 570.8,388.7 572.9,389.4 575.0,390.0 577.1,390.5 579.2,391.0 581.4,391.3 583.5,391.7 585.6,392.0 587.8,392.3 589.9,392.6 592.0,393.0" fill="none" stroke="#231f20" stroke-width="1.0" stroke-linecap="round"/>
<path d="M578.0,376.0 580.1,376.7 582.3,377.3 584.5,378.1 586.6,378.8 588.8,379.4 590.9,380.0 593.0,380.6 595.0,381.0 597.0,381.3 598.9,381.5 600.8,381.7 602.6,381.8 604.5,381.8 606.3,381.8 608.1,381.9 610.0,382.0" fill="none" stroke="#231f20" stroke-width="1.0" stroke-linecap="round"/>
<path d="M459.7,496.4 460.8,497.3 462.0,498.1 463.2,499.0 464.4,500.0 465.6,501.0 466.8,502.2 467.8,503.4 468.7,504.6 469.7,505.9 470.5,507.1 471.4,508.4 472.1,509.7 472.9,511.1 473.6,512.5 474.3,513.9 474.9,515.3 475.5,516.8 476.0,518.2 476.4,519.7 476.8,521.1 477.0,522.6 476.9,524.2 476.0,526.0 476.0,526.0 474.1,525.0 473.3,523.7 472.6,522.4 472.1,521.0 471.6,519.6 471.2,518.2 470.8,516.9 470.3,515.6 469.8,514.3 469.2,512.9 468.6,511.7 467.9,510.4 467.2,509.2 466.5,507.9 465.8,506.8 464.9,505.6 464.1,504.5 463.2,503.5 462.2,502.5 461.1,501.6 460.0,500.6 458.9,499.7 457.7,498.6Z" fill="#f0b730" stroke="#231f20" stroke-width="1.0" stroke-linejoin="round"/>
<path d="M457.3,497.2 461.7,492.7 459.3,491.1 462.5,486.6 459.8,485.4 461.0,479.9 458.1,479.7 458.2,473.8 455.3,474.2 454.8,468.3 451.9,469.0 450.8,463.2 448.0,464.2 446.6,458.3 443.9,459.4 442.1,453.7 439.5,455.0 437.3,449.4 434.8,450.9 432.1,445.7 429.7,447.4 426.3,442.7 424.1,444.8 420.0,440.6 418.3,443.0 413.7,439.2 412.2,441.7 407.3,438.4 406.0,441.1 400.8,438.3 399.8,441.1 394.3,438.8 393.6,441.6 387.9,439.5 387.3,442.4 381.6,440.3 381.1,443.2 375.3,441.4 374.9,444.4 369.0,442.7 368.7,445.7 362.8,443.9 362.3,446.8 356.6,444.6 356.0,447.5 350.3,444.7 349.4,447.5 344.2,444.1 343.0,446.7 338.1,443.0 336.7,445.5 332.0,441.5 330.4,444.0 326.0,439.7 324.3,442.1 320.1,437.5 318.2,439.8 314.6,434.7 312.5,436.7 309.4,431.4 307.1,433.2 304.1,428.0 301.8,429.9 303.7,428.0 301.8,430.2 306.9,433.3 304.9,435.5 310.0,438.6 308.1,440.8 313.3,443.7 311.5,446.1 316.8,448.8 315.1,451.2 320.4,453.8 318.7,456.2 324.1,458.7 322.5,461.2 328.0,463.4 326.5,465.9 332.2,467.8 330.9,470.5 336.7,472.0 335.5,474.7 341.3,476.0 340.2,478.8 345.9,480.2 345.0,481.2 347.7,480.9 350.5,480.6 353.2,480.3 355.9,479.9 358.6,479.6 361.3,479.2 364.1,479.0 366.8,478.8 369.6,478.7 372.5,478.7 375.4,478.8 378.4,479.0 381.4,479.3 384.4,479.7 387.5,480.1 390.6,480.6 393.6,481.1 396.6,481.6 399.6,482.0 402.5,482.5 405.3,482.9 408.1,483.3 410.9,483.8 413.6,484.2 416.3,484.6 419.0,485.1 421.7,485.6 424.5,486.2 427.2,486.8 430.0,487.5 432.8,488.3 435.7,489.2 438.5,490.1 441.4,491.1 444.3,492.2 447.2,493.3 450.1,494.3 452.9,495.4 455.8,496.5 458.7,497.5Z" fill="#f0b730" stroke="#231f20" stroke-width="1.15" stroke-linejoin="round"/>
<path d="M357.8,480.9 357.9,478.9 362.4,479.3 362.4,477.3 366.9,477.7 367.0,475.7 371.5,476.1 371.6,474.1 376.0,474.7 376.2,472.7 380.7,473.4 380.9,471.4 385.3,472.3 385.6,470.2 390.0,471.0 390.2,468.9 394.7,469.4 394.7,467.4 399.2,467.7 399.2,465.7 403.7,466.2 403.8,464.2 408.3,464.9 408.6,463.0 412.9,464.5 413.6,462.6 417.6,464.8 418.5,463.1 422.0,466.0 423.3,464.5 426.2,467.9 427.8,466.7 430.2,470.5 431.9,469.4 433.9,473.5 435.7,472.5 437.6,476.6 439.4,475.7 441.1,479.8 442.9,479.0 444.5,483.2 446.3,482.5 447.7,486.8 449.6,486.1 450.9,490.4 452.8,489.7 454.1,494.0 456.0,493.3 457.3,497.6 458.0,497.0 455.2,496.0 452.4,495.0 449.6,494.0 446.8,493.0 444.0,492.0 441.2,491.0 438.4,490.0 435.6,489.1 432.8,488.3 430.0,487.5 427.2,486.8 424.5,486.2 421.8,485.6 419.1,485.1 416.4,484.6 413.7,484.2 410.9,483.8 408.2,483.4 405.3,482.9 402.5,482.5 399.5,482.0 396.4,481.6 393.2,481.1 390.0,480.6 386.7,480.2 383.5,479.8 380.5,479.4 377.6,479.1 374.9,478.9 372.5,478.7 370.4,478.6 368.5,478.6 366.9,478.7 365.4,478.9 364.1,479.0 362.8,479.2 361.5,479.4 360.3,479.7 358.9,479.8 357.5,480.0Z" fill="#f0b730" stroke="#231f20" stroke-width="1.15" stroke-linejoin="round"/>
<path d="M312.0,436.0 315.5,438.4 319.1,440.9 322.6,443.5 326.2,446.0 329.7,448.5 333.2,450.8 336.6,453.0 340.0,455.0 343.3,456.8 346.6,458.5 349.8,460.0 353.0,461.4 356.1,462.7 359.2,463.9 362.1,465.0 365.0,466.0 367.7,466.8 370.4,467.5 372.9,468.0 375.3,468.4 377.7,468.8 380.1,469.2 382.5,469.5 385.0,470.0" fill="none" stroke="#231f20" stroke-width="1.15" stroke-linecap="round"/>
<path d="M348.0,458.0 349.3,457.2 350.6,456.5 352.0,455.7 353.4,454.9 354.7,454.1 355.9,453.4 357.0,452.7 358.0,452.0 358.8,451.4 359.4,450.9 359.9,450.4 360.4,449.9 360.8,449.4 361.1,449.0 361.5,448.5 362.0,448.0" fill="none" stroke="#231f20" stroke-width="1.0" stroke-linecap="round"/>
<path d="M375.0,466.0 375.2,464.6 375.3,463.2 375.6,461.8 375.8,460.4 375.9,459.0 376.0,457.6 376.1,456.3 376.0,455.0 375.8,453.8 375.5,452.6 375.2,451.5 374.8,450.4 374.3,449.3 373.8,448.2 373.4,447.1 373.0,446.0" fill="none" stroke="#231f20" stroke-width="1.0" stroke-linecap="round"/>
<path d="M392.0,462.0 392.0,460.8 392.1,459.5 392.1,458.2 392.2,457.0 392.2,455.8 392.2,454.5 392.1,453.2 392.0,452.0 391.8,450.8 391.5,449.5 391.1,448.2 390.7,447.0 390.3,445.8 389.8,444.5 389.4,443.2 389.0,442.0" fill="none" stroke="#231f20" stroke-width="1.0" stroke-linecap="round"/>
<path d="M407.0,460.0 407.0,458.7 407.1,457.5 407.1,456.2 407.2,454.9 407.2,453.7 407.2,452.4 407.1,451.2 407.0,450.0 406.8,448.8 406.5,447.7 406.1,446.6 405.7,445.4 405.3,444.3 404.8,443.2 404.4,442.1 404.0,441.0" fill="none" stroke="#231f20" stroke-width="1.0" stroke-linecap="round"/>
<path d="M425.0,463.0 424.8,461.6 424.6,460.2 424.4,458.7 424.2,457.3 424.0,455.9 423.7,454.5 423.4,453.2 423.0,452.0 422.5,450.9 422.0,449.8 421.3,448.8 420.7,447.8 420.0,446.9 419.3,445.9 418.6,445.0 418.0,444.0" fill="none" stroke="#231f20" stroke-width="1.0" stroke-linecap="round"/>
<path d="M440.0,474.0 439.5,472.5 439.0,471.0 438.5,469.4 438.1,467.9 437.6,466.4 437.1,464.9 436.5,463.4 436.0,462.0 435.4,460.7 434.8,459.4 434.2,458.1 433.6,456.9 432.9,455.7 432.3,454.5 431.6,453.2 431.0,452.0" fill="none" stroke="#231f20" stroke-width="1.0" stroke-linecap="round"/>
<path d="M336.0,452.0 337.1,453.8 338.3,455.7 339.5,457.7 340.6,459.6 341.8,461.5 342.9,463.2 344.0,464.7 345.0,466.0 346.0,467.0 346.9,467.7 347.8,468.2 348.6,468.6 349.5,468.9 350.3,469.2 351.1,469.6 352.0,470.0" fill="none" stroke="#231f20" stroke-width="1.0" stroke-linecap="round"/>
<path d="M395.0,478.0 398.0,482.0" fill="none" stroke="#231f20" stroke-width="1.0" stroke-linecap="round"/>
<path d="M412.0,470.0 412.5,471.0 413.0,472.0 413.5,473.0 414.0,474.1 414.5,475.1 415.0,476.1 415.5,477.0 416.0,478.0 416.5,478.9 417.0,479.8 417.5,480.7 418.0,481.6 418.5,482.4 419.0,483.3 419.5,484.1 420.0,485.0" fill="none" stroke="#231f20" stroke-width="1.0" stroke-linecap="round"/>
<path d="M428.0,472.0 428.6,473.1 429.3,474.3 430.0,475.5 430.6,476.6 431.3,477.8 431.9,478.9 432.5,480.0 433.0,481.0 433.5,482.0 433.9,482.9 434.3,483.8 434.6,484.6 435.0,485.5 435.3,486.3 435.6,487.1 436.0,488.0" fill="none" stroke="#231f20" stroke-width="1.0" stroke-linecap="round"/>
<path d="M505.0,630.8 504.2,632.1 503.4,633.4 502.6,634.7 501.8,636.0 501.1,637.3 500.3,638.6 499.5,639.9 498.8,641.2 498.0,642.5 497.2,643.8 496.5,645.1 495.6,646.4 494.5,647.5 492.5,648.0 492.5,648.0 492.1,646.0 492.5,644.5 493.2,643.1 494.1,641.9 494.9,640.6 495.7,639.3 496.5,638.0 497.4,636.8 498.2,635.5 499.1,634.2 499.9,633.0 500.7,631.7 501.6,630.5 502.4,629.2Z" fill="#eed634" stroke="#231f20" stroke-width="1.0" stroke-linejoin="round"/>
<path d="M504.7,629.8 501.6,626.0 503.5,624.7 500.6,620.9 502.5,619.9 500.9,615.6 503.1,615.0 501.8,610.3 504.0,609.9 502.7,605.2 504.9,604.8 503.7,600.2 505.9,599.8 505.1,595.1 507.3,595.0 506.8,590.1 509.0,590.1 508.7,585.4 511.0,585.4 511.2,580.7 513.4,581.1 514.6,576.6 516.7,577.4 518.5,573.0 520.5,574.1 522.9,570.0 524.7,571.3 527.4,567.3 529.1,568.8 532.2,565.1 533.7,566.7 537.0,563.1 538.5,564.8 541.9,561.4 543.3,563.1 546.9,560.0 548.2,561.8 552.1,559.1 553.2,561.0 557.4,558.8 558.2,560.9 562.7,559.4 563.1,561.6 567.8,560.7 568.0,563.0 572.8,562.4 572.8,564.7 577.6,564.4 577.5,566.7 582.4,566.5 582.2,568.8 587.1,568.7 586.9,570.9 591.8,570.9 591.6,573.1 596.4,573.2 596.1,575.5 600.9,575.8 600.6,578.0 605.4,578.4 605.0,580.6 609.9,581.0 609.5,583.2 614.4,583.5 614.1,585.7 619.0,585.7 618.8,587.9 623.7,587.6 623.7,589.9 628.5,589.4 628.5,591.6 633.3,591.2 633.3,593.5 633.1,591.7 633.7,593.8 628.8,594.9 629.4,597.0 624.6,598.1 625.2,600.3 620.3,601.3 620.9,603.5 616.0,604.3 616.4,606.5 611.5,607.1 611.9,609.3 606.9,609.8 607.2,612.0 602.2,612.2 602.4,614.4 597.4,614.3 597.4,616.5 592.5,615.7 592.1,617.9 587.3,616.5 586.7,618.6 582.0,616.7 581.2,618.8 576.8,616.6 575.9,618.5 571.7,615.9 570.4,617.6 567.0,613.8 565.4,615.3 562.2,611.5 560.5,613.0 557.5,609.1 557.0,610.0 557.8,610.7 558.6,611.5 559.3,612.3 560.1,613.1 560.9,613.9 561.7,614.6 562.5,615.3 563.3,616.0 564.1,616.5 565.0,617.0 566.1,617.3 567.4,617.6 568.9,617.7 570.4,617.8 571.9,617.8 573.2,617.8 574.3,617.8 575.0,617.8 575.3,617.9 575.0,618.0 574.1,618.2 572.7,618.3 570.9,618.5 568.7,618.7 566.2,618.9 563.6,619.1 560.8,619.3 558.0,619.6 555.2,619.8 552.5,620.0 549.8,620.2 546.8,620.4 543.7,620.6 540.5,620.7 537.3,620.9 534.1,621.1 530.9,621.4 527.9,621.7 525.1,622.0 522.5,622.5 520.2,623.0 518.0,623.7 516.0,624.4 514.2,625.1 512.4,625.9 510.7,626.8 509.0,627.6 507.3,628.4 505.5,629.2 503.7,630.0Z" fill="#eed634" stroke="#231f20" stroke-width="1.15" stroke-linejoin="round"/>
<path d="M504.1,619.6 503.4,617.8 507.4,616.2 506.6,614.5 510.7,613.1 510.2,611.3 514.5,610.6 514.3,608.7 518.7,608.6 518.7,606.7 523.0,607.1 523.3,605.3 527.4,606.7 528.2,604.9 532.0,607.1 533.0,605.4 536.8,607.4 537.5,605.6 541.5,607.3 542.2,605.5 546.1,607.6 547.0,606.0 550.4,608.8 551.7,607.5 554.4,611.0 556.0,609.8 558.6,613.3 560.0,612.0 562.9,615.3 564.3,613.9 567.3,617.1 568.6,615.7 571.7,618.8 572.0,618.0 570.1,618.2 568.3,618.4 566.5,618.6 564.7,618.8 562.9,619.0 561.1,619.2 559.1,619.4 557.1,619.6 554.9,619.8 552.5,620.0 549.9,620.2 547.0,620.4 543.9,620.6 540.7,620.7 537.5,620.9 534.2,621.1 531.0,621.4 528.0,621.7 525.1,622.0 522.5,622.5 520.1,623.1 517.7,624.0 515.5,625.0 513.3,626.0 511.2,627.1 509.3,628.1 507.6,629.0 506.1,629.6 504.8,630.0 503.7,630.0 502.9,629.6 502.5,629.0 502.3,628.1 502.3,626.9 502.4,625.7 502.7,624.3 503.0,622.9 503.2,621.5 503.4,620.2 503.5,619.0Z" fill="#eed634" stroke="#231f20" stroke-width="1.15" stroke-linejoin="round"/>
<path d="M504.0,628.0 506.0,625.9 508.0,623.8 509.9,621.6 511.9,619.4 513.9,617.3 515.9,615.3 517.9,613.5 520.0,612.0 522.1,610.7 524.3,609.7 526.4,608.8 528.6,608.1 530.9,607.5 533.2,607.0 535.5,606.5 538.0,606.0 540.5,605.6 543.0,605.2 545.6,605.0 548.2,604.8 551.0,604.6 553.8,604.4 556.8,604.2 560.0,604.0 563.4,603.8 566.9,603.6 570.7,603.4 574.5,603.2 578.4,603.0 582.3,602.8 586.2,602.4 590.0,602.0 593.8,601.4 597.5,600.8 601.2,600.0 605.0,599.2 608.8,598.4 612.5,597.6 616.2,596.8 620.0,596.0" fill="none" stroke="#231f20" stroke-width="1.15" stroke-linecap="round"/>
<path d="M521.0,608.0 520.8,606.0 520.6,604.0 520.4,601.9 520.2,599.9 520.0,597.9 519.9,595.9 519.9,593.9 520.0,592.0 520.3,590.2 520.6,588.4 521.1,586.6 521.7,584.9 522.3,583.2 522.9,581.5 523.5,579.7 524.0,578.0" fill="none" stroke="#231f20" stroke-width="1.0" stroke-linecap="round"/>
<path d="M540.0,605.0 540.3,602.9 540.6,600.7 540.9,598.6 541.2,596.4 541.5,594.3 541.9,592.2 542.4,590.1 543.0,588.0 543.8,586.0 544.6,583.9 545.6,581.9 546.7,579.9 547.8,578.0 548.9,576.0 550.0,574.0 551.0,572.0" fill="none" stroke="#231f20" stroke-width="1.0" stroke-linecap="round"/>
<path d="M558.0,603.0 558.8,601.1 559.6,599.2 560.4,597.3 561.2,595.4 562.0,593.5 562.9,591.6 563.9,589.8 565.0,588.0 566.3,586.3 567.6,584.6 569.1,583.0 570.7,581.4 572.3,579.8 573.9,578.2 575.5,576.6 577.0,575.0" fill="none" stroke="#231f20" stroke-width="1.0" stroke-linecap="round"/>
<path d="M578.0,603.0 578.7,602.1 579.5,601.2 580.2,600.3 580.9,599.4 581.6,598.6 582.4,597.7 583.2,596.8 584.0,596.0 584.9,595.2 585.9,594.4 586.9,593.7 587.9,592.9 588.9,592.2 590.0,591.5 591.0,590.7 592.0,590.0" fill="none" stroke="#231f20" stroke-width="1.0" stroke-linecap="round"/>
<path d="M596.0,601.0 596.6,600.4 597.2,599.7 597.8,599.1 598.4,598.4 599.1,597.8 599.7,597.2 600.3,596.6 601.0,596.0 601.7,595.5 602.4,594.9 603.2,594.4 603.9,593.9 604.7,593.5 605.5,593.0 606.2,592.5 607.0,592.0" fill="none" stroke="#231f20" stroke-width="1.0" stroke-linecap="round"/>
<path d="M575.0,604.0 576.0,604.4 577.0,604.8 577.9,605.2 578.9,605.6 579.9,606.0 580.9,606.4 581.9,606.7 583.0,607.0 584.2,607.2 585.4,607.4 586.6,607.5 587.9,607.6 589.2,607.7 590.5,607.8 591.7,607.9 593.0,608.0" fill="none" stroke="#231f20" stroke-width="1.0" stroke-linecap="round"/>
<path d="M518.0,622.0 518.8,621.0 519.5,619.9 520.2,618.9 521.0,617.8 521.8,616.8 522.5,615.8 523.2,614.9 524.0,614.0 524.8,613.2 525.5,612.5 526.2,611.9 527.0,611.3 527.8,610.7 528.5,610.2 529.2,609.6 530.0,609.0" fill="none" stroke="#231f20" stroke-width="1.0" stroke-linecap="round"/>
<path d="M532.0,621.0 532.7,620.1 533.5,619.2 534.2,618.3 534.9,617.4 535.7,616.5 536.4,615.6 537.2,614.8 538.0,614.0 538.8,613.3 539.7,612.6 540.6,612.0 541.4,611.4 542.3,610.8 543.2,610.2 544.1,609.6 545.0,609.0" fill="none" stroke="#231f20" stroke-width="1.0" stroke-linecap="round"/>
<path d="M434.7,711.9 436.0,712.6 437.3,713.4 438.6,714.1 439.9,714.8 441.2,715.6 442.5,716.3 443.8,717.1 445.1,717.9 446.3,718.6 447.6,719.4 448.9,720.2 450.2,721.0 451.5,721.7 452.8,722.5 454.0,723.3 455.3,724.1 456.4,725.1 457.0,727.0 457.0,727.0 455.0,727.3 453.6,726.7 452.4,725.9 451.1,725.1 449.9,724.3 448.6,723.5 447.3,722.7 446.1,721.9 444.8,721.1 443.6,720.3 442.3,719.5 441.0,718.7 439.8,718.0 438.5,717.2 437.2,716.4 435.9,715.7 434.6,714.9 433.3,714.1Z" fill="#eed634" stroke="#231f20" stroke-width="1.0" stroke-linejoin="round"/>
<path d="M432.8,713.5 435.7,710.0 434.0,708.8 436.8,705.3 435.1,704.2 437.1,700.4 435.2,699.6 436.6,695.4 434.7,694.9 436.0,690.6 434.1,690.1 435.0,690.0 434.3,689.8 433.7,689.7 433.1,689.5 432.5,689.3 431.9,689.1 431.2,688.9 430.5,688.8 429.6,688.7 428.7,688.6 427.5,688.7 426.2,688.8 424.6,689.0 423.0,689.3 421.2,689.6 419.4,689.9 417.5,690.3 415.6,690.7 413.7,691.1 411.8,691.6 410.0,692.0 408.2,692.5 406.5,692.9 404.8,693.4 403.0,693.9 401.2,694.5 399.5,695.1 397.8,695.6 396.0,696.2 394.2,696.9 392.5,697.5 390.7,698.2 389.0,698.9 387.2,699.7 385.4,700.5 383.6,701.3 381.8,702.1 380.1,702.9 378.3,703.6 376.6,704.3 375.0,705.0 373.4,705.6 371.8,706.3 370.3,706.9 368.8,707.6 367.3,708.2 365.9,708.7 364.4,709.2 363.0,709.6 361.5,709.8 360.0,710.0 358.5,710.0 357.0,709.9 355.5,709.7 353.9,709.3 352.4,708.9 350.9,708.5 349.4,708.1 347.9,707.7 346.5,707.3 345.0,707.0 343.6,706.8 342.2,706.5 340.8,706.3 339.4,706.1 338.0,705.9 336.7,705.8 335.3,705.6 333.9,705.4 332.6,705.2 331.2,705.0 332.1,705.0 330.3,709.0 332.2,709.7 330.3,713.7 332.2,714.4 330.5,718.4 332.4,719.0 330.9,723.1 332.8,723.6 331.4,727.8 333.4,728.3 332.0,732.5 334.0,733.0 332.5,737.2 334.5,737.7 332.8,741.8 334.7,742.4 332.9,746.4 334.8,747.1 332.9,751.1 334.8,751.8 332.8,755.8 334.7,756.5 332.8,760.5 334.6,761.2 333.1,760.4 334.8,761.5 336.9,757.6 338.6,758.6 340.6,754.7 342.4,755.8 344.4,751.8 346.1,752.9 348.2,748.9 349.9,750.0 352.0,746.1 353.7,747.2 355.8,743.3 357.5,744.4 359.6,740.5 361.3,741.6 363.4,737.7 365.1,738.8 367.3,735.0 369.0,736.1 371.2,732.2 372.9,733.4 375.1,729.6 376.8,730.7 379.1,726.9 380.7,728.1 383.0,724.3 384.7,725.5 387.0,721.7 387.7,721.6 387.9,723.6 392.2,722.9 392.3,724.9 396.6,724.2 396.9,726.2 401.0,725.1 401.5,727.0 405.6,725.5 406.2,727.4 410.2,725.6 410.9,727.5 414.7,725.3 415.6,727.1 419.0,724.3 420.3,725.8 422.9,722.3 424.5,723.4 426.3,719.4 428.1,720.3 429.6,716.2 431.5,717.0 433.1,713.0Z" fill="#eed634" stroke="#231f20" stroke-width="1.15" stroke-linejoin="round"/>
<path d="M388.2,723.1 389.3,719.0 391.1,719.7 392.2,715.6 394.0,716.3 395.3,712.4 397.1,713.2 398.9,709.5 400.5,710.5 402.8,707.0 404.3,708.2 406.7,704.7 408.2,705.9 410.5,702.3 412.0,703.5 414.2,699.8 415.7,700.9 417.9,697.3 419.4,698.4 421.6,694.9 423.2,696.0 425.5,692.6 427.0,693.8 429.7,690.7 431.0,692.2 434.1,689.3 435.3,690.9 435.0,690.0 435.1,691.3 435.3,692.5 435.5,693.8 435.7,695.1 435.8,696.3 436.0,697.6 436.1,698.8 436.2,700.1 436.2,701.3 436.2,702.5 436.2,703.7 436.1,704.8 436.1,706.0 436.0,707.1 435.9,708.2 435.7,709.3 435.4,710.4 435.0,711.5 434.4,712.6 433.7,713.7 432.8,714.9 431.7,716.1 430.5,717.4 429.2,718.7 427.8,720.0 426.3,721.2 424.7,722.3 423.2,723.4 421.6,724.3 420.0,725.0 418.4,725.6 416.7,726.0 415.0,726.3 413.2,726.4 411.3,726.5 409.5,726.6 407.7,726.5 405.9,726.4 404.2,726.3 402.5,726.2 400.9,726.0 399.3,725.8 397.8,725.5 396.3,725.1 394.8,724.7 393.4,724.2 391.9,723.8 390.5,723.3 389.0,722.9 387.5,722.5Z" fill="#eed634" stroke="#231f20" stroke-width="1.15" stroke-linejoin="round"/>
<path d="M434.0,713.0 432.3,712.4 430.5,711.7 428.8,711.0 427.1,710.3 425.3,709.7 423.6,709.0 421.8,708.5 420.0,708.0 418.1,707.6 416.2,707.2 414.2,706.9 412.2,706.6 410.3,706.4 408.4,706.2 406.6,706.1 405.0,706.0 403.5,706.0 402.1,706.0 400.9,706.2 399.7,706.3 398.5,706.5 397.4,706.7 396.2,706.9 395.0,707.0" fill="none" stroke="#231f20" stroke-width="1.15" stroke-linecap="round"/>
<path d="M424.0,709.0 424.1,708.1 424.3,707.2 424.5,706.3 424.6,705.4 424.8,704.6 424.9,703.7 425.0,702.8 425.0,702.0 425.0,701.2 424.9,700.4 424.8,699.7 424.6,698.9 424.5,698.2 424.3,697.5 424.1,696.7 424.0,696.0" fill="none" stroke="#231f20" stroke-width="1.0" stroke-linecap="round"/>
<path d="M420.0,712.0 418.8,712.5 417.5,713.0 416.3,713.6 415.1,714.1 413.9,714.6 412.6,715.1 411.3,715.6 410.0,716.0 408.6,716.3 407.1,716.6 405.6,716.9 404.1,717.1 402.6,717.3 401.0,717.5 399.5,717.8 398.0,718.0" fill="none" stroke="#231f20" stroke-width="1.0" stroke-linecap="round"/>
<path d="M332.0,707.0 333.6,707.1 335.2,707.2 336.9,707.3 338.5,707.4 340.1,707.5 341.8,707.6 343.4,707.8 345.0,708.0 346.7,708.3 348.5,708.7 350.3,709.1 352.1,709.5 353.8,709.9 355.4,710.3 356.8,710.7 358.0,711.0 358.9,711.2 359.6,711.4 360.2,711.5 360.6,711.6 360.9,711.7 361.2,711.8 361.6,711.9 362.0,712.0" fill="none" stroke="#231f20" stroke-width="1.15" stroke-linecap="round"/>
<path d="M360.0,711.0 359.0,712.8 357.9,714.5 356.9,716.3 355.8,718.1 354.8,719.8 353.8,721.6 352.9,723.3 352.0,725.0 351.2,726.7 350.5,728.3 349.9,729.9 349.3,731.6 348.7,733.2 348.2,734.8 347.6,736.4 347.0,738.0" fill="none" stroke="#231f20" stroke-width="1.0" stroke-linecap="round"/>
<path d="M357.0,712.0 355.5,712.2 353.9,712.5 352.3,712.8 350.7,713.0 349.1,713.2 347.6,713.5 346.3,713.8 345.0,714.0 343.9,714.2 342.9,714.5 342.0,714.8 341.2,715.0 340.4,715.2 339.6,715.5 338.8,715.8 338.0,716.0" fill="none" stroke="#231f20" stroke-width="1.0" stroke-linecap="round"/>
<path d="M362.0,712.0 363.0,712.4 364.1,712.7 365.1,713.0 366.2,713.3 367.2,713.7 368.2,714.0 369.1,714.5 370.0,715.0 370.8,715.6 371.5,716.3 372.1,717.0 372.7,717.8 373.3,718.6 373.8,719.4 374.4,720.2 375.0,721.0" fill="none" stroke="#231f20" stroke-width="1.0" stroke-linecap="round"/>
<path d="M372.0,708.0 373.3,708.5 374.6,709.0 375.9,709.5 377.2,710.0 378.5,710.5 379.8,711.0 380.9,711.5 382.0,712.0 382.9,712.5 383.8,713.0 384.5,713.5 385.2,714.0 385.9,714.5 386.6,715.0 387.3,715.5 388.0,716.0" fill="none" stroke="#231f20" stroke-width="1.0" stroke-linecap="round"/>
<path d="M386.0,700.0 386.8,700.2 387.5,700.5 388.3,700.8 389.1,701.0 389.9,701.2 390.6,701.5 391.3,701.8 392.0,702.0 392.6,702.2 393.1,702.5 393.6,702.8 394.1,703.0 394.6,703.2 395.0,703.5 395.5,703.8 396.0,704.0" fill="none" stroke="#231f20" stroke-width="1.0" stroke-linecap="round"/>
<ellipse cx="817.5" cy="843.8" rx="141" ry="155.5" fill="#f26b24" stroke="#231f20" stroke-width="1"/>
<path d="M808.1,686.4 810.4,686.3 812.7,686.2 814.9,686.1 817.2,686.1 819.5,686.1 821.8,686.2 824.1,686.3 826.4,686.4 828.7,686.6 831.0,686.8" fill="none" stroke="#231f20" stroke-width="11.0" stroke-linecap="round"/>
<path d="M840.6,688.2 842.7,688.6 844.7,689.0 846.8,689.4 848.8,689.9 850.9,690.5 852.9,691.0 854.9,691.6 857.0,692.2 859.0,692.9 861.0,693.6" fill="none" stroke="#231f20" stroke-width="11.0" stroke-linecap="round"/>
<path d="M870.1,697.2 872.6,698.3 875.0,699.4 877.5,700.6 879.9,701.9 882.3,703.2 884.7,704.6 887.0,706.0 889.3,707.4 891.6,708.9 893.9,710.5" fill="none" stroke="#231f20" stroke-width="11.0" stroke-linecap="round"/>
<path d="M901.9,716.5 903.5,717.8 905.1,719.2 906.7,720.6 908.3,721.9 909.8,723.4 911.3,724.8 912.8,726.3 914.3,727.7 915.8,729.2 917.2,730.8" fill="none" stroke="#231f20" stroke-width="11.0" stroke-linecap="round"/>
<path d="M924.0,738.5 925.6,740.6 927.3,742.7 928.9,744.9 930.5,747.1 932.0,749.3 933.5,751.6 935.0,753.9 936.4,756.2 937.8,758.5 939.1,760.9" fill="none" stroke="#231f20" stroke-width="11.0" stroke-linecap="round"/>
<path d="M944.0,770.2 945.0,772.5 946.1,774.8 947.1,777.1 948.1,779.5 949.0,781.9 949.9,784.2 950.8,786.6 951.6,789.1 952.4,791.5 953.2,793.9" fill="none" stroke="#231f20" stroke-width="11.0" stroke-linecap="round"/>
<path d="M955.9,804.2 956.4,806.3 956.9,808.5 957.3,810.6 957.7,812.7 958.1,814.9 958.4,817.1 958.8,819.2 959.0,821.4 959.3,823.5 959.6,825.7" fill="none" stroke="#231f20" stroke-width="11.0" stroke-linecap="round"/>
<path d="M960.3,836.4 960.4,839.2 960.5,841.9 960.5,844.7 960.5,847.5 960.4,850.2 960.3,853.0 960.1,855.7 959.9,858.5 959.6,861.2 959.3,864.0" fill="none" stroke="#231f20" stroke-width="11.0" stroke-linecap="round"/>
<path d="M957.8,874.6 957.4,876.7 956.9,878.8 956.5,880.9 956.0,883.0 955.5,885.1 955.0,887.2 954.4,889.3 953.9,891.3 953.2,893.4 952.6,895.4" fill="none" stroke="#231f20" stroke-width="11.0" stroke-linecap="round"/>
<path d="M949.1,905.4 948.2,907.9 947.2,910.3 946.1,912.7 945.0,915.1 943.9,917.5 942.8,919.8 941.6,922.2 940.4,924.5 939.1,926.8 937.8,929.0" fill="none" stroke="#231f20" stroke-width="11.0" stroke-linecap="round"/>
<path d="M932.3,937.8 931.1,939.6 929.9,941.3 928.6,943.1 927.4,944.8 926.1,946.4 924.7,948.1 923.4,949.8 922.1,951.4 920.7,953.0 919.3,954.6" fill="none" stroke="#231f20" stroke-width="11.0" stroke-linecap="round"/>
<path d="M912.2,961.9 910.7,963.4 909.2,964.8 907.6,966.3 906.0,967.7 904.4,969.0 902.8,970.4 901.2,971.7 899.5,973.0 897.9,974.2 896.2,975.5" fill="none" stroke="#231f20" stroke-width="11.0" stroke-linecap="round"/>
<path d="M887.9,981.1 885.8,982.4 883.6,983.6 881.5,984.8 879.3,986.0 877.2,987.1 875.0,988.2 872.7,989.3 870.5,990.3 868.3,991.2 866.0,992.2" fill="none" stroke="#231f20" stroke-width="11.0" stroke-linecap="round"/>
<path d="M856.7,995.4 854.0,996.3 851.2,997.1 848.4,997.8 845.6,998.4 842.7,999.0 839.9,999.6 837.1,1000.0 834.2,1000.4 831.4,1000.8 828.5,1001.0" fill="none" stroke="#231f20" stroke-width="11.0" stroke-linecap="round"/>
<path d="M818.8,1001.5 816.7,1001.5 814.7,1001.5 812.6,1001.4 810.5,1001.3 808.5,1001.2 806.4,1001.0 804.4,1000.8 802.3,1000.6 800.3,1000.3 798.2,1000.1" fill="none" stroke="#231f20" stroke-width="11.0" stroke-linecap="round"/>
<path d="M788.6,998.3 786.5,997.8 784.4,997.2 782.3,996.6 780.2,996.0 778.1,995.4 776.0,994.7 773.9,994.0 771.8,993.2 769.8,992.5 767.7,991.6" fill="none" stroke="#231f20" stroke-width="11.0" stroke-linecap="round"/>
<path d="M758.7,987.6 756.3,986.3 754.0,985.1 751.6,983.8 749.3,982.4 746.9,981.0 744.7,979.5 742.4,978.0 740.2,976.4 737.9,974.8 735.8,973.2" fill="none" stroke="#231f20" stroke-width="11.0" stroke-linecap="round"/>
<path d="M728.0,966.8 725.6,964.7 723.4,962.5 721.1,960.3 718.9,958.0 716.7,955.7 714.6,953.3 712.6,950.9 710.5,948.5 708.5,945.9 706.6,943.4" fill="none" stroke="#231f20" stroke-width="11.0" stroke-linecap="round"/>
<path d="M700.7,934.8 699.3,932.5 697.8,930.1 696.4,927.7 695.1,925.3 693.8,922.8 692.5,920.4 691.3,917.9 690.1,915.3 688.9,912.8 687.8,910.2" fill="none" stroke="#231f20" stroke-width="11.0" stroke-linecap="round"/>
<path d="M684.0,900.3 683.2,897.9 682.4,895.4 681.6,892.9 680.9,890.4 680.2,887.9 679.6,885.4 679.0,882.8 678.4,880.3 677.9,877.7 677.4,875.2" fill="none" stroke="#231f20" stroke-width="11.0" stroke-linecap="round"/>
<path d="M675.8,864.6 675.4,861.3 675.1,857.9 674.8,854.6 674.7,851.2 674.5,847.9 674.5,844.5 674.5,841.1 674.6,837.8 674.8,834.4 675.0,831.1" fill="none" stroke="#231f20" stroke-width="11.0" stroke-linecap="round"/>
<path d="M676.1,820.4 676.4,818.3 676.7,816.1 677.1,814.0 677.5,811.8 677.9,809.7 678.3,807.6 678.8,805.5 679.3,803.4 679.8,801.3 680.3,799.2" fill="none" stroke="#231f20" stroke-width="11.0" stroke-linecap="round"/>
<path d="M683.4,789.0 684.4,786.0 685.5,783.0 686.7,780.1 687.9,777.2 689.2,774.3 690.5,771.4 691.8,768.6 693.2,765.8 694.7,763.0 696.2,760.2" fill="none" stroke="#231f20" stroke-width="11.0" stroke-linecap="round"/>
<path d="M701.7,751.3 703.0,749.3 704.4,747.4 705.7,745.4 707.2,743.5 708.6,741.6 710.1,739.7 711.6,737.8 713.1,736.0 714.7,734.2 716.2,732.4" fill="none" stroke="#231f20" stroke-width="11.0" stroke-linecap="round"/>
<path d="M723.3,725.1 724.9,723.6 726.5,722.1 728.1,720.7 729.8,719.3 731.4,717.9 733.1,716.5 734.8,715.1 736.5,713.8 738.2,712.5 740.0,711.3" fill="none" stroke="#231f20" stroke-width="11.0" stroke-linecap="round"/>
<path d="M748.3,705.8 750.1,704.7 752.0,703.6 753.8,702.6 755.6,701.6 757.5,700.7 759.4,699.7 761.3,698.8 763.1,697.9 765.1,697.1 767.0,696.3" fill="none" stroke="#231f20" stroke-width="11.0" stroke-linecap="round"/>
<path d="M776.2,692.8 778.4,692.1 780.6,691.5 782.8,690.8 785.0,690.2 787.2,689.7 789.4,689.2 791.7,688.7 793.9,688.3 796.1,687.9 798.4,687.5" fill="none" stroke="#231f20" stroke-width="11.0" stroke-linecap="round"/>
<path d="M808.1,686.4 810.4,686.3 812.7,686.2 814.9,686.1 817.2,686.1 819.5,686.1 821.8,686.2 824.1,686.3 826.4,686.4 828.7,686.6 831.0,686.8" fill="none" stroke="#f3b52f" stroke-width="8.2" stroke-linecap="round"/>
<path d="M840.6,688.2 842.7,688.6 844.7,689.0 846.8,689.4 848.8,689.9 850.9,690.5 852.9,691.0 854.9,691.6 857.0,692.2 859.0,692.9 861.0,693.6" fill="none" stroke="#f3b52f" stroke-width="8.2" stroke-linecap="round"/>
<path d="M870.1,697.2 872.6,698.3 875.0,699.4 877.5,700.6 879.9,701.9 882.3,703.2 884.7,704.6 887.0,706.0 889.3,707.4 891.6,708.9 893.9,710.5" fill="none" stroke="#f3b52f" stroke-width="8.2" stroke-linecap="round"/>
<path d="M901.9,716.5 903.5,717.8 905.1,719.2 906.7,720.6 908.3,721.9 909.8,723.4 911.3,724.8 912.8,726.3 914.3,727.7 915.8,729.2 917.2,730.8" fill="none" stroke="#f3b52f" stroke-width="8.2" stroke-linecap="round"/>
<path d="M924.0,738.5 925.6,740.6 927.3,742.7 928.9,744.9 930.5,747.1 932.0,749.3 933.5,751.6 935.0,753.9 936.4,756.2 937.8,758.5 939.1,760.9" fill="none" stroke="#f3b52f" stroke-width="8.2" stroke-linecap="round"/>
<path d="M944.0,770.2 945.0,772.5 946.1,774.8 947.1,777.1 948.1,779.5 949.0,781.9 949.9,784.2 950.8,786.6 951.6,789.1 952.4,791.5 953.2,793.9" fill="none" stroke="#f3b52f" stroke-width="8.2" stroke-linecap="round"/>
<path d="M955.9,804.2 956.4,806.3 956.9,808.5 957.3,810.6 957.7,812.7 958.1,814.9 958.4,817.1 958.8,819.2 959.0,821.4 959.3,823.5 959.6,825.7" fill="none" stroke="#f3b52f" stroke-width="8.2" stroke-linecap="round"/>
<path d="M960.3,836.4 960.4,839.2 960.5,841.9 960.5,844.7 960.5,847.5 960.4,850.2 960.3,853.0 960.1,855.7 959.9,858.5 959.6,861.2 959.3,864.0" fill="none" stroke="#f3b52f" stroke-width="8.2" stroke-linecap="round"/>
<path d="M957.8,874.6 957.4,876.7 956.9,878.8 956.5,880.9 956.0,883.0 955.5,885.1 955.0,887.2 954.4,889.3 953.9,891.3 953.2,893.4 952.6,895.4" fill="none" stroke="#f3b52f" stroke-width="8.2" stroke-linecap="round"/>
<path d="M949.1,905.4 948.2,907.9 947.2,910.3 946.1,912.7 945.0,915.1 943.9,917.5 942.8,919.8 941.6,922.2 940.4,924.5 939.1,926.8 937.8,929.0" fill="none" stroke="#f3b52f" stroke-width="8.2" stroke-linecap="round"/>
<path d="M932.3,937.8 931.1,939.6 929.9,941.3 928.6,943.1 927.4,944.8 926.1,946.4 924.7,948.1 923.4,949.8 922.1,951.4 920.7,953.0 919.3,954.6" fill="none" stroke="#f3b52f" stroke-width="8.2" stroke-linecap="round"/>
<path d="M912.2,961.9 910.7,963.4 909.2,964.8 907.6,966.3 906.0,967.7 904.4,969.0 902.8,970.4 901.2,971.7 899.5,973.0 897.9,974.2 896.2,975.5" fill="none" stroke="#f3b52f" stroke-width="8.2" stroke-linecap="round"/>
<path d="M887.9,981.1 885.8,982.4 883.6,983.6 881.5,984.8 879.3,986.0 877.2,987.1 875.0,988.2 872.7,989.3 870.5,990.3 868.3,991.2 866.0,992.2" fill="none" stroke="#f3b52f" stroke-width="8.2" stroke-linecap="round"/>
<path d="M856.7,995.4 854.0,996.3 851.2,997.1 848.4,997.8 845.6,998.4 842.7,999.0 839.9,999.6 837.1,1000.0 834.2,1000.4 831.4,1000.8 828.5,1001.0" fill="none" stroke="#f3b52f" stroke-width="8.2" stroke-linecap="round"/>
<path d="M818.8,1001.5 816.7,1001.5 814.7,1001.5 812.6,1001.4 810.5,1001.3 808.5,1001.2 806.4,1001.0 804.4,1000.8 802.3,1000.6 800.3,1000.3 798.2,1000.1" fill="none" stroke="#f3b52f" stroke-width="8.2" stroke-linecap="round"/>
<path d="M788.6,998.3 786.5,997.8 784.4,997.2 782.3,996.6 780.2,996.0 778.1,995.4 776.0,994.7 773.9,994.0 771.8,993.2 769.8,992.5 767.7,991.6" fill="none" stroke="#f3b52f" stroke-width="8.2" stroke-linecap="round"/>
<path d="M758.7,987.6 756.3,986.3 754.0,985.1 751.6,983.8 749.3,982.4 746.9,981.0 744.7,979.5 742.4,978.0 740.2,976.4 737.9,974.8 735.8,973.2" fill="none" stroke="#f3b52f" stroke-width="8.2" stroke-linecap="round"/>
<path d="M728.0,966.8 725.6,964.7 723.4,962.5 721.1,960.3 718.9,958.0 716.7,955.7 714.6,953.3 712.6,950.9 710.5,948.5 708.5,945.9 706.6,943.4" fill="none" stroke="#f3b52f" stroke-width="8.2" stroke-linecap="round"/>
<path d="M700.7,934.8 699.3,932.5 697.8,930.1 696.4,927.7 695.1,925.3 693.8,922.8 692.5,920.4 691.3,917.9 690.1,915.3 688.9,912.8 687.8,910.2" fill="none" stroke="#f3b52f" stroke-width="8.2" stroke-linecap="round"/>
<path d="M684.0,900.3 683.2,897.9 682.4,895.4 681.6,892.9 680.9,890.4 680.2,887.9 679.6,885.4 679.0,882.8 678.4,880.3 677.9,877.7 677.4,875.2" fill="none" stroke="#f3b52f" stroke-width="8.2" stroke-linecap="round"/>
<path d="M675.8,864.6 675.4,861.3 675.1,857.9 674.8,854.6 674.7,851.2 674.5,847.9 674.5,844.5 674.5,841.1 674.6,837.8 674.8,834.4 675.0,831.1" fill="none" stroke="#f3b52f" stroke-width="8.2" stroke-linecap="round"/>
<path d="M676.1,820.4 676.4,818.3 676.7,816.1 677.1,814.0 677.5,811.8 677.9,809.7 678.3,807.6 678.8,805.5 679.3,803.4 679.8,801.3 680.3,799.2" fill="none" stroke="#f3b52f" stroke-width="8.2" stroke-linecap="round"/>
<path d="M683.4,789.0 684.4,786.0 685.5,783.0 686.7,780.1 687.9,777.2 689.2,774.3 690.5,771.4 691.8,768.6 693.2,765.8 694.7,763.0 696.2,760.2" fill="none" stroke="#f3b52f" stroke-width="8.2" stroke-linecap="round"/>
<path d="M701.7,751.3 703.0,749.3 704.4,747.4 705.7,745.4 707.2,743.5 708.6,741.6 710.1,739.7 711.6,737.8 713.1,736.0 714.7,734.2 716.2,732.4" fill="none" stroke="#f3b52f" stroke-width="8.2" stroke-linecap="round"/>
<path d="M723.3,725.1 724.9,723.6 726.5,722.1 728.1,720.7 729.8,719.3 731.4,717.9 733.1,716.5 734.8,715.1 736.5,713.8 738.2,712.5 740.0,711.3" fill="none" stroke="#f3b52f" stroke-width="8.2" stroke-linecap="round"/>
<path d="M748.3,705.8 750.1,704.7 752.0,703.6 753.8,702.6 755.6,701.6 757.5,700.7 759.4,699.7 761.3,698.8 763.1,697.9 765.1,697.1 767.0,696.3" fill="none" stroke="#f3b52f" stroke-width="8.2" stroke-linecap="round"/>
<path d="M776.2,692.8 778.4,692.1 780.6,691.5 782.8,690.8 785.0,690.2 787.2,689.7 789.4,689.2 791.7,688.7 793.9,688.3 796.1,687.9 798.4,687.5" fill="none" stroke="#f3b52f" stroke-width="8.2" stroke-linecap="round"/>
<path d="M949.4,854.2 948.9,859.9 948.3,865.5 947.4,871.1 946.3,876.7" fill="none" stroke="#5a2410" stroke-width="0.6" opacity="0.75"/>
<path d="M942.9,887.2 941.1,892.9 939.2,898.6 937.0,904.2 934.6,909.6" fill="none" stroke="#5a2410" stroke-width="0.6" opacity="0.75"/>
<path d="M932.5,915.1 929.2,921.3 925.6,927.3 921.7,933.0 917.6,938.6" fill="none" stroke="#5a2410" stroke-width="0.6" opacity="0.75"/>
<path d="M913.2,944.9 908.1,950.5 902.6,955.8 896.9,960.8 891.0,965.4" fill="none" stroke="#5a2410" stroke-width="0.6" opacity="0.75"/>
<path d="M881.0,972.7 876.7,975.2 872.3,977.5 867.8,979.6 863.2,981.5" fill="none" stroke="#5a2410" stroke-width="0.6" opacity="0.75"/>
<path d="M857.2,984.5 851.8,986.2 846.3,987.7 840.8,988.9 835.2,989.9" fill="none" stroke="#5a2410" stroke-width="0.6" opacity="0.75"/>
<path d="M825.7,990.3 819.6,990.5 813.5,990.5 807.4,990.1 801.3,989.5" fill="none" stroke="#5a2410" stroke-width="0.6" opacity="0.75"/>
<path d="M795.6,988.3 789.5,987.0 783.5,985.4 777.5,983.5 771.7,981.3" fill="none" stroke="#5a2410" stroke-width="0.6" opacity="0.75"/>
<path d="M764.2,978.9 761.7,977.7 759.1,976.3 756.6,974.9 754.1,973.5" fill="none" stroke="#5a2410" stroke-width="0.6" opacity="0.75"/>
<path d="M746.2,968.5 741.2,964.8 736.3,960.8 731.6,956.7 727.1,952.3" fill="none" stroke="#5a2410" stroke-width="0.6" opacity="0.75"/>
<path d="M720.2,942.7 715.6,936.9 711.4,931.0 707.4,924.7 703.7,918.3" fill="none" stroke="#5a2410" stroke-width="0.6" opacity="0.75"/>
<path d="M696.9,907.6 694.9,902.9 693.1,898.0 691.4,893.1 689.9,888.1" fill="none" stroke="#5a2410" stroke-width="0.6" opacity="0.75"/>
<path d="M688.8,874.4 688.2,871.1 687.7,867.7 687.2,864.4 686.8,861.0" fill="none" stroke="#5a2410" stroke-width="0.6" opacity="0.75"/>
<path d="M685.4,853.4 685.1,845.6 685.2,837.7 685.7,829.9 686.5,822.1" fill="none" stroke="#5a2410" stroke-width="0.6" opacity="0.75"/>
<path d="M688.3,810.9 689.3,806.6 690.3,802.3 691.6,798.0 692.9,793.8" fill="none" stroke="#5a2410" stroke-width="0.6" opacity="0.75"/>
<path d="M695.8,785.1 697.6,780.8 699.5,776.6 701.5,772.4 703.7,768.3" fill="none" stroke="#5a2410" stroke-width="0.6" opacity="0.75"/>
<path d="M708.9,758.9 713.0,752.9 717.4,747.0 722.1,741.5 727.0,736.2" fill="none" stroke="#5a2410" stroke-width="0.6" opacity="0.75"/>
<path d="M736.2,726.4 741.6,722.1 747.3,718.0 753.0,714.3 759.0,710.9" fill="none" stroke="#5a2410" stroke-width="0.6" opacity="0.75"/>
<path d="M769.0,706.5 772.2,705.2 775.4,704.0 778.7,702.8 782.0,701.8" fill="none" stroke="#5a2410" stroke-width="0.6" opacity="0.75"/>
<path d="M794.9,699.5 801.7,698.4 808.5,697.7 815.4,697.4 822.2,697.4" fill="none" stroke="#5a2410" stroke-width="0.6" opacity="0.75"/>
<path d="M833.3,697.6 836.9,698.1 840.5,698.8 844.1,699.5 847.7,700.4" fill="none" stroke="#5a2410" stroke-width="0.6" opacity="0.75"/>
<path d="M856.6,705.4 860.4,706.8 864.1,708.3 867.7,709.9 871.3,711.6" fill="none" stroke="#5a2410" stroke-width="0.6" opacity="0.75"/>
<path d="M882.1,717.5 888.2,721.6 894.2,726.0 899.9,730.8 905.4,735.9" fill="none" stroke="#5a2410" stroke-width="0.6" opacity="0.75"/>
<path d="M913.8,744.7 916.8,748.4 919.7,752.3 922.5,756.2 925.2,760.2" fill="none" stroke="#5a2410" stroke-width="0.6" opacity="0.75"/>
<path d="M931.0,766.1 934.2,772.0 937.1,778.1 939.8,784.4 942.2,790.8" fill="none" stroke="#5a2410" stroke-width="0.6" opacity="0.75"/>
<path d="M942.0,797.5 943.6,803.2 945.0,809.0 946.2,814.9 947.2,820.8" fill="none" stroke="#5a2410" stroke-width="0.6" opacity="0.75"/>
<path d="M950.7,832.6 951.0,837.2 951.1,841.9 951.1,846.5 951.0,851.2" fill="none" stroke="#5a2410" stroke-width="0.6" opacity="0.75"/>
<path d="M943.4,865.0 942.1,872.6 940.5,880.1 938.5,887.5 936.1,894.8" fill="none" stroke="#5a2410" stroke-width="0.6" opacity="0.75"/>
<path d="M933.3,900.2 931.1,905.4 928.7,910.5 926.1,915.5 923.4,920.3" fill="none" stroke="#5a2410" stroke-width="0.6" opacity="0.75"/>
<path d="M920.9,927.3 918.2,931.1 915.5,934.9 912.6,938.5 909.6,942.1" fill="none" stroke="#5a2410" stroke-width="0.6" opacity="0.75"/>
<path d="M905.6,947.5 903.5,949.6 901.4,951.6 899.3,953.6 897.2,955.5" fill="none" stroke="#5a2410" stroke-width="0.6" opacity="0.75"/>
<path d="M891.1,960.5 885.3,964.7 879.4,968.5 873.2,972.0 866.9,975.1" fill="none" stroke="#5a2410" stroke-width="0.6" opacity="0.75"/>
<path d="M859.0,977.2 854.6,978.8 850.2,980.2 845.7,981.4 841.2,982.4" fill="none" stroke="#5a2410" stroke-width="0.6" opacity="0.75"/>
<path d="M831.3,984.2 826.1,984.7 820.8,984.9 815.6,985.0 810.4,984.8" fill="none" stroke="#5a2410" stroke-width="0.6" opacity="0.75"/>
<path d="M800.6,983.6 793.9,982.4 787.3,980.8 780.7,978.9 774.3,976.5" fill="none" stroke="#5a2410" stroke-width="0.6" opacity="0.75"/>
<path d="M766.8,972.4 761.6,969.7 756.5,966.8 751.5,963.6 746.6,960.2" fill="none" stroke="#5a2410" stroke-width="0.6" opacity="0.75"/>
<path d="M740.2,956.2 734.8,951.4 729.6,946.3 724.7,940.9 720.1,935.2" fill="none" stroke="#5a2410" stroke-width="0.6" opacity="0.75"/>
<path d="M714.5,926.9 713.0,924.6 711.5,922.2 710.1,919.8 708.7,917.4" fill="none" stroke="#5a2410" stroke-width="0.6" opacity="0.75"/>
<path d="M703.5,908.5 702.4,905.9 701.2,903.2 700.1,900.6 699.1,897.9" fill="none" stroke="#5a2410" stroke-width="0.6" opacity="0.75"/>
<path d="M695.6,887.5 694.8,884.6 694.0,881.6 693.2,878.5 692.6,875.5" fill="none" stroke="#5a2410" stroke-width="0.6" opacity="0.75"/>
<path d="M691.7,865.9 690.9,859.8 690.4,853.7 690.1,847.6 690.1,841.4" fill="none" stroke="#5a2410" stroke-width="0.6" opacity="0.75"/>
<path d="M691.6,830.0 692.3,823.6 693.3,817.3 694.5,811.0 696.0,804.9" fill="none" stroke="#5a2410" stroke-width="0.6" opacity="0.75"/>
<path d="M695.2,798.2 697.1,792.3 699.3,786.6 701.7,780.9 704.3,775.4" fill="none" stroke="#5a2410" stroke-width="0.6" opacity="0.75"/>
<path d="M708.7,769.2 711.2,765.0 713.8,760.8 716.6,756.7 719.5,752.8" fill="none" stroke="#5a2410" stroke-width="0.6" opacity="0.75"/>
<path d="M725.1,747.1 728.0,743.9 731.1,740.7 734.2,737.6 737.4,734.7" fill="none" stroke="#5a2410" stroke-width="0.6" opacity="0.75"/>
<path d="M743.7,729.4 748.0,726.2 752.4,723.2 756.9,720.3 761.5,717.7" fill="none" stroke="#5a2410" stroke-width="0.6" opacity="0.75"/>
<path d="M769.1,714.8 774.6,712.5 780.3,710.4 786.0,708.6 791.8,707.1" fill="none" stroke="#5a2410" stroke-width="0.6" opacity="0.75"/>
<path d="M801.0,704.6 806.7,703.9 812.6,703.5 818.4,703.4 824.2,703.6" fill="none" stroke="#5a2410" stroke-width="0.6" opacity="0.75"/>
<path d="M831.0,704.4 837.0,705.2 843.0,706.4 849.0,708.0 854.9,709.8" fill="none" stroke="#5a2410" stroke-width="0.6" opacity="0.75"/>
<path d="M861.5,710.8 865.7,712.6 869.9,714.5 874.0,716.6 878.0,718.9" fill="none" stroke="#5a2410" stroke-width="0.6" opacity="0.75"/>
<path d="M882.6,723.1 886.0,725.4 889.4,727.8 892.6,730.3 895.8,733.0" fill="none" stroke="#5a2410" stroke-width="0.6" opacity="0.75"/>
<path d="M905.5,740.0 908.8,743.5 911.9,747.2 914.9,750.9 917.9,754.7" fill="none" stroke="#5a2410" stroke-width="0.6" opacity="0.75"/>
<path d="M921.3,760.8 923.7,764.5 925.9,768.2 928.0,772.0 930.0,776.0" fill="none" stroke="#5a2410" stroke-width="0.6" opacity="0.75"/>
<path d="M934.2,788.3 935.9,792.9 937.5,797.6 938.9,802.4 940.2,807.2" fill="none" stroke="#5a2410" stroke-width="0.6" opacity="0.75"/>
<path d="M941.5,813.7 942.5,819.0 943.3,824.3 943.9,829.7 944.3,835.0" fill="none" stroke="#5a2410" stroke-width="0.6" opacity="0.75"/>
<path d="M936.1,877.4 935.3,880.9 934.3,884.3 933.3,887.7 932.2,891.0" fill="none" stroke="#5a2410" stroke-width="0.6" opacity="0.75"/>
<path d="M929.3,902.7 926.9,907.9 924.4,913.0 921.6,917.9 918.7,922.7" fill="none" stroke="#5a2410" stroke-width="0.6" opacity="0.75"/>
<path d="M913.1,928.4 911.1,930.9 909.2,933.4 907.2,935.9 905.1,938.3" fill="none" stroke="#5a2410" stroke-width="0.6" opacity="0.75"/>
<path d="M897.3,946.5 894.6,949.1 891.7,951.5 888.8,953.9 885.8,956.2" fill="none" stroke="#5a2410" stroke-width="0.6" opacity="0.75"/>
<path d="M879.1,961.0 875.4,963.3 871.6,965.4 867.8,967.4 863.9,969.3" fill="none" stroke="#5a2410" stroke-width="0.6" opacity="0.75"/>
<path d="M852.5,972.4 849.5,973.3 846.5,974.2 843.5,975.0 840.5,975.6" fill="none" stroke="#5a2410" stroke-width="0.6" opacity="0.75"/>
<path d="M829.1,980.4 822.8,980.9 816.5,981.0 810.2,980.8 803.9,980.2" fill="none" stroke="#5a2410" stroke-width="0.6" opacity="0.75"/>
<path d="M795.8,978.7 789.3,977.2 782.9,975.4 776.6,973.2 770.4,970.6" fill="none" stroke="#5a2410" stroke-width="0.6" opacity="0.75"/>
<path d="M764.4,967.4 759.3,964.6 754.3,961.5 749.5,958.2 744.8,954.6" fill="none" stroke="#5a2410" stroke-width="0.6" opacity="0.75"/>
<path d="M738.0,946.6 734.5,943.2 731.1,939.6 727.9,935.9 724.7,932.0" fill="none" stroke="#5a2410" stroke-width="0.6" opacity="0.75"/>
<path d="M720.5,925.3 718.5,922.3 716.6,919.2 714.7,916.1 712.9,912.9" fill="none" stroke="#5a2410" stroke-width="0.6" opacity="0.75"/>
<path d="M706.7,905.0 705.1,901.3 703.6,897.5 702.1,893.7 700.8,889.9" fill="none" stroke="#5a2410" stroke-width="0.6" opacity="0.75"/>
<path d="M699.5,884.2 697.7,877.5 696.3,870.6 695.2,863.7 694.4,856.7" fill="none" stroke="#5a2410" stroke-width="0.6" opacity="0.75"/>
<path d="M693.3,843.7 693.5,836.7 694.0,829.6 694.8,822.7 696.0,815.8" fill="none" stroke="#5a2410" stroke-width="0.6" opacity="0.75"/>
<path d="M698.6,806.0 699.3,803.3 700.1,800.6 700.9,798.0 701.8,795.4" fill="none" stroke="#5a2410" stroke-width="0.6" opacity="0.75"/>
<path d="M704.4,789.1 705.9,785.3 707.6,781.6 709.4,777.9 711.2,774.3" fill="none" stroke="#5a2410" stroke-width="0.6" opacity="0.75"/>
<path d="M715.4,765.7 717.9,761.8 720.5,758.1 723.3,754.5 726.1,750.9" fill="none" stroke="#5a2410" stroke-width="0.6" opacity="0.75"/>
<path d="M734.1,745.0 737.0,742.1 740.0,739.3 743.1,736.6 746.2,734.1" fill="none" stroke="#5a2410" stroke-width="0.6" opacity="0.75"/>
<path d="M754.9,726.0 758.8,723.5 762.9,721.2 767.0,719.1 771.2,717.1" fill="none" stroke="#5a2410" stroke-width="0.6" opacity="0.75"/>
<path d="M778.5,714.9 781.7,713.8 784.8,712.8 788.0,711.9 791.3,711.1" fill="none" stroke="#5a2410" stroke-width="0.6" opacity="0.75"/>
<path d="M802.0,708.3 805.2,707.9 808.4,707.5 811.6,707.3 814.8,707.2" fill="none" stroke="#5a2410" stroke-width="0.6" opacity="0.75"/>
<path d="M826.6,707.5 832.6,708.1 838.5,709.1 844.4,710.3 850.2,711.9" fill="none" stroke="#5a2410" stroke-width="0.6" opacity="0.75"/>
<path d="M855.0,713.4 859.9,715.2 864.8,717.3 869.6,719.6 874.2,722.1" fill="none" stroke="#5a2410" stroke-width="0.6" opacity="0.75"/>
<path d="M878.1,726.5 881.2,728.5 884.3,730.6 887.3,732.8 890.2,735.2" fill="none" stroke="#5a2410" stroke-width="0.6" opacity="0.75"/>
<path d="M897.5,740.7 900.7,743.8 903.8,747.1 906.8,750.5 909.7,753.9" fill="none" stroke="#5a2410" stroke-width="0.6" opacity="0.75"/>
<path d="M915.4,763.8 916.9,766.0 918.3,768.2 919.6,770.5 920.9,772.7" fill="none" stroke="#5a2410" stroke-width="0.6" opacity="0.75"/>
<path d="M923.9,778.2 925.3,781.1 926.7,784.0 928.0,787.0 929.2,790.0" fill="none" stroke="#5a2410" stroke-width="0.6" opacity="0.75"/>
<path d="M933.5,802.3 935.2,808.7 936.7,815.3 937.8,821.9 938.7,828.5" fill="none" stroke="#5a2410" stroke-width="0.6" opacity="0.75"/>
<path d="M940.0,837.9 940.1,842.1 940.1,846.3 939.9,850.5 939.7,854.7" fill="none" stroke="#5a2410" stroke-width="0.6" opacity="0.75"/>
<path d="M933.2,868.9 932.2,874.0 931.0,879.1 929.6,884.2 928.0,889.2" fill="none" stroke="#5a2410" stroke-width="0.6" opacity="0.75"/>
<path d="M925.2,895.1 923.7,898.8 922.0,902.5 920.3,906.1 918.5,909.6" fill="none" stroke="#5a2410" stroke-width="0.6" opacity="0.75"/>
<path d="M914.4,918.0 911.3,922.8 908.0,927.4 904.5,931.8 900.8,936.0" fill="none" stroke="#5a2410" stroke-width="0.6" opacity="0.75"/>
<path d="M896.9,940.0 894.6,942.3 892.3,944.5 889.8,946.6 887.4,948.7" fill="none" stroke="#5a2410" stroke-width="0.6" opacity="0.75"/>
<path d="M879.9,954.2 875.1,957.4 870.2,960.3 865.1,962.9 859.9,965.2" fill="none" stroke="#5a2410" stroke-width="0.6" opacity="0.75"/>
<path d="M850.1,969.0 845.4,970.4 840.5,971.6 835.7,972.5 830.8,973.3" fill="none" stroke="#5a2410" stroke-width="0.6" opacity="0.75"/>
<path d="M823.5,974.7 819.0,974.9 814.6,974.9 810.2,974.7 805.7,974.3" fill="none" stroke="#5a2410" stroke-width="0.6" opacity="0.75"/>
<path d="M798.2,972.4 793.0,971.4 787.9,970.0 782.9,968.5 777.9,966.6" fill="none" stroke="#5a2410" stroke-width="0.6" opacity="0.75"/>
<path d="M771.6,964.7 767.4,962.7 763.3,960.4 759.2,958.0 755.2,955.5" fill="none" stroke="#5a2410" stroke-width="0.6" opacity="0.75"/>
<path d="M751.2,951.6 747.9,949.0 744.6,946.3 741.4,943.4 738.3,940.4" fill="none" stroke="#5a2410" stroke-width="0.6" opacity="0.75"/>
<path d="M730.6,931.8 726.5,926.6 722.7,921.2 719.1,915.6 715.8,909.8" fill="none" stroke="#5a2410" stroke-width="0.6" opacity="0.75"/>
<path d="M710.9,898.8 708.7,893.2 706.7,887.4 704.9,881.5 703.4,875.6" fill="none" stroke="#5a2410" stroke-width="0.6" opacity="0.75"/>
<path d="M700.2,867.2 699.8,864.1 699.3,860.9 699.0,857.8 698.7,854.6" fill="none" stroke="#5a2410" stroke-width="0.6" opacity="0.75"/>
<path d="M698.4,844.1 698.5,837.4 699.0,830.7 699.7,824.1 700.8,817.5" fill="none" stroke="#5a2410" stroke-width="0.6" opacity="0.75"/>
<path d="M703.7,807.4 705.3,801.8 707.2,796.1 709.3,790.6 711.6,785.2" fill="none" stroke="#5a2410" stroke-width="0.6" opacity="0.75"/>
<path d="M715.5,780.7 717.9,776.2 720.4,771.8 723.2,767.5 726.0,763.4" fill="none" stroke="#5a2410" stroke-width="0.6" opacity="0.75"/>
<path d="M729.6,758.5 733.3,754.0 737.3,749.7 741.4,745.7 745.7,741.8" fill="none" stroke="#5a2410" stroke-width="0.6" opacity="0.75"/>
<path d="M748.6,736.3 750.9,734.5 753.3,732.8 755.6,731.2 758.1,729.6" fill="none" stroke="#5a2410" stroke-width="0.6" opacity="0.75"/>
<path d="M763.4,726.6 765.7,725.4 767.9,724.2 770.2,723.1 772.5,722.0" fill="none" stroke="#5a2410" stroke-width="0.6" opacity="0.75"/>
<path d="M777.9,720.3 783.5,718.3 789.2,716.6 794.9,715.2 800.7,714.1" fill="none" stroke="#5a2410" stroke-width="0.6" opacity="0.75"/>
<path d="M811.4,713.2 817.7,713.1 824.0,713.3 830.3,713.8 836.6,714.8" fill="none" stroke="#5a2410" stroke-width="0.6" opacity="0.75"/>
<path d="M846.9,716.6 849.4,717.3 851.8,718.1 854.2,718.9 856.6,719.8" fill="none" stroke="#5a2410" stroke-width="0.6" opacity="0.75"/>
<path d="M863.7,725.0 868.5,727.4 873.2,730.0 877.8,732.9 882.3,736.0" fill="none" stroke="#5a2410" stroke-width="0.6" opacity="0.75"/>
<path d="M890.3,742.6 895.0,746.9 899.5,751.6 903.8,756.5 907.9,761.6" fill="none" stroke="#5a2410" stroke-width="0.6" opacity="0.75"/>
<path d="M913.8,766.3 916.5,770.6 919.1,775.0 921.5,779.5 923.7,784.1" fill="none" stroke="#5a2410" stroke-width="0.6" opacity="0.75"/>
<path d="M925.1,791.3 926.3,794.4 927.4,797.6 928.5,800.8 929.5,804.0" fill="none" stroke="#5a2410" stroke-width="0.6" opacity="0.75"/>
<path d="M932.3,813.6 933.4,819.5 934.3,825.4 935.0,831.4 935.4,837.4" fill="none" stroke="#5a2410" stroke-width="0.6" opacity="0.75"/>
<path d="M930.0,858.6 929.5,862.6 928.9,866.6 928.2,870.6 927.4,874.5" fill="none" stroke="#5a2410" stroke-width="0.6" opacity="0.75"/>
<path d="M927.5,880.4 926.1,884.9 924.7,889.4 923.0,893.8 921.3,898.1" fill="none" stroke="#5a2410" stroke-width="0.6" opacity="0.75"/>
<path d="M915.9,904.2 913.3,909.2 910.5,914.0 907.4,918.6 904.2,923.1" fill="none" stroke="#5a2410" stroke-width="0.6" opacity="0.75"/>
<path d="M899.1,931.7 895.3,935.8 891.3,939.7 887.2,943.4 882.9,946.8" fill="none" stroke="#5a2410" stroke-width="0.6" opacity="0.75"/>
<path d="M876.1,951.6 872.4,953.9 868.7,956.1 864.9,958.1 861.1,959.9" fill="none" stroke="#5a2410" stroke-width="0.6" opacity="0.75"/>
<path d="M850.6,962.4 847.8,963.2 845.1,964.0 842.3,964.8 839.6,965.4" fill="none" stroke="#5a2410" stroke-width="0.6" opacity="0.75"/>
<path d="M830.3,968.3 824.4,968.9 818.5,969.1 812.5,969.0 806.6,968.5" fill="none" stroke="#5a2410" stroke-width="0.6" opacity="0.75"/>
<path d="M799.3,966.5 794.3,965.4 789.3,964.2 784.4,962.6 779.6,960.9" fill="none" stroke="#5a2410" stroke-width="0.6" opacity="0.75"/>
<path d="M773.3,959.4 770.5,958.1 767.7,956.7 765.0,955.1 762.3,953.5" fill="none" stroke="#5a2410" stroke-width="0.6" opacity="0.75"/>
<path d="M756.3,950.0 753.7,948.1 751.0,946.1 748.4,944.0 745.9,941.8" fill="none" stroke="#5a2410" stroke-width="0.6" opacity="0.75"/>
<path d="M737.6,933.7 735.2,931.0 732.8,928.2 730.5,925.3 728.3,922.3" fill="none" stroke="#5a2410" stroke-width="0.6" opacity="0.75"/>
<path d="M724.2,915.6 721.0,910.4 718.2,905.0 715.5,899.5 713.1,893.8" fill="none" stroke="#5a2410" stroke-width="0.6" opacity="0.75"/>
<path d="M712.2,886.7 711.1,883.4 710.2,880.2 709.3,876.9 708.5,873.6" fill="none" stroke="#5a2410" stroke-width="0.6" opacity="0.75"/>
<path d="M706.5,865.4 705.9,861.3 705.5,857.1 705.1,853.0 704.9,848.9" fill="none" stroke="#5a2410" stroke-width="0.6" opacity="0.75"/>
<path d="M703.2,841.2 703.3,837.2 703.6,833.3 703.9,829.4 704.4,825.5" fill="none" stroke="#5a2410" stroke-width="0.6" opacity="0.75"/>
<path d="M706.1,819.6 707.5,812.9 709.2,806.3 711.2,799.9 713.6,793.5" fill="none" stroke="#5a2410" stroke-width="0.6" opacity="0.75"/>
<path d="M716.5,784.5 718.5,780.4 720.6,776.5 722.9,772.7 725.3,768.9" fill="none" stroke="#5a2410" stroke-width="0.6" opacity="0.75"/>
<path d="M732.5,760.9 735.5,757.2 738.7,753.7 742.0,750.4 745.4,747.1" fill="none" stroke="#5a2410" stroke-width="0.6" opacity="0.75"/>
<path d="M753.0,741.1 757.8,737.6 762.6,734.5 767.7,731.6 772.8,729.0" fill="none" stroke="#5a2410" stroke-width="0.6" opacity="0.75"/>
<path d="M781.6,725.1 787.5,723.1 793.4,721.5 799.3,720.3 805.4,719.4" fill="none" stroke="#5a2410" stroke-width="0.6" opacity="0.75"/>
<path d="M811.4,718.1 814.6,717.9 817.9,717.9 821.1,718.0 824.3,718.1" fill="none" stroke="#5a2410" stroke-width="0.6" opacity="0.75"/>
<path d="M833.5,718.7 839.5,719.8 845.5,721.3 851.4,723.2 857.2,725.3" fill="none" stroke="#5a2410" stroke-width="0.6" opacity="0.75"/>
<path d="M862.4,729.5 865.1,730.9 867.8,732.3 870.5,733.9 873.1,735.5" fill="none" stroke="#5a2410" stroke-width="0.6" opacity="0.75"/>
<path d="M879.0,737.2 883.2,740.4 887.4,743.7 891.3,747.2 895.2,751.0" fill="none" stroke="#5a2410" stroke-width="0.6" opacity="0.75"/>
<path d="M902.7,759.4 904.9,762.2 907.0,765.0 909.1,767.9 911.0,770.8" fill="none" stroke="#5a2410" stroke-width="0.6" opacity="0.75"/>
<path d="M914.4,777.2 916.5,781.0 918.4,784.8 920.2,788.7 921.9,792.7" fill="none" stroke="#5a2410" stroke-width="0.6" opacity="0.75"/>
<path d="M924.1,797.8 925.1,800.6 925.9,803.4 926.8,806.1 927.5,809.0" fill="none" stroke="#5a2410" stroke-width="0.6" opacity="0.75"/>
<path d="M928.5,816.2 929.2,820.1 929.9,824.2 930.4,828.2 930.8,832.2" fill="none" stroke="#5a2410" stroke-width="0.6" opacity="0.75"/>
<path d="M930.6,842.3 930.6,844.9 930.6,847.4 930.5,849.9 930.3,852.4" fill="none" stroke="#5a2410" stroke-width="0.6" opacity="0.75"/>
<path d="M925.4,861.3 924.9,864.5 924.3,867.7 923.7,871.0 923.0,874.2" fill="none" stroke="#5a2410" stroke-width="0.6" opacity="0.75"/>
<path d="M919.7,885.3 918.4,889.0 917.0,892.8 915.4,896.4 913.7,900.0" fill="none" stroke="#5a2410" stroke-width="0.6" opacity="0.75"/>
<path d="M911.5,905.2 909.8,908.2 908.1,911.2 906.2,914.1 904.3,917.0" fill="none" stroke="#5a2410" stroke-width="0.6" opacity="0.75"/>
<path d="M901.6,921.9 897.9,926.5 893.9,930.9 889.8,935.1 885.5,939.0" fill="none" stroke="#5a2410" stroke-width="0.6" opacity="0.75"/>
<path d="M880.6,941.1 875.9,944.6 870.9,947.9 865.9,950.9 860.7,953.5" fill="none" stroke="#5a2410" stroke-width="0.6" opacity="0.75"/>
<path d="M851.9,957.0 847.1,958.7 842.2,960.0 837.3,961.2 832.3,962.1" fill="none" stroke="#5a2410" stroke-width="0.6" opacity="0.75"/>
<path d="M823.7,964.5 819.0,964.7 814.3,964.7 809.6,964.4 804.9,963.9" fill="none" stroke="#5a2410" stroke-width="0.6" opacity="0.75"/>
<path d="M798.8,963.4 793.8,962.3 788.8,961.0 783.9,959.4 779.1,957.5" fill="none" stroke="#5a2410" stroke-width="0.6" opacity="0.75"/>
<path d="M771.9,951.5 768.1,949.4 764.5,947.3 760.9,944.9 757.4,942.4" fill="none" stroke="#5a2410" stroke-width="0.6" opacity="0.75"/>
<path d="M750.3,939.0 747.5,936.5 744.8,934.0 742.2,931.4 739.7,928.6" fill="none" stroke="#5a2410" stroke-width="0.6" opacity="0.75"/>
<path d="M734.9,920.4 732.2,916.7 729.6,912.9 727.2,909.0 724.9,905.0" fill="none" stroke="#5a2410" stroke-width="0.6" opacity="0.75"/>
<path d="M720.8,896.8 718.9,892.2 717.1,887.6 715.6,882.9 714.2,878.2" fill="none" stroke="#5a2410" stroke-width="0.6" opacity="0.75"/>
<path d="M711.9,867.3 711.0,862.3 710.4,857.3 710.0,852.2 709.8,847.1" fill="none" stroke="#5a2410" stroke-width="0.6" opacity="0.75"/>
<path d="M709.4,835.6 709.6,832.7 709.9,829.7 710.3,826.8 710.7,823.8" fill="none" stroke="#5a2410" stroke-width="0.6" opacity="0.75"/>
<path d="M712.0,813.9 713.2,809.2 714.5,804.5 716.1,799.9 717.8,795.4" fill="none" stroke="#5a2410" stroke-width="0.6" opacity="0.75"/>
<path d="M722.1,787.2 724.1,783.4 726.1,779.8 728.2,776.2 730.5,772.7" fill="none" stroke="#5a2410" stroke-width="0.6" opacity="0.75"/>
<path d="M733.0,767.1 734.6,765.1 736.2,763.0 737.9,761.1 739.6,759.1" fill="none" stroke="#5a2410" stroke-width="0.6" opacity="0.75"/>
<path d="M746.4,752.0 749.7,749.1 753.1,746.2 756.6,743.5 760.2,741.0" fill="none" stroke="#5a2410" stroke-width="0.6" opacity="0.75"/>
<path d="M766.5,738.2 769.3,736.6 772.2,735.1 775.1,733.7 778.0,732.4" fill="none" stroke="#5a2410" stroke-width="0.6" opacity="0.75"/>
<path d="M787.4,728.5 789.7,727.8 791.9,727.1 794.2,726.6 796.5,726.0" fill="none" stroke="#5a2410" stroke-width="0.6" opacity="0.75"/>
<path d="M802.4,725.4 807.5,724.8 812.5,724.4 817.6,724.2 822.7,724.4" fill="none" stroke="#5a2410" stroke-width="0.6" opacity="0.75"/>
<path d="M829.2,724.4 832.9,724.9 836.6,725.5 840.3,726.3 843.9,727.2" fill="none" stroke="#5a2410" stroke-width="0.6" opacity="0.75"/>
<path d="M853.2,729.3 856.5,730.7 859.8,732.1 863.0,733.7 866.2,735.4" fill="none" stroke="#5a2410" stroke-width="0.6" opacity="0.75"/>
<path d="M869.8,739.9 872.5,741.7 875.3,743.5 877.9,745.4 880.5,747.4" fill="none" stroke="#5a2410" stroke-width="0.6" opacity="0.75"/>
<path d="M885.6,749.3 889.6,753.0 893.4,756.8 897.0,760.9 900.5,765.1" fill="none" stroke="#5a2410" stroke-width="0.6" opacity="0.75"/>
<path d="M903.3,770.5 905.1,773.0 906.8,775.6 908.4,778.3 909.9,780.9" fill="none" stroke="#5a2410" stroke-width="0.6" opacity="0.75"/>
<path d="M915.2,789.3 917.5,794.6 919.5,800.0 921.3,805.6 922.9,811.2" fill="none" stroke="#5a2410" stroke-width="0.6" opacity="0.75"/>
<path d="M923.9,820.2 924.4,823.2 924.8,826.2 925.2,829.1 925.5,832.1" fill="none" stroke="#5a2410" stroke-width="0.6" opacity="0.75"/>
<path d="M926.4,838.3 926.5,842.9 926.4,847.5 926.2,852.1 925.9,856.7" fill="none" stroke="#5a2410" stroke-width="0.6" opacity="0.75"/>
<ellipse cx="818.5" cy="841.5" rx="106.5" ry="118" fill="#f7941e" stroke="#231f20" stroke-width="0.9"/>
<ellipse cx="818.0" cy="842.0" rx="100" ry="112" fill="#e23027" stroke="#8a1a14" stroke-width="0.8"/>
<line x1="871.9" y1="840.9" x2="913.3" y2="840.5" stroke="#5a1410" stroke-width="0.6" opacity="0.8"/>
<path d="M896.5,840.7 896.4,836.6 896.1,832.5 895.6,828.4" fill="none" stroke="#5a1410" stroke-width="0.6" opacity="0.8"/>
<path d="M887.7,840.8 887.6,837.1 887.3,833.5 886.9,829.8" fill="none" stroke="#5a1410" stroke-width="0.6" opacity="0.8"/>
<line x1="865.7" y1="858.5" x2="896.0" y2="869.5" stroke="#5a1410" stroke-width="0.6" opacity="0.8"/>
<path d="M892.1,868.0 893.2,863.5 894.2,858.9 894.9,854.3" fill="none" stroke="#5a1410" stroke-width="0.6" opacity="0.8"/>
<path d="M887.6,866.4 886.6,869.7 885.5,872.9 884.2,876.1" fill="none" stroke="#5a1410" stroke-width="0.6" opacity="0.8"/>
<line x1="855.7" y1="885.8" x2="875.0" y2="908.8" stroke="#5a1410" stroke-width="0.6" opacity="0.8"/>
<path d="M862.7,894.1 864.9,891.7 867.0,889.2 869.0,886.5" fill="none" stroke="#5a1410" stroke-width="0.6" opacity="0.8"/>
<path d="M862.9,894.4 865.8,891.3 868.4,887.9 870.9,884.4" fill="none" stroke="#5a1410" stroke-width="0.6" opacity="0.8"/>
<line x1="835.0" y1="894.2" x2="848.1" y2="936.1" stroke="#5a1410" stroke-width="0.6" opacity="0.8"/>
<path d="M840.2,910.9 838.0,911.7 835.7,912.5 833.4,913.1" fill="none" stroke="#5a1410" stroke-width="0.6" opacity="0.8"/>
<path d="M843.2,920.4 839.4,921.8 835.6,922.9 831.7,923.8" fill="none" stroke="#5a1410" stroke-width="0.6" opacity="0.8"/>
<line x1="816.9" y1="898.7" x2="815.8" y2="940.9" stroke="#5a1410" stroke-width="0.6" opacity="0.8"/>
<path d="M815.8,938.8 813.2,938.7 810.6,938.5 808.0,938.1" fill="none" stroke="#5a1410" stroke-width="0.6" opacity="0.8"/>
<path d="M816.3,919.7 813.8,919.5 811.3,919.3 808.9,919.0" fill="none" stroke="#5a1410" stroke-width="0.6" opacity="0.8"/>
<line x1="802.8" y1="898.7" x2="794.5" y2="929.0" stroke="#5a1410" stroke-width="0.6" opacity="0.8"/>
<path d="M799.3,911.5 801.7,912.3 804.1,913.0 806.5,913.5" fill="none" stroke="#5a1410" stroke-width="0.6" opacity="0.8"/>
<path d="M794.7,928.2 799.4,929.6 804.2,930.7 809.1,931.6" fill="none" stroke="#5a1410" stroke-width="0.6" opacity="0.8"/>
<line x1="779.3" y1="890.7" x2="764.7" y2="909.1" stroke="#5a1410" stroke-width="0.6" opacity="0.8"/>
<path d="M769.7,902.9 766.7,899.8 763.9,896.5 761.3,893.0" fill="none" stroke="#5a1410" stroke-width="0.6" opacity="0.8"/>
<path d="M772.1,899.8 769.4,897.1 766.9,894.1 764.6,891.1" fill="none" stroke="#5a1410" stroke-width="0.6" opacity="0.8"/>
<line x1="773.3" y1="864.5" x2="745.4" y2="878.6" stroke="#5a1410" stroke-width="0.6" opacity="0.8"/>
<path d="M756.5,873.0 758.4,877.3 760.5,881.5 762.9,885.6" fill="none" stroke="#5a1410" stroke-width="0.6" opacity="0.8"/>
<path d="M759.5,871.4 760.4,873.4 761.3,875.4 762.2,877.4" fill="none" stroke="#5a1410" stroke-width="0.6" opacity="0.8"/>
<line x1="766.2" y1="841.9" x2="727.6" y2="842.2" stroke="#5a1410" stroke-width="0.6" opacity="0.8"/>
<path d="M750.8,842.0 750.9,845.6 751.2,849.1 751.5,852.7" fill="none" stroke="#5a1410" stroke-width="0.6" opacity="0.8"/>
<path d="M744.2,842.1 744.2,838.6 744.4,835.1 744.7,831.6" fill="none" stroke="#5a1410" stroke-width="0.6" opacity="0.8"/>
<line x1="773.7" y1="821.6" x2="740.1" y2="806.7" stroke="#5a1410" stroke-width="0.6" opacity="0.8"/>
<path d="M740.8,807.1 742.7,802.0 745.0,797.1 747.4,792.3" fill="none" stroke="#5a1410" stroke-width="0.6" opacity="0.8"/>
<path d="M740.2,806.8 739.3,809.2 738.6,811.6 737.9,814.1" fill="none" stroke="#5a1410" stroke-width="0.6" opacity="0.8"/>
<line x1="776.8" y1="796.7" x2="753.3" y2="771.5" stroke="#5a1410" stroke-width="0.6" opacity="0.8"/>
<path d="M767.9,787.2 764.8,791.1 762.0,795.2 759.3,799.4" fill="none" stroke="#5a1410" stroke-width="0.6" opacity="0.8"/>
<path d="M762.4,781.3 763.9,779.6 765.4,777.9 766.9,776.4" fill="none" stroke="#5a1410" stroke-width="0.6" opacity="0.8"/>
<line x1="802.2" y1="787.6" x2="792.4" y2="755.4" stroke="#5a1410" stroke-width="0.6" opacity="0.8"/>
<path d="M797.6,772.5 794.4,773.8 791.3,775.3 788.3,777.0" fill="none" stroke="#5a1410" stroke-width="0.6" opacity="0.8"/>
<path d="M795.1,764.0 798.0,763.0 800.9,762.1 803.8,761.3" fill="none" stroke="#5a1410" stroke-width="0.6" opacity="0.8"/>
<line x1="814.5" y1="781.4" x2="811.5" y2="737.3" stroke="#5a1410" stroke-width="0.6" opacity="0.8"/>
<path d="M813.4,765.8 810.6,766.1 807.8,766.5 805.0,767.1" fill="none" stroke="#5a1410" stroke-width="0.6" opacity="0.8"/>
<path d="M813.1,760.0 810.5,760.3 807.9,760.6 805.3,761.1" fill="none" stroke="#5a1410" stroke-width="0.6" opacity="0.8"/>
<line x1="838.6" y1="793.4" x2="856.7" y2="750.1" stroke="#5a1410" stroke-width="0.6" opacity="0.8"/>
<path d="M850.5,764.9 854.2,767.0 857.7,769.3 861.1,771.7" fill="none" stroke="#5a1410" stroke-width="0.6" opacity="0.8"/>
<path d="M855.0,754.0 859.0,756.2 862.8,758.7 866.5,761.3" fill="none" stroke="#5a1410" stroke-width="0.6" opacity="0.8"/>
<line x1="848.4" y1="801.4" x2="875.0" y2="765.6" stroke="#5a1410" stroke-width="0.6" opacity="0.8"/>
<path d="M859.9,785.8 862.6,788.5 865.2,791.4 867.7,794.4" fill="none" stroke="#5a1410" stroke-width="0.6" opacity="0.8"/>
<path d="M860.0,785.8 862.8,788.7 865.6,791.7 868.1,794.9" fill="none" stroke="#5a1410" stroke-width="0.6" opacity="0.8"/>
<line x1="861.7" y1="819.1" x2="901.5" y2="798.4" stroke="#5a1410" stroke-width="0.6" opacity="0.8"/>
<path d="M872.9,813.3 872.0,811.1 871.0,809.0 869.9,806.9" fill="none" stroke="#5a1410" stroke-width="0.6" opacity="0.8"/>
<path d="M879.4,809.9 877.5,805.6 875.3,801.5 873.0,797.6" fill="none" stroke="#5a1410" stroke-width="0.6" opacity="0.8"/>
<ellipse cx="817" cy="846.5" rx="39.8" ry="43" fill="#97999c" stroke="#231f20" stroke-width="0.9"/>
<line x1="918" y1="723.5" x2="1002" y2="723.5" stroke="#231f20" stroke-width="2.6"/>
<line x1="928" y1="783.7" x2="1002" y2="783.7" stroke="#231f20" stroke-width="2.6"/>
<line x1="919.7" y1="844.5" x2="1002" y2="844.5" stroke="#231f20" stroke-width="2.6"/>
<line x1="876.7" y1="905.6" x2="1002" y2="905.6" stroke="#231f20" stroke-width="2.6"/>
</g>
</svg>
</body>
</html>
